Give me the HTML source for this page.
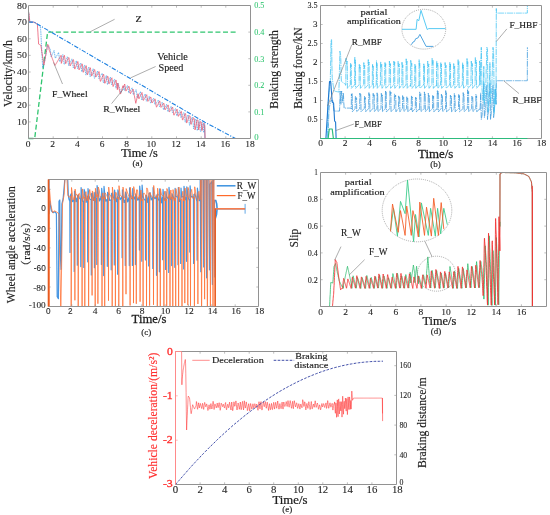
<!DOCTYPE html>
<html lang="en">
<head>
<meta charset="utf-8">
<title>ABS braking simulation curves</title>
<style>
html,body{margin:0;padding:0;background:#fff;}
body{width:550px;height:515px;overflow:hidden;font-family:"Liberation Serif",serif;}
svg{display:block;}
</style>
</head>
<body>
<svg width="550" height="515" viewBox="0 0 550 515" font-family='"Liberation Serif", serif'>
<rect x="0" y="0" width="550" height="515" fill="#ffffff"/>
<g id="pa">
<path d="M28.5 138.5 L34.7 138.5 L47.6 32.1 L235.7 32.1" fill="none" stroke="#2fc56f" stroke-width="1.3" stroke-dasharray="5 2.6" />
<path d="M28.5 11.3 L28.7 12.6 L29.0 13.8 L29.2 16.3 L29.5 18.8 L29.7 21.3 L30.0 22.1 L30.2 22.1 L30.5 22.1 L30.7 22.1 L31.0 22.1 L31.2 22.1 L31.5 22.1 L31.7 22.1 L32.0 22.1 L32.2 22.1 L32.4 22.1 L32.7 22.1 L32.9 22.1 L33.2 22.1 L33.4 22.1 L33.7 22.1 L33.9 22.1 L34.2 22.2 L34.4 22.3 L34.7 22.5 L34.9 22.6 L35.2 22.8 L35.4 22.9 L35.7 23.1 L35.9 23.2 L36.1 23.4 L36.4 23.5 L36.6 23.6 L36.9 23.8 L37.1 23.9 L37.4 24.1 L37.6 24.2 L37.9 24.4 L38.1 24.5 L38.4 24.7 L38.6 24.8 L38.9 24.9 L39.1 25.1 L39.4 25.2 L39.6 25.4 L39.8 25.5 L40.1 25.7 L40.3 26.9 L40.6 29.3 L40.8 31.7 L41.1 36.6 L41.3 41.6 L41.6 46.5 L41.8 51.4 L42.1 56.2 L42.3 61.1 L42.6 66.0 L42.8 67.9 L43.1 67.0 L43.3 66.0 L43.5 65.1 L43.8 64.1 L44.0 63.2 L44.3 62.3 L44.5 61.3 L44.8 60.0 L45.0 58.7 L45.3 57.4 L45.5 56.1 L45.8 54.8 L46.0 53.5 L46.3 52.3 L46.5 51.0 L46.8 49.7 L47.0 48.4 L47.2 47.2 L47.5 45.9 L47.7 45.4 L48.0 45.8 L48.2 46.1 L48.5 46.4 L48.7 46.8 L49.0 47.2 L49.2 47.8 L49.5 48.3 L49.7 48.9 L50.0 49.4 L50.2 49.3 L50.5 51.2 L50.7 53.1 L50.9 55.0 L51.2 56.9 L51.4 56.4 L51.7 55.8 L51.9 55.3 L52.2 54.7 L52.4 54.1 L52.7 53.5 L52.9 53.0 L53.2 52.4 L53.4 51.8 L53.7 51.3 L53.9 50.7 L54.2 50.7 L54.4 52.3 L54.6 53.9 L54.9 55.4 L55.1 57.0 L55.4 58.3 L55.6 57.9 L55.9 57.4 L56.1 57.0 L56.4 56.5 L56.6 56.1 L56.9 55.6 L57.1 55.1 L57.4 54.7 L57.6 54.2 L57.9 53.8 L58.1 53.3 L58.3 52.9 L58.6 52.4 L58.8 54.2 L59.1 56.1 L59.3 58.1 L59.6 60.1 L59.8 61.8 L60.1 61.2 L60.3 60.6 L60.6 60.0 L60.8 59.4 L61.1 58.8 L61.3 58.2 L61.6 57.6 L61.8 57.0 L62.0 56.4 L62.3 55.8 L62.5 55.2 L62.8 54.6 L63.0 55.6 L63.3 57.6 L63.5 59.7 L63.8 61.7 L64.0 63.7 L64.3 64.3 L64.5 63.7 L64.8 63.1 L65.0 62.5 L65.3 61.8 L65.5 61.2 L65.7 60.6 L66.0 60.0 L66.2 59.3 L66.5 58.7 L66.7 58.1 L67.0 57.4 L67.2 56.8 L67.5 57.3 L67.7 59.0 L68.0 60.8 L68.2 62.6 L68.5 64.3 L68.7 65.8 L69.0 65.3 L69.2 64.7 L69.4 64.2 L69.7 63.7 L69.9 63.1 L70.2 62.6 L70.4 62.1 L70.7 61.6 L70.9 61.0 L71.2 60.5 L71.4 60.0 L71.7 59.5 L71.9 58.9 L72.2 59.7 L72.4 61.6 L72.7 63.5 L72.9 65.4 L73.1 67.4 L73.4 67.8 L73.6 67.3 L73.9 66.7 L74.1 66.1 L74.4 65.5 L74.6 64.9 L74.9 64.3 L75.1 63.7 L75.4 63.1 L75.6 62.5 L75.9 62.0 L76.1 61.4 L76.4 60.8 L76.6 62.2 L76.8 63.8 L77.1 65.5 L77.3 67.1 L77.6 68.7 L77.8 68.3 L78.1 67.8 L78.3 67.3 L78.6 66.9 L78.8 66.4 L79.1 65.9 L79.3 65.4 L79.6 64.9 L79.8 64.5 L80.1 64.0 L80.3 63.5 L80.5 63.0 L80.8 63.6 L81.0 65.6 L81.3 67.7 L81.5 69.8 L81.8 71.9 L82.0 71.6 L82.3 71.0 L82.5 70.3 L82.8 69.7 L83.0 69.0 L83.3 68.4 L83.5 67.7 L83.8 67.1 L84.0 66.5 L84.2 65.8 L84.5 65.2 L84.7 65.1 L85.0 67.3 L85.2 69.6 L85.5 71.9 L85.7 74.2 L86.0 75.1 L86.2 74.3 L86.5 73.6 L86.7 72.9 L87.0 72.1 L87.2 71.4 L87.5 70.7 L87.7 70.0 L87.9 69.2 L88.2 68.5 L88.4 67.8 L88.7 67.1 L88.9 67.4 L89.2 69.5 L89.4 71.7 L89.7 73.8 L89.9 75.9 L90.2 76.7 L90.4 76.1 L90.7 75.4 L90.9 74.7 L91.2 74.1 L91.4 73.4 L91.6 72.7 L91.9 72.1 L92.1 71.4 L92.4 70.8 L92.6 70.1 L92.9 69.4 L93.1 68.8 L93.4 70.4 L93.6 72.4 L93.9 74.4 L94.1 76.3 L94.4 78.3 L94.6 78.2 L94.9 77.6 L95.1 77.0 L95.3 76.3 L95.6 75.7 L95.8 75.1 L96.1 74.5 L96.3 73.9 L96.6 73.3 L96.8 72.7 L97.1 72.1 L97.3 71.5 L97.6 70.9 L97.8 72.1 L98.1 73.7 L98.3 75.3 L98.6 76.8 L98.8 78.4 L99.0 78.6 L99.3 78.1 L99.5 77.7 L99.8 77.2 L100.0 76.8 L100.3 76.4 L100.5 75.9 L100.8 75.5 L101.0 75.0 L101.3 74.6 L101.5 74.1 L101.8 73.7 L102.0 73.3 L102.3 73.9 L102.5 76.0 L102.7 78.2 L103.0 80.3 L103.2 82.4 L103.5 82.8 L103.7 82.1 L104.0 81.5 L104.2 80.8 L104.5 80.1 L104.7 79.5 L105.0 78.8 L105.2 78.1 L105.5 77.5 L105.7 76.8 L106.0 76.2 L106.2 75.5 L106.4 75.6 L106.7 77.8 L106.9 80.0 L107.2 82.2 L107.4 84.4 L107.7 84.5 L107.9 83.8 L108.2 83.1 L108.4 82.4 L108.7 81.7 L108.9 81.0 L109.2 80.3 L109.4 79.6 L109.7 79.0 L109.9 78.3 L110.1 77.6 L110.4 77.1 L110.6 78.8 L110.9 80.5 L111.1 82.1 L111.4 83.8 L111.6 84.7 L111.9 84.2 L112.1 83.7 L112.4 83.2 L112.6 82.7 L112.9 82.2 L113.1 81.8 L113.4 81.3 L113.6 80.8 L113.8 80.3 L114.1 79.8 L114.3 79.3 L114.6 79.4 L114.8 81.1 L115.1 82.9 L115.3 84.6 L115.6 86.3 L115.8 88.1 L116.1 87.6 L116.3 87.1 L116.6 86.6 L116.8 86.1 L117.1 85.5 L117.3 85.0 L117.5 84.5 L117.8 84.0 L118.0 83.1 L118.3 84.0 L118.5 84.8 L118.8 85.6 L119.0 86.4 L119.3 87.2 L119.5 88.0 L119.8 88.8 L120.0 89.6 L120.3 90.4 L120.5 91.2 L120.8 91.9 L121.0 92.7 L121.2 92.2 L121.5 91.6 L121.7 91.0 L122.0 90.4 L122.2 89.9 L122.5 89.3 L122.7 88.8 L123.0 88.2 L123.2 87.6 L123.5 87.1 L123.7 86.5 L124.0 86.0 L124.2 89.1 L124.5 90.6 L124.7 90.2 L124.9 89.8 L125.2 89.3 L125.4 88.9 L125.7 88.5 L125.9 88.0 L126.2 87.6 L126.4 87.2 L126.7 86.8 L126.9 86.4 L127.2 85.9 L127.4 85.5 L127.7 86.0 L127.9 87.5 L128.2 89.0 L128.4 90.5 L128.6 92.0 L128.9 93.1 L129.1 92.6 L129.4 92.2 L129.6 91.8 L129.9 91.4 L130.1 91.0 L130.4 90.6 L130.6 90.2 L130.9 89.7 L131.1 89.3 L131.4 88.9 L131.6 88.5 L131.9 88.1 L132.1 87.7 L132.3 88.7 L132.6 90.3 L132.8 91.9 L133.1 93.5 L133.3 94.7 L133.6 94.3 L133.8 93.8 L134.1 93.4 L134.3 92.9 L134.6 92.4 L134.8 92.0 L135.1 91.5 L135.3 91.0 L135.6 90.6 L135.8 90.1 L136.0 89.7 L136.3 90.6 L136.5 92.4 L136.8 94.1 L137.0 95.9 L137.3 97.7 L137.5 98.0 L137.8 97.4 L138.0 96.9 L138.3 96.4 L138.5 95.9 L138.8 95.3 L139.0 94.8 L139.3 94.3 L139.5 93.8 L139.7 93.3 L140.0 92.8 L140.2 92.2 L140.5 91.7 L140.7 93.0 L141.0 94.7 L141.2 96.4 L141.5 98.1 L141.7 99.7 L142.0 100.2 L142.2 99.7 L142.5 99.2 L142.7 98.8 L143.0 98.3 L143.2 97.8 L143.4 97.3 L143.7 96.8 L143.9 96.3 L144.2 95.9 L144.4 95.4 L144.7 94.9 L144.9 94.4 L145.2 93.9 L145.4 95.5 L145.7 97.1 L145.9 98.7 L146.2 100.3 L146.4 101.2 L146.7 100.8 L146.9 100.3 L147.1 99.9 L147.4 99.4 L147.6 99.0 L147.9 98.5 L148.1 98.1 L148.4 97.6 L148.6 97.2 L148.9 96.7 L149.1 96.3 L149.4 96.4 L149.6 97.9 L149.9 99.3 L150.1 100.8 L150.4 102.3 L150.6 103.1 L150.8 102.7 L151.1 102.3 L151.3 101.9 L151.6 101.5 L151.8 101.1 L152.1 100.6 L152.3 100.2 L152.6 99.8 L152.8 99.4 L153.1 99.0 L153.3 98.6 L153.6 98.2 L153.8 98.9 L154.1 100.1 L154.3 101.4 L154.5 102.7 L154.8 104.0 L155.0 104.6 L155.3 104.3 L155.5 103.9 L155.8 103.6 L156.0 103.3 L156.3 102.9 L156.5 102.6 L156.8 102.3 L157.0 101.9 L157.3 101.6 L157.5 101.2 L157.8 100.9 L158.0 100.6 L158.2 100.2 L158.5 101.5 L158.7 102.9 L159.0 104.3 L159.2 105.8 L159.5 106.6 L159.7 106.2 L160.0 105.8 L160.2 105.4 L160.5 105.0 L160.7 104.6 L161.0 104.2 L161.2 103.9 L161.5 103.5 L161.7 103.1 L161.9 102.7 L162.2 102.3 L162.4 102.9 L162.7 104.6 L162.9 106.2 L163.2 107.8 L163.4 109.4 L163.7 109.8 L163.9 109.3 L164.2 108.8 L164.4 108.4 L164.7 107.9 L164.9 107.5 L165.2 107.0 L165.4 106.5 L165.6 106.1 L165.9 105.6 L166.1 105.1 L166.4 104.7 L166.6 104.2 L166.9 105.6 L167.1 107.1 L167.4 108.6 L167.6 110.2 L167.9 111.7 L168.1 111.6 L168.4 111.2 L168.6 110.8 L168.9 110.3 L169.1 109.9 L169.3 109.5 L169.6 109.0 L169.8 108.6 L170.1 108.2 L170.3 107.7 L170.6 107.3 L170.8 106.9 L171.1 106.4 L171.3 107.2 L171.6 108.5 L171.8 109.8 L172.1 111.1 L172.3 112.4 L172.6 112.6 L172.8 112.3 L173.0 112.0 L173.3 111.6 L173.5 111.3 L173.8 110.9 L174.0 110.6 L174.3 110.2 L174.5 109.9 L174.8 109.6 L175.0 109.2 L175.3 108.9 L175.5 108.5 L175.8 109.5 L176.0 111.0 L176.3 112.6 L176.5 114.1 L176.7 115.7 L177.0 115.6 L177.2 115.2 L177.5 114.7 L177.7 114.3 L178.0 113.8 L178.2 113.4 L178.5 112.9 L178.7 112.4 L179.0 112.0 L179.2 111.5 L179.5 111.0 L179.7 110.6 L180.0 110.8 L180.2 112.3 L180.4 113.9 L180.7 115.7 L180.9 117.4 L181.2 117.8 L181.4 117.4 L181.7 116.9 L181.9 116.4 L182.2 115.9 L182.4 115.4 L182.7 114.8 L182.9 114.3 L183.2 113.7 L183.4 113.1 L183.7 112.7 L183.9 112.8 L184.1 113.1 L184.4 115.3 L184.6 117.5 L184.9 119.8 L185.1 122.1 L185.4 122.1 L185.6 121.5 L185.9 120.8 L186.1 120.1 L186.4 119.4 L186.6 118.7 L186.9 117.9 L187.1 117.2 L187.4 116.4 L187.6 115.6 L187.8 114.9 L188.1 115.1 L188.3 115.2 L188.6 116.3 L188.8 118.7 L189.1 121.3 L189.3 123.9 L189.6 125.3 L189.8 124.5 L190.1 123.8 L190.3 123.0 L190.6 122.2 L190.8 121.3 L191.1 120.4 L191.3 119.5 L191.5 118.5 L191.8 117.5 L192.0 117.1 L192.3 117.3 L192.5 117.4 L192.8 118.1 L193.0 121.5 L193.3 125.1 L193.5 128.7 L193.8 128.1 L194.0 127.0 L194.3 125.8 L194.5 124.6 L194.8 123.4 L195.0 122.1 L195.2 120.8 L195.5 119.5 L195.7 119.1 L196.0 119.2 L196.2 119.4 L196.5 120.1 L196.7 124.3 L197.0 128.6 L197.2 130.6 L197.5 129.7 L197.7 128.2 L198.0 126.8 L198.2 125.3 L198.5 123.8 L198.7 122.3 L198.9 120.8 L199.2 120.9 L199.4 121.0 L199.7 121.2 L199.9 124.8 L200.2 129.7 L200.4 131.4 L200.7 131.4 L200.9 131.5 L201.2 130.8 L201.4 129.0 L201.7 127.2 L201.9 125.5 L202.2 123.8 L202.4 122.6 L202.6 122.7 L202.9 122.9 L203.1 123.9 L203.4 128.3 L203.6 132.1 L203.9 132.1 L204.1 132.2 L204.4 131.8 L204.6 130.2" fill="none" stroke="#4aa3ea" stroke-width="0.8" stroke-dasharray="1.6 0.7" />
<path d="M204.6 123.5 L204.9 138.5" fill="none" stroke="#4aa3ea" stroke-width="0.8" />
<path d="M28.5 11.3 L28.7 12.6 L29.0 13.8 L29.2 16.3 L29.5 18.8 L29.7 21.3 L30.0 22.1 L30.2 22.1 L30.5 22.1 L30.7 22.1 L31.0 22.1 L31.2 22.1 L31.5 22.1 L31.7 22.1 L32.0 22.1 L32.2 22.1 L32.4 22.1 L32.7 22.1 L32.9 22.1 L33.2 22.1 L33.4 22.1 L33.7 22.1 L33.9 22.1 L34.2 22.2 L34.4 22.3 L34.7 22.5 L34.9 22.6 L35.2 22.8 L35.4 22.9 L35.7 23.1 L35.9 23.2 L36.1 23.4 L36.4 23.5 L36.6 23.6 L36.9 23.8 L37.1 23.9 L37.4 24.1 L37.6 28.1 L37.9 32.1 L38.1 36.1 L38.4 40.1 L38.6 44.1 L38.9 44.2 L39.1 44.4 L39.4 44.5 L39.6 44.6 L39.8 44.7 L40.1 44.9 L40.3 45.0 L40.6 45.1 L40.8 45.2 L41.1 46.9 L41.3 48.5 L41.6 50.1 L41.8 51.8 L42.1 53.4 L42.3 55.0 L42.6 56.7 L42.8 58.3 L43.1 59.9 L43.3 61.5 L43.5 63.1 L43.8 64.7 L44.0 64.8 L44.3 63.4 L44.5 62.1 L44.8 60.7 L45.0 59.3 L45.3 58.0 L45.5 56.6 L45.8 55.3 L46.0 53.8 L46.3 52.3 L46.5 50.8 L46.8 49.3 L47.0 47.8 L47.2 46.4 L47.5 44.9 L47.7 44.3 L48.0 44.7 L48.2 45.0 L48.5 45.4 L48.7 45.7 L49.0 49.5 L49.2 50.1 L49.5 50.8 L49.7 51.5 L50.0 52.2 L50.2 52.8 L50.5 53.5 L50.7 54.2 L50.9 54.8 L51.2 55.5 L51.4 56.2 L51.7 56.8 L51.9 57.5 L52.2 58.2 L52.4 58.8 L52.7 59.5 L52.9 60.1 L53.2 60.8 L53.4 61.4 L53.7 62.1 L53.9 62.7 L54.2 63.4 L54.4 64.0 L54.6 64.7 L54.9 65.3 L55.1 65.4 L55.4 65.0 L55.6 64.5 L55.9 64.1 L56.1 63.7 L56.4 63.2 L56.6 62.8 L56.9 62.4 L57.1 62.0 L57.4 61.5 L57.6 61.1 L57.9 60.7 L58.1 60.3 L58.3 59.8 L58.6 59.4 L58.8 59.0 L59.1 58.6 L59.3 58.2 L59.6 57.8 L59.8 57.4 L60.1 56.9 L60.3 56.5 L60.6 56.1 L60.8 55.7 L61.1 55.3 L61.3 63.4 L61.6 62.7 L61.8 62.1 L62.0 61.4 L62.3 60.7 L62.5 60.0 L62.8 59.4 L63.0 58.7 L63.3 58.0 L63.5 57.3 L63.8 56.7 L64.0 56.0 L64.3 55.3 L64.5 56.1 L64.8 57.9 L65.0 59.7 L65.3 61.4 L65.5 63.2 L65.7 63.7 L66.0 63.2 L66.2 62.7 L66.5 62.2 L66.7 61.6 L67.0 61.1 L67.2 60.6 L67.5 60.1 L67.7 59.5 L68.0 59.0 L68.2 58.5 L68.5 58.0 L68.7 57.5 L69.0 57.9 L69.2 59.6 L69.4 61.2 L69.7 62.9 L69.9 64.5 L70.2 65.9 L70.4 65.4 L70.7 64.9 L70.9 64.4 L71.2 63.9 L71.4 63.5 L71.7 63.0 L71.9 62.5 L72.2 62.0 L72.4 61.5 L72.7 61.0 L72.9 60.6 L73.1 60.1 L73.4 59.6 L73.6 60.4 L73.9 62.5 L74.1 64.5 L74.4 66.6 L74.6 68.6 L74.9 69.1 L75.1 68.5 L75.4 67.8 L75.6 67.2 L75.9 66.6 L76.1 65.9 L76.4 65.3 L76.6 64.7 L76.8 64.0 L77.1 63.4 L77.3 62.8 L77.6 62.1 L77.8 61.5 L78.1 63.0 L78.3 64.7 L78.6 66.4 L78.8 68.2 L79.1 69.9 L79.3 69.4 L79.6 68.9 L79.8 68.4 L80.1 67.9 L80.3 67.3 L80.5 66.8 L80.8 66.3 L81.0 65.8 L81.3 65.3 L81.5 64.8 L81.8 64.3 L82.0 63.8 L82.3 64.2 L82.5 66.3 L82.8 68.3 L83.0 70.3 L83.3 72.3 L83.5 72.0 L83.8 71.4 L84.0 70.8 L84.2 70.2 L84.5 69.6 L84.7 68.9 L85.0 68.3 L85.2 67.7 L85.5 67.1 L85.7 66.5 L86.0 65.9 L86.2 65.7 L86.5 67.8 L86.7 69.9 L87.0 71.9 L87.2 74.0 L87.5 74.8 L87.7 74.2 L87.9 73.5 L88.2 72.9 L88.4 72.2 L88.7 71.6 L88.9 70.9 L89.2 70.3 L89.4 69.7 L89.7 69.0 L89.9 68.4 L90.2 67.7 L90.4 68.0 L90.7 69.9 L90.9 71.7 L91.2 73.6 L91.4 75.4 L91.6 76.1 L91.9 75.6 L92.1 75.0 L92.4 74.5 L92.6 73.9 L92.9 73.4 L93.1 72.8 L93.4 72.2 L93.6 71.7 L93.9 71.1 L94.1 70.6 L94.4 70.0 L94.6 69.5 L94.9 70.7 L95.1 72.3 L95.3 73.8 L95.6 75.4 L95.8 76.9 L96.1 76.8 L96.3 76.4 L96.6 76.0 L96.8 75.5 L97.1 75.1 L97.3 74.6 L97.6 74.2 L97.8 73.8 L98.1 73.3 L98.3 72.9 L98.6 72.5 L98.8 72.0 L99.0 71.6 L99.3 73.2 L99.5 75.2 L99.8 77.2 L100.0 79.2 L100.3 81.2 L100.5 81.4 L100.8 80.8 L101.0 80.2 L101.3 79.6 L101.5 78.9 L101.8 78.3 L102.0 77.7 L102.3 77.1 L102.5 76.5 L102.7 75.9 L103.0 75.3 L103.2 74.7 L103.5 74.1 L103.7 74.6 L104.0 76.7 L104.2 78.8 L104.5 81.0 L104.7 83.1 L105.0 83.4 L105.2 82.8 L105.5 82.1 L105.7 81.5 L106.0 80.8 L106.2 80.1 L106.4 79.5 L106.7 78.8 L106.9 78.2 L107.2 77.5 L107.4 76.9 L107.7 76.2 L107.9 76.3 L108.2 78.1 L108.4 79.9 L108.7 81.8 L108.9 83.6 L109.2 83.7 L109.4 83.1 L109.7 82.6 L109.9 82.0 L110.1 81.5 L110.4 80.9 L110.6 80.4 L110.9 79.8 L111.1 79.3 L111.4 78.7 L111.6 78.2 L111.9 77.8 L112.1 79.8 L112.4 81.7 L112.6 83.6 L112.9 85.5 L113.1 86.5 L113.4 85.9 L113.6 85.3 L113.8 84.8 L114.1 84.2 L114.3 83.6 L114.6 83.0 L114.8 82.4 L115.1 81.9 L115.3 81.3 L115.6 80.7 L115.8 80.1 L116.1 80.1 L116.3 82.0 L116.6 84.0 L116.8 85.9 L117.1 87.8 L117.3 89.7 L117.5 89.2 L117.8 83.2 L118.0 84.3 L118.3 85.3 L118.5 86.4 L118.8 87.5 L119.0 88.6 L119.3 89.7 L119.5 90.7 L119.8 91.8 L120.0 92.9 L120.3 93.9 L120.5 94.0 L120.8 93.2 L121.0 92.3 L121.2 91.5 L121.5 90.6 L121.7 89.8 L122.0 89.0 L122.2 88.1 L122.5 87.3 L122.7 86.5 L123.0 85.7 L123.2 87.7 L123.5 87.1 L123.7 86.5 L124.0 85.9 L124.2 85.3 L124.5 84.6 L124.7 84.0 L124.9 85.2 L125.2 86.7 L125.4 88.2 L125.7 89.7 L125.9 91.1 L126.2 90.7 L126.4 90.3 L126.7 89.9 L126.9 89.5 L127.2 89.1 L127.4 88.7 L127.7 88.3 L127.9 87.9 L128.2 87.5 L128.4 87.0 L128.6 86.6 L128.9 86.2 L129.1 86.8 L129.4 88.2 L129.6 89.7 L129.9 91.2 L130.1 92.7 L130.4 93.7 L130.6 93.3 L130.9 92.9 L131.1 92.5 L131.4 92.1 L131.6 91.7 L131.9 91.2 L132.1 90.8 L132.3 90.4 L132.6 90.0 L132.8 89.6 L133.1 89.2 L133.3 90.2 L133.6 91.6 L133.8 92.9 L134.1 94.2 L134.3 95.5 L134.6 96.9 L134.8 98.2 L135.1 99.5 L135.3 100.8 L135.6 102.1 L135.8 103.3 L136.0 102.2 L136.3 101.1 L136.5 100.1 L136.8 99.0 L137.0 97.9 L137.3 96.8 L137.5 95.8 L137.8 94.7 L138.0 93.7 L138.3 94.9 L138.5 96.7 L138.8 98.5 L139.0 98.8 L139.3 98.3 L139.5 97.7 L139.7 97.2 L140.0 96.7 L140.2 96.1 L140.5 95.6 L140.7 95.1 L141.0 94.6 L141.2 94.0 L141.5 93.5 L141.7 93.0 L142.0 92.5 L142.2 93.7 L142.5 95.3 L142.7 96.8 L143.0 98.4 L143.2 100.0 L143.4 100.4 L143.7 100.0 L143.9 99.5 L144.2 99.1 L144.4 98.6 L144.7 98.2 L144.9 97.8 L145.2 97.3 L145.4 96.9 L145.7 96.4 L145.9 96.0 L146.2 95.5 L146.4 95.1 L146.7 94.7 L146.9 96.1 L147.1 97.5 L147.4 99.0 L147.6 100.5 L147.9 101.4 L148.1 101.0 L148.4 100.6 L148.6 100.2 L148.9 99.7 L149.1 99.3 L149.4 98.9 L149.6 98.6 L149.9 98.2 L150.1 97.8 L150.4 97.4 L150.6 97.0 L150.8 97.1 L151.1 98.4 L151.3 99.7 L151.6 101.0 L151.8 102.3 L152.1 103.0 L152.3 102.7 L152.6 102.3 L152.8 102.0 L153.1 101.6 L153.3 101.3 L153.6 100.9 L153.8 100.6 L154.1 100.2 L154.3 99.9 L154.5 99.6 L154.8 99.2 L155.0 98.9 L155.3 99.8 L155.5 101.5 L155.8 103.1 L156.0 104.8 L156.3 106.4 L156.5 107.2 L156.8 106.7 L157.0 106.3 L157.3 105.8 L157.5 105.3 L157.8 104.8 L158.0 104.3 L158.2 103.8 L158.5 103.3 L158.7 102.9 L159.0 102.4 L159.2 101.9 L159.5 101.4 L159.7 100.9 L160.0 102.2 L160.2 103.7 L160.5 105.1 L160.7 106.5 L161.0 107.4 L161.2 107.0 L161.5 106.6 L161.7 106.2 L161.9 105.8 L162.2 105.4 L162.4 105.0 L162.7 104.6 L162.9 104.2 L163.2 103.8 L163.4 103.4 L163.7 103.0 L163.9 103.6 L164.2 105.0 L164.4 106.5 L164.7 108.0 L164.9 109.5 L165.2 109.9 L165.4 109.4 L165.6 109.0 L165.9 108.6 L166.1 108.2 L166.4 107.8 L166.6 107.4 L166.9 107.0 L167.1 106.6 L167.4 106.1 L167.6 105.7 L167.9 105.3 L168.1 104.9 L168.4 106.2 L168.6 107.6 L168.9 109.0 L169.1 110.4 L169.3 111.8 L169.6 111.8 L169.8 111.4 L170.1 111.0 L170.3 110.6 L170.6 110.2 L170.8 109.8 L171.1 109.5 L171.3 109.1 L171.6 108.7 L171.8 108.3 L172.1 107.9 L172.3 107.5 L172.6 107.1 L172.8 108.2 L173.0 109.8 L173.3 111.5 L173.5 113.2 L173.8 114.9 L174.0 115.2 L174.3 114.7 L174.5 114.2 L174.8 113.7 L175.0 113.2 L175.3 112.7 L175.5 112.2 L175.8 111.8 L176.0 111.3 L176.3 110.8 L176.5 110.3 L176.7 109.8 L177.0 109.2 L177.2 110.1 L177.5 111.6 L177.7 113.2 L178.0 114.7 L178.2 116.3 L178.5 116.2 L178.7 115.8 L179.0 115.3 L179.2 114.9 L179.5 114.4 L179.7 114.0 L180.0 113.5 L180.2 113.0 L180.4 112.6 L180.7 112.1 L180.9 111.6 L181.2 111.4 L181.4 111.5 L181.7 113.3 L181.9 115.4 L182.2 117.5 L182.4 119.6 L182.7 120.1 L182.9 119.5 L183.2 118.9 L183.4 118.2 L183.7 117.6 L183.9 116.9 L184.1 116.2 L184.4 115.5 L184.6 114.8 L184.9 114.0 L185.1 113.5 L185.4 113.6 L185.6 113.8 L185.9 115.9 L186.1 118.2 L186.4 120.4 L186.6 122.8 L186.9 122.8 L187.1 122.1 L187.4 121.4 L187.6 120.7 L187.8 120.0 L188.1 119.3 L188.3 118.5 L188.6 117.8 L188.8 117.0 L189.1 116.2 L189.3 115.7 L189.6 115.8 L189.8 116.0 L190.1 116.3 L190.3 118.6 L190.6 120.8 L190.8 123.2 L191.1 124.4 L191.3 123.7 L191.5 123.0 L191.8 122.3 L192.0 121.6 L192.3 120.8 L192.5 120.0 L192.8 119.2 L193.0 118.3 L193.3 117.8 L193.5 117.9 L193.8 118.1 L194.0 118.2 L194.3 118.7 L194.5 122.4 L194.8 126.1 L195.0 129.9 L195.2 129.3 L195.5 128.1 L195.7 126.8 L196.0 125.5 L196.2 124.2 L196.5 122.8 L196.7 121.5 L197.0 120.2 L197.2 119.9 L197.5 120.0 L197.7 120.1 L198.0 120.3 L198.2 123.9 L198.5 127.6 L198.7 129.9 L198.9 128.6 L199.2 127.4 L199.4 126.1 L199.7 124.8 L199.9 123.6 L200.2 122.3 L200.4 121.6 L200.7 121.7 L200.9 121.8 L201.2 122.0 L201.4 123.6 L201.7 127.2 L201.9 130.6 L202.2 130.3 L202.4 129.0 L202.6 127.8 L202.9 126.5 L203.1 125.4 L203.4 124.2 L203.6 123.3 L203.9 123.4 L204.1 123.5 L204.4 123.7 L204.6 124.3" fill="none" stroke="#e8506a" stroke-width="0.75" />
<path d="M204.7 125.2 L205.1 138.5" fill="none" stroke="#e8506a" stroke-width="0.8" />
<path d="M28.5 22.1 L34.0 22.1 L204.9 122.3 L235.5 138.5" fill="none" stroke="#1a7fe0" stroke-width="1.1" stroke-dasharray="4.5 1.5 1.2 1.5" />
<line x1="53.2" y1="138.5" x2="53.2" y2="136.3" stroke="#929292" stroke-width="0.6" />
<line x1="53.2" y1="5.5" x2="53.2" y2="7.7" stroke="#929292" stroke-width="0.6" />
<line x1="77.8" y1="138.5" x2="77.8" y2="136.3" stroke="#929292" stroke-width="0.6" />
<line x1="77.8" y1="5.5" x2="77.8" y2="7.7" stroke="#929292" stroke-width="0.6" />
<line x1="102.5" y1="138.5" x2="102.5" y2="136.3" stroke="#929292" stroke-width="0.6" />
<line x1="102.5" y1="5.5" x2="102.5" y2="7.7" stroke="#929292" stroke-width="0.6" />
<line x1="127.2" y1="138.5" x2="127.2" y2="136.3" stroke="#929292" stroke-width="0.6" />
<line x1="127.2" y1="5.5" x2="127.2" y2="7.7" stroke="#929292" stroke-width="0.6" />
<line x1="151.8" y1="138.5" x2="151.8" y2="136.3" stroke="#929292" stroke-width="0.6" />
<line x1="151.8" y1="5.5" x2="151.8" y2="7.7" stroke="#929292" stroke-width="0.6" />
<line x1="176.5" y1="138.5" x2="176.5" y2="136.3" stroke="#929292" stroke-width="0.6" />
<line x1="176.5" y1="5.5" x2="176.5" y2="7.7" stroke="#929292" stroke-width="0.6" />
<line x1="201.2" y1="138.5" x2="201.2" y2="136.3" stroke="#929292" stroke-width="0.6" />
<line x1="201.2" y1="5.5" x2="201.2" y2="7.7" stroke="#929292" stroke-width="0.6" />
<line x1="225.8" y1="138.5" x2="225.8" y2="136.3" stroke="#929292" stroke-width="0.6" />
<line x1="225.8" y1="5.5" x2="225.8" y2="7.7" stroke="#929292" stroke-width="0.6" />
<line x1="28.5" y1="121.9" x2="30.7" y2="121.9" stroke="#929292" stroke-width="0.6" />
<line x1="28.5" y1="105.2" x2="30.7" y2="105.2" stroke="#929292" stroke-width="0.6" />
<line x1="28.5" y1="88.6" x2="30.7" y2="88.6" stroke="#929292" stroke-width="0.6" />
<line x1="28.5" y1="72.0" x2="30.7" y2="72.0" stroke="#929292" stroke-width="0.6" />
<line x1="28.5" y1="55.4" x2="30.7" y2="55.4" stroke="#929292" stroke-width="0.6" />
<line x1="28.5" y1="38.8" x2="30.7" y2="38.8" stroke="#929292" stroke-width="0.6" />
<line x1="28.5" y1="22.1" x2="30.7" y2="22.1" stroke="#929292" stroke-width="0.6" />
<line x1="250.5" y1="111.9" x2="248.3" y2="111.9" stroke="#929292" stroke-width="0.6" />
<line x1="250.5" y1="85.3" x2="248.3" y2="85.3" stroke="#929292" stroke-width="0.6" />
<line x1="250.5" y1="58.7" x2="248.3" y2="58.7" stroke="#929292" stroke-width="0.6" />
<line x1="250.5" y1="32.1" x2="248.3" y2="32.1" stroke="#929292" stroke-width="0.6" />
<line x1="28.5" y1="5.5" x2="250.5" y2="5.5" stroke="#929292" stroke-width="1.0" />
<line x1="28.5" y1="138.5" x2="250.5" y2="138.5" stroke="#929292" stroke-width="1.0" />
<line x1="28.5" y1="5.5" x2="28.5" y2="138.5" stroke="#929292" stroke-width="1.0" />
<line x1="250.5" y1="5.5" x2="250.5" y2="138.5" stroke="#929292" stroke-width="1.0" />
<line x1="114.6" y1="19.3" x2="90.5" y2="31.6" stroke="#777" stroke-width="0.6" />
<line x1="155.6" y1="66.5" x2="130.5" y2="77.9" stroke="#777" stroke-width="0.6" />
<line x1="53.5" y1="62.4" x2="62.5" y2="84.0" stroke="#777" stroke-width="0.6" />
<line x1="124.0" y1="88.4" x2="111.6" y2="103.6" stroke="#777" stroke-width="0.6" />
<text font-size="8.8" fill="#262626" stroke="#262626" stroke-width="0.1" text-anchor="end" transform="translate(26.9 124.9) scale(1.114 1)">10</text>
<text font-size="8.8" fill="#262626" stroke="#262626" stroke-width="0.1" text-anchor="end" transform="translate(26.9 108.2) scale(1.114 1)">20</text>
<text font-size="8.8" fill="#262626" stroke="#262626" stroke-width="0.1" text-anchor="end" transform="translate(26.9 91.6) scale(1.114 1)">30</text>
<text font-size="8.8" fill="#262626" stroke="#262626" stroke-width="0.1" text-anchor="end" transform="translate(26.9 75.0) scale(1.114 1)">40</text>
<text font-size="8.8" fill="#262626" stroke="#262626" stroke-width="0.1" text-anchor="end" transform="translate(26.9 58.4) scale(1.114 1)">50</text>
<text font-size="8.8" fill="#262626" stroke="#262626" stroke-width="0.1" text-anchor="end" transform="translate(26.9 41.8) scale(1.114 1)">60</text>
<text font-size="8.8" fill="#262626" stroke="#262626" stroke-width="0.1" text-anchor="end" transform="translate(26.9 25.1) scale(1.114 1)">70</text>
<text font-size="8.8" fill="#262626" stroke="#262626" stroke-width="0.1" text-anchor="end" transform="translate(26.9 8.5) scale(1.114 1)">80</text>
<text font-size="8.8" fill="#262626" stroke="#262626" stroke-width="0.1" text-anchor="middle" transform="translate(28.0 146.8) scale(1.080 1)">0</text>
<text font-size="8.8" fill="#262626" stroke="#262626" stroke-width="0.1" text-anchor="middle" transform="translate(52.7 146.8) scale(1.080 1)">2</text>
<text font-size="8.8" fill="#262626" stroke="#262626" stroke-width="0.1" text-anchor="middle" transform="translate(77.3 146.8) scale(1.080 1)">4</text>
<text font-size="8.8" fill="#262626" stroke="#262626" stroke-width="0.1" text-anchor="middle" transform="translate(102.0 146.8) scale(1.080 1)">6</text>
<text font-size="8.8" fill="#262626" stroke="#262626" stroke-width="0.1" text-anchor="middle" transform="translate(126.7 146.8) scale(1.080 1)">8</text>
<text font-size="8.8" fill="#262626" stroke="#262626" stroke-width="0.1" text-anchor="middle" transform="translate(151.3 146.8) scale(1.080 1)">10</text>
<text font-size="8.8" fill="#262626" stroke="#262626" stroke-width="0.1" text-anchor="middle" transform="translate(176.0 146.8) scale(1.080 1)">12</text>
<text font-size="8.8" fill="#262626" stroke="#262626" stroke-width="0.1" text-anchor="middle" transform="translate(200.7 146.8) scale(1.080 1)">14</text>
<text font-size="8.8" fill="#262626" stroke="#262626" stroke-width="0.1" text-anchor="middle" transform="translate(225.3 146.8) scale(1.080 1)">16</text>
<text font-size="8.8" fill="#262626" stroke="#262626" stroke-width="0.1" text-anchor="middle" transform="translate(250.0 146.8) scale(1.080 1)">18</text>
<text font-size="8.5" fill="#2fc56f" stroke="#2fc56f" stroke-width="0.05" transform="translate(254.2 140.2) scale(1.035 1)">0</text>
<text font-size="8.5" fill="#2fc56f" stroke="#2fc56f" stroke-width="0.05" transform="translate(254.2 114.8) scale(0.960 1)">0.1</text>
<text font-size="8.5" fill="#2fc56f" stroke="#2fc56f" stroke-width="0.05" transform="translate(254.2 88.2) scale(0.960 1)">0.2</text>
<text font-size="8.5" fill="#2fc56f" stroke="#2fc56f" stroke-width="0.05" transform="translate(254.2 61.6) scale(0.960 1)">0.3</text>
<text font-size="8.5" fill="#2fc56f" stroke="#2fc56f" stroke-width="0.05" transform="translate(254.2 35.0) scale(0.960 1)">0.4</text>
<text font-size="8.5" fill="#2fc56f" stroke="#2fc56f" stroke-width="0.05" transform="translate(254.2 8.4) scale(0.960 1)">0.5</text>
<text font-size="12.3" fill="#1c1c1c" stroke="#1c1c1c" stroke-width="0.15" transform="translate(12.0 107.0) rotate(-90) scale(0.961 1)">Velocity/km/h</text>
<text font-size="12.3" fill="#1c1c1c" stroke="#1c1c1c" stroke-width="0.15" transform="translate(278.2 108.7) rotate(-90) scale(0.955 1)">Braking strength</text>
<text font-size="12" fill="#1c1c1c" stroke="#1c1c1c" stroke-width="0.25" transform="translate(121.2 157.1) scale(1.019 1)">Time /s</text>
<text font-size="9" fill="#1c1c1c" stroke="#1c1c1c" stroke-width="0.15" text-anchor="middle" transform="translate(137.5 165.5)">(a)</text>
<text font-size="9" fill="#1c1c1c" stroke="#1c1c1c" stroke-width="0.15" transform="translate(135.6 21.8) scale(1.146 1)">Z</text>
<text font-size="9.5" fill="#1c1c1c" stroke="#1c1c1c" stroke-width="0.15" transform="translate(157.2 60.4) scale(1.078 1)">Vehicle</text>
<text font-size="9.5" fill="#1c1c1c" stroke="#1c1c1c" stroke-width="0.15" transform="translate(158.5 70.9) scale(1.073 1)">Speed</text>
<text font-size="9" fill="#1c1c1c" stroke="#1c1c1c" stroke-width="0.15" transform="translate(52.0 97.1) scale(1.079 1)">F_Wheel</text>
<text font-size="9" fill="#1c1c1c" stroke="#1c1c1c" stroke-width="0.15" transform="translate(103.3 112.4) scale(1.092 1)">R_Wheel</text>
</g>
<g id="pb">
<path d="M320.5 138.5 L320.6 138.5 L320.7 138.5 L320.9 138.5 L321.0 138.5 L321.1 138.5 L321.2 138.5 L321.4 138.5 L321.5 138.5 L321.6 138.5 L321.7 138.5 L321.9 138.5 L322.0 138.5 L322.1 138.5 L322.2 138.5 L322.3 138.5 L322.5 138.5 L322.6 138.5 L322.7 138.5 L322.8 138.5 L323.0 138.5 L323.1 138.5 L323.2 138.5 L323.3 138.5 L323.4 138.5 L323.6 138.5 L323.7 138.5 L323.8 138.5 L323.9 138.5 L324.1 138.5 L324.2 138.5 L324.3 138.5 L324.4 138.5 L324.6 138.5 L324.7 138.5 L324.8 138.5 L324.9 138.5 L325.0 138.5 L325.2 138.5 L325.3 138.5 L325.4 138.5 L325.5 138.5 L325.7 138.5 L325.8 138.5 L325.9 138.5 L326.0 138.5 L326.1 138.5 L326.3 138.5 L326.4 138.5 L326.5 138.5 L326.6 138.5 L326.8 138.5 L326.9 138.5 L327.0 138.5 L327.1 138.5 L327.3 138.5 L327.4 138.5 L327.5 138.5 L327.6 138.5 L327.7 138.5 L327.9 138.5 L328.0 135.5 L328.1 132.4 L328.2 129.4 L328.4 126.3 L328.5 123.3 L328.6 120.3 L328.7 117.2 L328.8 114.2 L329.0 111.1 L329.1 108.1 L329.2 107.6 L329.3 107.1 L329.5 106.6 L329.6 106.1 L329.7 105.6 L329.8 105.1 L330.0 104.6 L330.1 104.0 L330.2 103.5 L330.3 103.0 L330.4 102.5 L330.6 102.0 L330.7 101.5 L330.8 101.0 L330.9 100.5 L331.1 100.5 L331.2 100.5 L331.3 100.5 L331.4 100.5 L331.6 100.5 L331.7 100.5 L331.8 100.5 L331.9 100.5 L332.0 100.5 L332.2 100.5 L332.3 100.5 L332.4 100.5 L332.5 100.5 L332.7 100.5 L332.8 100.5 L332.9 101.6 L333.0 102.6 L333.1 103.7 L333.3 104.8 L333.4 105.8 L333.5 106.9 L333.6 107.9 L333.8 109.0 L333.9 110.1 L334.0 111.1 L334.1 111.1 L334.3 111.1 L334.4 111.1 L334.5 111.1 L334.6 111.1 L334.7 111.1 L334.9 111.1 L335.0 111.1 L335.1 111.1 L335.2 111.1 L335.4 111.1 L335.5 111.1 L335.6 111.1 L335.7 111.1 L335.8 111.1 L336.0 111.1 L336.1 111.1 L336.2 111.1 L336.3 111.1 L336.5 111.1 L336.6 111.1 L336.7 111.1 L336.8 111.1 L337.0 111.1 L337.1 111.1 L337.2 111.1 L337.3 111.1 L337.4 111.1 L337.6 111.1 L337.7 111.1 L337.8 111.1 L337.9 111.1 L338.1 111.1 L338.2 111.1 L338.3 111.1 L338.4 111.1 L338.5 111.1 L338.7 111.1 L338.8 111.1 L338.9 111.1 L339.0 111.1 L339.2 111.1 L339.3 111.1 L339.4 111.1 L339.5 111.1 L339.7 107.1 L339.8 103.1 L339.9 99.1 L340.0 95.0 L340.1 91.0 L340.3 93.2 L340.4 95.4 L340.5 97.7 L340.6 99.9 L340.8 102.1 L340.9 104.3 L341.0 102.1 L341.1 99.9 L341.2 97.7 L341.4 95.4 L341.5 93.2 L341.6 91.0 L341.7 92.4 L341.9 93.8 L342.0 95.3 L342.1 96.7 L342.2 98.1 L342.4 99.6 L342.5 101.0 L342.6 102.4 L342.7 100.8 L342.8 99.2 L343.0 97.7 L343.1 96.1 L343.2 94.5 L343.3 92.9 L343.5 95.4 L343.6 98.0 L343.7 100.5 L343.8 103.0 L344.0 105.6 L344.1 108.1 L344.2 108.1 L344.3 108.1 L344.4 108.1 L344.6 108.1 L344.7 108.1 L344.8 108.1 L344.9 108.1 L345.1 108.1 L345.2 108.1 L345.3 108.1 L345.4 108.1 L345.5 108.1 L345.7 108.1 L345.8 108.1 L345.9 108.1 L346.0 108.1 L346.2 108.1 L346.3 108.1 L346.4 108.1 L346.5 108.1 L346.7 108.1 L346.8 108.1 L346.9 108.1 L347.0 108.1 L347.1 108.1 L347.3 108.1 L347.4 108.1 L347.5 108.1 L347.6 108.1 L347.8 108.1 L347.9 108.1 L348.0 108.1 L348.1 108.1 L348.2 108.1 L348.4 108.1 L348.5 108.1 L348.6 108.1 L348.7 108.1 L348.9 108.1 L349.0 108.1 L349.1 108.1 L349.2 108.1 L349.4 108.1 L349.5 108.1 L349.6 108.1 L349.7 108.1 L349.8 108.1 L350.0 108.1 L350.1 108.1 L350.2 108.1 L350.3 108.1 L350.5 108.1 L350.6 108.1 L350.7 108.1 L350.8 108.1 L350.9 108.1 L351.1 108.1 L351.2 108.1 L351.3 108.9 L351.4 93.9 L351.6 94.9 L351.7 95.8 L351.8 95.2 L351.9 94.6 L352.1 94.0 L352.2 93.4 L352.3 98.3 L352.4 111.9 L352.5 111.7 L352.7 111.6 L352.8 111.4 L352.9 111.3 L353.0 111.1 L353.2 111.0 L353.3 110.8 L353.4 110.7 L353.5 110.5 L353.6 110.4 L353.8 110.2 L353.9 110.1 L354.0 109.9 L354.1 109.8 L354.3 109.6 L354.4 109.5 L354.5 109.3 L354.6 109.2 L354.8 109.0 L354.9 108.9 L355.0 108.7 L355.1 108.6 L355.2 105.6 L355.4 96.1 L355.5 96.8 L355.6 97.5 L355.7 98.2 L355.9 98.9 L356.0 99.4 L356.1 99.0 L356.2 98.5 L356.4 98.1 L356.5 97.7 L356.6 98.6 L356.7 111.9 L356.8 111.7 L357.0 111.6 L357.1 111.5 L357.2 111.3 L357.3 111.2 L357.5 111.0 L357.6 110.9 L357.7 110.8 L357.8 110.6 L357.9 110.5 L358.1 110.3 L358.2 110.2 L358.3 110.0 L358.4 109.9 L358.6 109.8 L358.7 109.6 L358.8 109.5 L358.9 109.3 L359.1 109.2 L359.2 109.0 L359.3 108.9 L359.4 108.8 L359.5 108.6 L359.7 108.5 L359.8 93.9 L359.9 93.0 L360.0 94.1 L360.2 95.1 L360.3 96.2 L360.4 96.1 L360.5 95.5 L360.6 94.9 L360.8 94.2 L360.9 101.2 L361.0 111.8 L361.1 111.7 L361.3 111.6 L361.4 111.5 L361.5 111.3 L361.6 111.2 L361.8 111.1 L361.9 111.0 L362.0 110.8 L362.1 110.7 L362.2 110.6 L362.4 110.5 L362.5 110.3 L362.6 110.2 L362.7 110.1 L362.9 110.0 L363.0 109.8 L363.1 109.7 L363.2 109.6 L363.3 109.5 L363.5 109.3 L363.6 109.2 L363.7 109.1 L363.8 109.0 L364.0 108.8 L364.1 108.7 L364.2 108.6 L364.3 108.2 L364.5 96.0 L364.6 97.0 L364.7 98.0 L364.8 98.9 L364.9 99.3 L365.1 98.7 L365.2 98.1 L365.3 97.5 L365.4 109.0 L365.6 111.8 L365.7 111.7 L365.8 111.5 L365.9 111.4 L366.1 111.3 L366.2 111.1 L366.3 111.0 L366.4 110.9 L366.5 110.7 L366.7 110.6 L366.8 110.5 L366.9 110.3 L367.0 110.2 L367.2 110.1 L367.3 109.9 L367.4 109.8 L367.5 109.7 L367.6 109.6 L367.8 109.4 L367.9 109.3 L368.0 109.2 L368.1 109.0 L368.3 108.9 L368.4 108.8 L368.5 108.6 L368.6 108.5 L368.8 95.2 L368.9 92.6 L369.0 93.8 L369.1 95.0 L369.2 96.2 L369.4 95.6 L369.5 94.9 L369.6 94.2 L369.7 95.0 L369.9 111.9 L370.0 111.8 L370.1 111.6 L370.2 111.5 L370.3 111.3 L370.5 111.2 L370.6 111.1 L370.7 110.9 L370.8 110.8 L371.0 110.7 L371.1 110.5 L371.2 110.4 L371.3 110.3 L371.5 110.1 L371.6 110.0 L371.7 109.9 L371.8 109.7 L371.9 109.6 L372.1 109.4 L372.2 109.3 L372.3 109.2 L372.4 109.0 L372.6 108.9 L372.7 108.8 L372.8 108.6 L372.9 108.5 L373.0 95.9 L373.2 93.3 L373.3 94.2 L373.4 95.2 L373.5 96.2 L373.7 96.7 L373.8 96.1 L373.9 95.6 L374.0 95.0 L374.2 94.4 L374.3 107.8 L374.4 111.8 L374.5 111.6 L374.6 111.5 L374.8 111.3 L374.9 111.1 L375.0 111.0 L375.1 110.8 L375.3 110.7 L375.4 110.5 L375.5 110.3 L375.6 110.2 L375.8 110.0 L375.9 109.9 L376.0 109.7 L376.1 109.5 L376.2 109.4 L376.4 109.2 L376.5 109.0 L376.6 108.9 L376.7 108.7 L376.9 108.6 L377.0 102.7 L377.1 92.8 L377.2 94.3 L377.3 95.9 L377.5 96.2 L377.6 95.3 L377.7 94.4 L377.8 104.8 L378.0 111.8 L378.1 111.7 L378.2 111.6 L378.3 111.4 L378.5 111.3 L378.6 111.2 L378.7 111.0 L378.8 110.9 L378.9 110.8 L379.1 110.6 L379.2 110.5 L379.3 110.4 L379.4 110.2 L379.6 110.1 L379.7 110.0 L379.8 109.8 L379.9 109.7 L380.0 109.6 L380.2 109.4 L380.3 109.3 L380.4 109.2 L380.5 109.0 L380.7 108.9 L380.8 108.8 L380.9 108.6 L381.0 108.5 L381.2 96.6 L381.3 93.1 L381.4 94.1 L381.5 95.0 L381.6 96.0 L381.8 96.8 L381.9 96.2 L382.0 95.6 L382.1 95.1 L382.3 94.5 L382.4 101.5 L382.5 111.8 L382.6 111.7 L382.7 111.6 L382.9 111.4 L383.0 111.3 L383.1 111.1 L383.2 111.0 L383.4 110.8 L383.5 110.7 L383.6 110.5 L383.7 110.4 L383.9 110.2 L384.0 110.1 L384.1 110.0 L384.2 109.8 L384.3 109.7 L384.5 109.5 L384.6 109.4 L384.7 109.2 L384.8 109.1 L385.0 108.9 L385.1 108.8 L385.2 108.6 L385.3 108.5 L385.4 94.6 L385.6 91.0 L385.7 92.7 L385.8 94.4 L385.9 94.1 L386.1 93.0 L386.2 92.0 L386.3 107.5 L386.4 111.8 L386.6 111.7 L386.7 111.6 L386.8 111.4 L386.9 111.3 L387.0 111.2 L387.2 111.1 L387.3 111.0 L387.4 110.8 L387.5 110.7 L387.7 110.6 L387.8 110.5 L387.9 110.3 L388.0 110.2 L388.2 110.1 L388.3 110.0 L388.4 109.9 L388.5 109.7 L388.6 109.6 L388.8 109.5 L388.9 109.4 L389.0 109.2 L389.1 109.1 L389.3 109.0 L389.4 108.9 L389.5 108.8 L389.6 108.6 L389.7 108.5 L389.9 96.0 L390.0 90.7 L390.1 92.0 L390.2 93.3 L390.4 94.6 L390.5 94.3 L390.6 93.5 L390.7 92.7 L390.9 92.0 L391.0 109.2 L391.1 111.8 L391.2 111.7 L391.3 111.5 L391.5 111.4 L391.6 111.3 L391.7 111.2 L391.8 111.0 L392.0 110.9 L392.1 110.8 L392.2 110.6 L392.3 110.5 L392.4 110.4 L392.6 110.3 L392.7 110.1 L392.8 110.0 L392.9 109.9 L393.1 109.8 L393.2 109.6 L393.3 109.5 L393.4 109.4 L393.6 109.2 L393.7 109.1 L393.8 109.0 L393.9 108.9 L394.0 108.7 L394.2 108.6 L394.3 108.5 L394.4 95.6 L394.5 93.9 L394.7 94.7 L394.8 95.5 L394.9 96.3 L395.0 97.1 L395.1 97.2 L395.3 96.7 L395.4 96.2 L395.5 95.7 L395.6 95.2 L395.8 100.9 L395.9 111.8 L396.0 111.7 L396.1 111.5 L396.3 111.4 L396.4 111.2 L396.5 111.1 L396.6 110.9 L396.7 110.7 L396.9 110.6 L397.0 110.4 L397.1 110.3 L397.2 110.1 L397.4 110.0 L397.5 109.8 L397.6 109.6 L397.7 109.5 L397.9 109.3 L398.0 109.2 L398.1 109.0 L398.2 108.8 L398.3 108.7 L398.5 108.5 L398.6 101.2 L398.7 95.9 L398.8 96.7 L399.0 97.5 L399.1 98.3 L399.2 99.1 L399.3 98.6 L399.4 98.1 L399.6 97.6 L399.7 97.2 L399.8 104.6 L399.9 111.8 L400.1 111.7 L400.2 111.5 L400.3 111.3 L400.4 111.2 L400.6 111.0 L400.7 110.9 L400.8 110.7 L400.9 110.5 L401.0 110.4 L401.2 110.2 L401.3 110.0 L401.4 109.9 L401.5 109.7 L401.7 109.6 L401.8 109.4 L401.9 109.2 L402.0 109.1 L402.1 108.9 L402.3 108.8 L402.4 108.6 L402.5 106.3 L402.6 95.6 L402.8 96.4 L402.9 97.1 L403.0 97.9 L403.1 98.6 L403.3 98.9 L403.4 98.5 L403.5 98.0 L403.6 97.6 L403.7 97.1 L403.9 106.1 L404.0 111.8 L404.1 111.7 L404.2 111.5 L404.4 111.3 L404.5 111.2 L404.6 111.0 L404.7 110.9 L404.8 110.7 L405.0 110.6 L405.1 110.4 L405.2 110.3 L405.3 110.1 L405.5 109.9 L405.6 109.8 L405.7 109.6 L405.8 109.5 L406.0 109.3 L406.1 109.2 L406.2 109.0 L406.3 108.9 L406.4 108.7 L406.6 108.6 L406.7 103.2 L406.8 96.8 L406.9 97.6 L407.1 98.5 L407.2 99.3 L407.3 99.7 L407.4 99.2 L407.5 98.7 L407.7 98.2 L407.8 101.5 L407.9 111.9 L408.0 111.7 L408.2 111.6 L408.3 111.5 L408.4 111.4 L408.5 111.2 L408.7 111.1 L408.8 111.0 L408.9 110.9 L409.0 110.7 L409.1 110.6 L409.3 110.5 L409.4 110.4 L409.5 110.2 L409.6 110.1 L409.8 110.0 L409.9 109.9 L410.0 109.7 L410.1 109.6 L410.3 109.5 L410.4 109.4 L410.5 109.2 L410.6 109.1 L410.7 109.0 L410.9 108.8 L411.0 108.7 L411.1 108.6 L411.2 110.0 L411.4 95.7 L411.5 96.4 L411.6 97.5 L411.7 98.5 L411.8 98.8 L412.0 98.2 L412.1 97.6 L412.2 96.9 L412.3 110.9 L412.5 111.8 L412.6 111.6 L412.7 111.5 L412.8 111.3 L413.0 111.2 L413.1 111.1 L413.2 110.9 L413.3 110.8 L413.4 110.6 L413.6 110.5 L413.7 110.4 L413.8 110.2 L413.9 110.1 L414.1 109.9 L414.2 109.8 L414.3 109.6 L414.4 109.5 L414.5 109.4 L414.7 109.2 L414.8 109.1 L414.9 108.9 L415.0 108.8 L415.2 108.7 L415.3 108.5 L415.4 100.0 L415.5 97.1 L415.7 98.1 L415.8 99.1 L415.9 99.6 L416.0 98.9 L416.1 98.3 L416.3 97.8 L416.4 111.9 L416.5 111.8 L416.6 111.6 L416.8 111.5 L416.9 111.4 L417.0 111.2 L417.1 111.1 L417.2 111.0 L417.4 110.8 L417.5 110.7 L417.6 110.6 L417.7 110.4 L417.9 110.3 L418.0 110.2 L418.1 110.1 L418.2 109.9 L418.4 109.8 L418.5 109.7 L418.6 109.5 L418.7 109.4 L418.8 109.3 L419.0 109.1 L419.1 109.0 L419.2 108.9 L419.3 108.7 L419.5 108.6 L419.6 110.0 L419.7 91.8 L419.8 92.5 L419.9 93.5 L420.1 94.5 L420.2 95.5 L420.3 96.0 L420.4 95.4 L420.6 94.8 L420.7 94.3 L420.8 93.7 L420.9 104.0 L421.1 111.8 L421.2 111.7 L421.3 111.6 L421.4 111.4 L421.5 111.3 L421.7 111.2 L421.8 111.0 L421.9 110.9 L422.0 110.8 L422.2 110.6 L422.3 110.5 L422.4 110.4 L422.5 110.3 L422.7 110.1 L422.8 110.0 L422.9 109.9 L423.0 109.7 L423.1 109.6 L423.3 109.5 L423.4 109.3 L423.5 109.2 L423.6 109.1 L423.8 108.9 L423.9 108.8 L424.0 108.7 L424.1 108.5 L424.2 101.7 L424.4 91.9 L424.5 93.2 L424.6 94.5 L424.7 95.8 L424.9 95.4 L425.0 94.6 L425.1 93.9 L425.2 98.0 L425.4 111.9 L425.5 111.7 L425.6 111.6 L425.7 111.4 L425.8 111.3 L426.0 111.1 L426.1 111.0 L426.2 110.8 L426.3 110.7 L426.5 110.5 L426.6 110.4 L426.7 110.2 L426.8 110.1 L426.9 109.9 L427.1 109.8 L427.2 109.6 L427.3 109.5 L427.4 109.3 L427.6 109.2 L427.7 109.0 L427.8 108.9 L427.9 108.7 L428.1 108.6 L428.2 104.6 L428.3 93.2 L428.4 94.3 L428.5 95.3 L428.7 96.4 L428.8 97.1 L428.9 96.5 L429.0 95.8 L429.2 95.2 L429.3 96.9 L429.4 111.9 L429.5 111.7 L429.6 111.6 L429.8 111.5 L429.9 111.3 L430.0 111.2 L430.1 111.1 L430.3 110.9 L430.4 110.8 L430.5 110.7 L430.6 110.5 L430.8 110.4 L430.9 110.3 L431.0 110.1 L431.1 110.0 L431.2 109.9 L431.4 109.7 L431.5 109.6 L431.6 109.5 L431.7 109.3 L431.9 109.2 L432.0 109.1 L432.1 108.9 L432.2 108.8 L432.4 108.6 L432.5 108.5 L432.6 99.4 L432.7 95.1 L432.8 96.1 L433.0 97.1 L433.1 98.1 L433.2 97.9 L433.3 97.3 L433.5 96.7 L433.6 96.1 L433.7 109.2 L433.8 111.8 L433.9 111.7 L434.1 111.6 L434.2 111.4 L434.3 111.3 L434.4 111.2 L434.6 111.1 L434.7 110.9 L434.8 110.8 L434.9 110.7 L435.1 110.6 L435.2 110.4 L435.3 110.3 L435.4 110.2 L435.5 110.1 L435.7 110.0 L435.8 109.8 L435.9 109.7 L436.0 109.6 L436.2 109.5 L436.3 109.3 L436.4 109.2 L436.5 109.1 L436.6 109.0 L436.8 108.8 L436.9 108.7 L437.0 108.6 L437.1 110.0 L437.3 90.3 L437.4 90.4 L437.5 91.7 L437.6 93.0 L437.8 94.3 L437.9 93.7 L438.0 92.9 L438.1 92.1 L438.2 91.3 L438.4 110.6 L438.5 111.8 L438.6 111.6 L438.7 111.5 L438.9 111.3 L439.0 111.2 L439.1 111.0 L439.2 110.9 L439.3 110.7 L439.5 110.6 L439.6 110.4 L439.7 110.3 L439.8 110.1 L440.0 110.0 L440.1 109.9 L440.2 109.7 L440.3 109.6 L440.5 109.4 L440.6 109.3 L440.7 109.1 L440.8 109.0 L440.9 108.8 L441.1 108.7 L441.2 108.5 L441.3 100.2 L441.4 94.2 L441.6 95.1 L441.7 96.0 L441.8 96.9 L441.9 97.7 L442.1 97.2 L442.2 96.7 L442.3 96.2 L442.4 95.6 L442.5 102.3 L442.7 111.8 L442.8 111.7 L442.9 111.6 L443.0 111.4 L443.2 111.3 L443.3 111.1 L443.4 111.0 L443.5 110.8 L443.6 110.7 L443.8 110.6 L443.9 110.4 L444.0 110.3 L444.1 110.1 L444.3 110.0 L444.4 109.8 L444.5 109.7 L444.6 109.6 L444.8 109.4 L444.9 109.3 L445.0 109.1 L445.1 109.0 L445.2 108.9 L445.4 108.7 L445.5 108.6 L445.6 103.5 L445.7 90.6 L445.9 92.4 L446.0 94.1 L446.1 94.6 L446.2 93.6 L446.3 92.5 L446.5 104.8 L446.6 111.8 L446.7 111.7 L446.8 111.6 L447.0 111.5 L447.1 111.4 L447.2 111.3 L447.3 111.1 L447.5 111.0 L447.6 110.9 L447.7 110.8 L447.8 110.7 L447.9 110.6 L448.1 110.4 L448.2 110.3 L448.3 110.2 L448.4 110.1 L448.6 110.0 L448.7 109.9 L448.8 109.8 L448.9 109.6 L449.0 109.5 L449.2 109.4 L449.3 109.3 L449.4 109.2 L449.5 109.1 L449.7 108.9 L449.8 108.8 L449.9 108.7 L450.0 108.6 L450.2 108.5 L450.3 97.1 L450.4 95.2 L450.5 96.0 L450.6 96.8 L450.8 97.6 L450.9 98.3 L451.0 97.8 L451.1 97.3 L451.3 96.8 L451.4 96.4 L451.5 101.9 L451.6 111.8 L451.7 111.7 L451.9 111.5 L452.0 111.4 L452.1 111.2 L452.2 111.0 L452.4 110.9 L452.5 110.7 L452.6 110.6 L452.7 110.4 L452.9 110.2 L453.0 110.1 L453.1 109.9 L453.2 109.7 L453.3 109.6 L453.5 109.4 L453.6 109.3 L453.7 109.1 L453.8 108.9 L454.0 108.8 L454.1 108.6 L454.2 108.2 L454.3 93.3 L454.5 94.8 L454.6 96.3 L454.7 97.2 L454.8 96.3 L454.9 95.4 L455.1 103.1 L455.2 111.8 L455.3 111.7 L455.4 111.6 L455.6 111.5 L455.7 111.3 L455.8 111.2 L455.9 111.1 L456.0 111.0 L456.2 110.8 L456.3 110.7 L456.4 110.6 L456.5 110.5 L456.7 110.3 L456.8 110.2 L456.9 110.1 L457.0 110.0 L457.2 109.9 L457.3 109.7 L457.4 109.6 L457.5 109.5 L457.6 109.4 L457.8 109.2 L457.9 109.1 L458.0 109.0 L458.1 108.9 L458.3 108.7 L458.4 108.6 L458.5 108.5 L458.6 95.4 L458.7 94.5 L458.9 95.7 L459.0 96.8 L459.1 97.4 L459.2 96.7 L459.4 96.0 L459.5 95.4 L459.6 107.3 L459.7 111.8 L459.9 111.7 L460.0 111.6 L460.1 111.4 L460.2 111.3 L460.3 111.2 L460.5 111.1 L460.6 110.9 L460.7 110.8 L460.8 110.7 L461.0 110.6 L461.1 110.4 L461.2 110.3 L461.3 110.2 L461.4 110.1 L461.6 109.9 L461.7 109.8 L461.8 109.7 L461.9 109.5 L462.1 109.4 L462.2 109.3 L462.3 109.2 L462.4 109.0 L462.6 108.9 L462.7 108.8 L462.8 108.7 L462.9 108.5 L463.0 102.3 L463.2 92.6 L463.3 93.8 L463.4 95.1 L463.5 96.3 L463.7 96.0 L463.8 95.2 L463.9 94.5 L464.0 98.4 L464.2 111.9 L464.3 111.7 L464.4 111.6 L464.5 111.5 L464.6 111.4 L464.8 111.2 L464.9 111.1 L465.0 111.0 L465.1 110.8 L465.3 110.7 L465.4 110.6 L465.5 110.5 L465.6 110.3 L465.7 110.2 L465.9 110.1 L466.0 110.0 L466.1 109.8 L466.2 109.7 L466.4 109.6 L466.5 109.4 L466.6 109.3 L466.7 109.2 L466.9 109.1 L467.0 108.9 L467.1 108.8 L467.2 108.7 L467.3 108.5 L467.5 101.5 L467.6 89.7 L467.7 90.9 L467.8 92.1 L468.0 93.4 L468.1 94.3 L468.2 93.6 L468.3 92.9 L468.4 92.1 L468.6 91.4 L468.7 110.2 L468.8 111.8 L468.9 111.6 L469.1 111.5 L469.2 111.3 L469.3 111.2 L469.4 111.1 L469.6 110.9 L469.7 110.8 L469.8 110.6 L469.9 110.5 L470.0 110.4 L470.2 110.2 L470.3 110.1 L470.4 109.9 L470.5 109.8 L470.7 109.7 L470.8 109.5 L470.9 109.4 L471.0 109.2 L471.1 109.1 L471.3 109.0 L471.4 108.8 L471.5 108.7 L471.6 108.5 L471.8 101.4 L471.9 96.2 L472.0 97.1 L472.1 98.0 L472.3 98.8 L472.4 99.0 L472.5 98.5 L472.6 98.0 L472.7 97.4 L472.9 103.8 L473.0 111.8 L473.1 111.7 L473.2 111.5 L473.4 111.4 L473.5 111.2 L473.6 111.1 L473.7 110.9 L473.8 110.8 L474.0 110.6 L474.1 110.5 L474.2 110.3 L474.3 110.2 L474.5 110.1 L474.6 109.9 L474.7 109.8 L474.8 109.6 L475.0 109.5 L475.1 109.3 L475.2 109.2 L475.3 109.0 L475.4 108.9 L475.6 108.7 L475.7 108.6 L475.8 103.8 L475.9 94.4 L476.1 95.9 L476.2 97.3 L476.3 97.5 L476.4 96.7 L476.6 95.8 L476.7 107.8 L476.8 111.8 L476.9 111.7 L477.0 111.6 L477.2 111.4 L477.3 111.3 L477.4 111.2 L477.5 111.1 L477.7 110.9 L477.8 110.8 L477.9 110.7 L478.0 110.6 L478.1 110.4 L478.3 110.3 L478.4 110.2 L478.5 110.1 L478.6 109.9 L478.8 109.8 L478.9 109.7 L479.0 109.5 L479.1 109.4 L479.3 109.3 L479.4 109.2 L479.5 109.0 L479.6 108.9 L479.7 108.8 L479.9 108.7 L480.0 108.5 L480.1 110.0 L480.2 106.6 L480.4 103.2 L480.5 99.7 L480.6 96.3 L480.7 92.9 L480.8 98.2 L481.0 103.5 L481.1 108.9 L481.2 114.2 L481.3 119.5 L481.5 118.7 L481.6 118.0 L481.7 117.2 L481.8 116.5 L482.0 115.7 L482.1 114.9 L482.2 114.2 L482.3 113.4 L482.4 112.7 L482.6 111.9 L482.7 109.0 L482.8 106.2 L482.9 103.3 L483.1 100.5 L483.2 97.7 L483.3 94.8 L483.4 92.0 L483.5 89.1 L483.7 86.2 L483.8 83.4 L483.9 90.2 L484.0 97.1 L484.2 103.9 L484.3 110.8 L484.4 117.6 L484.5 116.7 L484.7 115.7 L484.8 114.7 L484.9 113.8 L485.0 112.8 L485.1 111.9 L485.3 110.9 L485.4 110.0 L485.5 109.0 L485.6 108.1 L485.8 105.8 L485.9 103.5 L486.0 101.3 L486.1 99.0 L486.2 96.7 L486.4 94.4 L486.5 92.1 L486.6 89.9 L486.7 87.6 L486.9 85.3 L487.0 92.1 L487.1 99.0 L487.2 105.8 L487.4 112.7 L487.5 119.5 L487.6 118.6 L487.7 117.6 L487.8 116.6 L488.0 115.7 L488.1 114.7 L488.2 113.8 L488.3 112.8 L488.5 111.9 L488.6 110.9 L488.7 110.0 L488.8 107.3 L489.0 104.7 L489.1 102.0 L489.2 99.4 L489.3 96.7 L489.4 94.0 L489.6 91.4 L489.7 88.7 L489.8 86.1 L489.9 83.4 L490.1 90.6 L490.2 97.8 L490.3 105.1 L490.4 112.3 L490.5 119.5 L490.7 118.4 L490.8 117.2 L490.9 116.1 L491.0 114.9 L491.2 113.8 L491.3 112.7 L491.4 111.5 L491.5 110.4 L491.7 109.2 L491.8 108.1 L491.9 105.8 L492.0 103.5 L492.1 101.3 L492.3 99.0 L492.4 96.7 L492.5 94.4 L492.6 92.1 L492.8 89.9 L492.9 87.6 L493.0 85.3 L493.1 91.8 L493.2 98.2 L493.4 104.7 L493.5 111.1 L493.6 117.6 L493.7 116.3 L493.9 114.9 L494.0 113.6 L494.1 112.3 L494.2 110.9 L494.4 109.6 L494.5 108.3 L494.6 107.0 L494.7 105.6 L494.8 104.3 L495.0 101.3 L495.1 98.2 L495.2 95.2 L495.3 92.1 L495.5 89.1 L495.6 92.1 L495.7 95.2 L495.8 98.2 L495.9 101.3 L496.1 104.3 L496.2 92.5 L496.3 80.7 L496.4 80.7 L496.6 80.7 L496.7 80.7 L496.8 80.7 L496.9 80.7 L497.1 80.7 L497.2 80.7 L497.3 80.7 L497.4 80.7 L497.5 80.7 L497.7 80.7 L497.8 80.7 L497.9 80.7 L498.0 80.7 L498.2 80.7 L498.3 80.7 L498.4 80.7 L498.5 80.7 L498.7 80.7 L498.8 80.7 L498.9 80.7 L499.0 80.7 L499.1 80.7 L499.3 80.7 L499.4 80.7 L499.5 80.7 L499.6 80.7 L499.8 80.7 L499.9 80.7 L500.0 80.7 L500.1 80.7 L500.2 80.7 L500.4 80.7 L500.5 80.7 L500.6 80.7 L500.7 80.7 L500.9 80.7 L501.0 80.7 L501.1 80.7 L501.2 80.7 L501.4 80.7 L501.5 80.7 L501.6 80.7 L501.7 80.7 L501.8 80.7 L502.0 80.7 L502.1 80.7 L502.2 80.7 L502.3 80.7 L502.5 80.7 L502.6 80.7 L502.7 80.7 L502.8 80.7 L502.9 80.7 L503.1 80.7 L503.2 80.7 L503.3 80.7 L503.4 80.7 L503.6 80.7 L503.7 80.7 L503.8 80.7 L503.9 80.7 L504.1 80.7 L504.2 80.7 L504.3 80.7 L504.4 80.7 L504.5 80.7 L504.7 80.7 L504.8 80.7 L504.9 80.7 L505.0 80.7 L505.2 80.7 L505.3 80.7 L505.4 80.7 L505.5 80.7 L505.6 80.7 L505.8 80.7 L505.9 80.7 L506.0 80.7 L506.1 80.7 L506.3 80.7 L506.4 80.7 L506.5 80.7 L506.6 80.7 L506.8 80.7 L506.9 80.7 L507.0 80.7 L507.1 80.7 L507.2 80.7 L507.4 80.7 L507.5 80.7 L507.6 80.7 L507.7 80.7 L507.9 80.7 L508.0 80.7 L508.1 80.7 L508.2 80.7 L508.4 80.7 L508.5 80.7 L508.6 80.7 L508.7 80.7 L508.8 80.7 L509.0 80.7 L509.1 80.7 L509.2 80.7 L509.3 80.7 L509.5 80.7 L509.6 80.7 L509.7 80.7 L509.8 80.7 L509.9 80.7 L510.1 80.7 L510.2 80.7 L510.3 80.7 L510.4 80.7 L510.6 80.7 L510.7 80.7 L510.8 80.7 L510.9 80.7 L511.1 80.7 L511.2 80.7 L511.3 80.7 L511.4 80.7 L511.5 80.7 L511.7 80.7 L511.8 80.7 L511.9 80.7 L512.0 80.7 L512.2 80.7 L512.3 80.7 L512.4 80.7 L512.5 80.7 L512.6 80.7 L512.8 80.7 L512.9 80.7 L513.0 80.7 L513.1 80.7 L513.3 80.7 L513.4 80.7 L513.5 80.7 L513.6 80.7 L513.8 80.7 L513.9 80.7 L514.0 80.7 L514.1 80.7 L514.2 80.7 L514.4 80.7 L514.5 80.7 L514.6 80.7 L514.7 80.7 L514.9 80.7 L515.0 80.7 L515.1 80.7 L515.2 80.7 L515.3 80.7 L515.5 80.7 L515.6 80.7 L515.7 80.7 L515.8 80.7 L516.0 80.7 L516.1 80.7 L516.2 80.7 L516.3 80.7 L516.5 80.7 L516.6 80.7 L516.7 80.7 L516.8 80.7 L516.9 80.7 L517.1 80.7 L517.2 80.7 L517.3 80.7 L517.4 80.7 L517.6 80.7 L517.7 80.7 L517.8 80.7 L517.9 80.7 L518.0 80.7 L518.2 80.7 L518.3 80.7 L518.4 80.7 L518.5 80.7 L518.7 80.7 L518.8 80.7 L518.9 80.7 L519.0 80.7 L519.2 80.7 L519.3 80.7 L519.4 80.7 L519.5 80.7 L519.6 80.7 L519.8 80.7 L519.9 80.7 L520.0 80.7 L520.1 80.7 L520.3 80.7 L520.4 80.7 L520.5 80.7 L520.6 80.7 L520.8 80.7 L520.9 80.7 L521.0 80.7 L521.1 80.7 L521.2 80.7 L521.4 80.7 L521.5 80.7 L521.6 80.7 L521.7 80.7 L521.9 80.7 L522.0 80.7 L522.1 80.7 L522.2 80.7 L522.3 80.7 L522.5 80.7 L522.6 80.7 L522.7 80.7 L522.8 80.7 L523.0 80.7 L523.1 80.7 L523.2 80.7 L523.3 80.7 L523.5 80.7 L523.6 80.7 L523.7 80.7 L523.8 80.7 L523.9 80.7 L524.1 80.7 L524.2 80.7 L524.3 80.7 L524.4 80.7 L524.6 80.7 L524.7 80.7 L524.8 80.7 L524.9 80.7 L525.0 80.7 L525.2 80.7 L525.3 80.7 L525.4 80.7 L525.5 80.7 L525.7 80.7 L525.8 80.7 L525.9 80.7 L526.0 80.7 L526.2 80.7 L526.3 80.7 L526.4 80.7 L526.5 80.7 L526.6 80.7 L526.8 80.7 L526.9 80.7 L527.0 80.7 L527.1 80.7 L527.3 80.7 L527.4 47.3" fill="none" stroke="#3d9bdc" stroke-width="0.8" stroke-dasharray="6 0.8 1.2 0.8" />
<path d="M320.5 138.5 L320.6 138.5 L320.7 138.5 L320.9 138.5 L321.0 138.5 L321.1 138.5 L321.2 138.5 L321.4 138.5 L321.5 138.5 L321.6 138.5 L321.7 138.5 L321.9 138.5 L322.0 138.5 L322.1 138.5 L322.2 138.5 L322.3 138.5 L322.5 138.5 L322.6 138.5 L322.7 138.5 L322.8 138.5 L323.0 138.5 L323.1 138.5 L323.2 138.5 L323.3 138.5 L323.4 138.5 L323.6 138.5 L323.7 138.5 L323.8 138.5 L323.9 138.5 L324.1 138.5 L324.2 138.5 L324.3 138.5 L324.4 138.5 L324.6 138.5 L324.7 138.5 L324.8 138.5 L324.9 138.5 L325.0 138.5 L325.2 138.5 L325.3 138.5 L325.4 138.5 L325.5 138.5 L325.7 138.5 L325.8 138.5 L325.9 138.5 L326.0 138.5 L326.1 138.5 L326.3 138.5 L326.4 138.5 L326.5 138.5 L326.6 138.5 L326.8 138.5 L326.9 138.5 L327.0 138.5 L327.1 138.5 L327.3 138.5 L327.4 133.6 L327.5 128.7 L327.6 123.8 L327.7 119.0 L327.9 114.1 L328.0 109.2 L328.1 104.3 L328.2 103.0 L328.4 101.8 L328.5 100.5 L328.6 99.2 L328.7 98.0 L328.8 96.7 L329.0 95.4 L329.1 94.2 L329.2 92.9 L329.3 91.6 L329.5 90.4 L329.6 89.1 L329.7 87.8 L329.8 86.6 L330.0 85.3 L330.1 84.0 L330.2 82.8 L330.3 81.5 L330.4 74.5 L330.6 67.6 L330.7 60.6 L330.8 53.6 L330.9 46.7 L331.1 39.7 L331.2 39.7 L331.3 39.7 L331.4 39.7 L331.6 39.7 L331.7 47.3 L331.8 54.9 L331.9 62.5 L332.0 70.1 L332.2 77.7 L332.3 78.6 L332.4 79.5 L332.5 80.4 L332.7 81.2 L332.8 82.1 L332.9 83.0 L333.0 83.9 L333.1 84.8 L333.3 85.7 L333.4 86.6 L333.5 87.5 L333.6 88.3 L333.8 89.2 L333.9 90.1 L334.0 91.0 L334.1 91.0 L334.3 91.1 L334.4 91.1 L334.5 91.1 L334.6 91.1 L334.7 91.2 L334.9 91.2 L335.0 91.2 L335.1 91.3 L335.2 91.3 L335.4 91.3 L335.5 91.3 L335.6 91.4 L335.7 91.4 L335.8 91.4 L336.0 91.5 L336.1 91.5 L336.2 91.5 L336.3 91.5 L336.5 91.6 L336.6 91.6 L336.7 91.6 L336.8 91.7 L337.0 91.7 L337.1 91.7 L337.2 91.7 L337.3 91.8 L337.4 91.8 L337.6 91.8 L337.7 91.9 L337.8 91.9 L337.9 91.9 L338.1 91.9 L338.2 92.0 L338.3 92.0 L338.4 92.0 L338.5 92.1 L338.7 92.1 L338.8 92.1 L338.9 92.1 L339.0 87.0 L339.2 81.9 L339.3 76.8 L339.4 71.6 L339.5 66.5 L339.7 61.4 L339.8 56.2 L339.9 51.1 L340.0 51.7 L340.1 52.4 L340.3 53.0 L340.4 53.6 L340.5 54.3 L340.6 54.9 L340.8 59.3 L340.9 63.8 L341.0 68.2 L341.1 72.6 L341.2 77.1 L341.4 81.5 L341.5 81.6 L341.6 81.7 L341.7 81.7 L341.9 81.8 L342.0 81.9 L342.1 82.0 L342.2 82.0 L342.4 82.1 L342.5 82.2 L342.6 82.3 L342.7 82.3 L342.8 82.4 L343.0 82.5 L343.1 82.6 L343.2 82.6 L343.3 82.7 L343.5 82.8 L343.6 82.9 L343.7 82.9 L343.8 83.0 L344.0 83.1 L344.1 83.2 L344.2 83.3 L344.3 83.5 L344.4 83.6 L344.6 83.7 L344.7 83.8 L344.8 83.9 L344.9 84.0 L345.1 84.1 L345.2 84.2 L345.3 84.3 L345.4 84.4 L345.5 85.3 L345.7 85.2 L345.8 85.0 L345.9 70.0 L346.0 58.2 L346.2 59.6 L346.3 60.9 L346.4 62.3 L346.5 63.7 L346.7 64.4 L346.8 63.6 L346.9 62.7 L347.0 61.9 L347.1 61.1 L347.3 63.3 L347.4 88.3 L347.5 88.2 L347.6 88.0 L347.8 87.9 L347.9 87.8 L348.0 87.6 L348.1 87.5 L348.2 87.3 L348.4 87.2 L348.5 87.0 L348.6 86.9 L348.7 86.8 L348.9 86.6 L349.0 86.5 L349.1 86.3 L349.2 86.2 L349.4 86.1 L349.5 85.9 L349.6 85.8 L349.7 85.6 L349.8 85.5 L350.0 85.4 L350.1 85.2 L350.2 85.1 L350.3 84.9 L350.5 64.9 L350.6 63.4 L350.7 65.4 L350.8 67.4 L350.9 66.9 L351.1 65.7 L351.2 64.5 L351.3 80.6 L351.4 88.3 L351.6 88.1 L351.7 88.0 L351.8 87.9 L351.9 87.7 L352.1 87.6 L352.2 87.5 L352.3 87.3 L352.4 87.2 L352.5 87.1 L352.7 87.0 L352.8 86.8 L352.9 86.7 L353.0 86.6 L353.2 86.4 L353.3 86.3 L353.4 86.2 L353.5 86.0 L353.6 85.9 L353.8 85.8 L353.9 85.7 L354.0 85.5 L354.1 85.4 L354.3 85.3 L354.4 85.1 L354.5 85.0 L354.6 78.3 L354.8 57.0 L354.9 59.5 L355.0 62.1 L355.1 63.4 L355.2 61.9 L355.4 60.3 L355.5 70.6 L355.6 88.3 L355.7 88.2 L355.9 88.1 L356.0 87.9 L356.1 87.8 L356.2 87.7 L356.4 87.6 L356.5 87.5 L356.6 87.3 L356.7 87.2 L356.8 87.1 L357.0 87.0 L357.1 86.8 L357.2 86.7 L357.3 86.6 L357.5 86.5 L357.6 86.4 L357.7 86.2 L357.8 86.1 L357.9 86.0 L358.1 85.9 L358.2 85.8 L358.3 85.6 L358.4 85.5 L358.6 85.4 L358.7 85.3 L358.8 85.2 L358.9 85.0 L359.1 84.9 L359.2 65.1 L359.3 64.0 L359.4 65.4 L359.5 66.9 L359.7 68.3 L359.8 67.9 L359.9 67.1 L360.0 66.2 L360.2 65.3 L360.3 80.7 L360.4 88.3 L360.5 88.1 L360.6 88.0 L360.8 87.9 L360.9 87.8 L361.0 87.6 L361.1 87.5 L361.3 87.4 L361.4 87.3 L361.5 87.1 L361.6 87.0 L361.8 86.9 L361.9 86.8 L362.0 86.6 L362.1 86.5 L362.2 86.4 L362.4 86.3 L362.5 86.1 L362.6 86.0 L362.7 85.9 L362.9 85.8 L363.0 85.6 L363.1 85.5 L363.2 85.4 L363.3 85.3 L363.5 85.2 L363.6 85.0 L363.7 84.4 L363.8 62.6 L364.0 64.2 L364.1 65.8 L364.2 67.4 L364.3 68.2 L364.5 67.3 L364.6 66.3 L364.7 65.3 L364.8 79.3 L364.9 88.3 L365.1 88.1 L365.2 88.0 L365.3 87.9 L365.4 87.7 L365.6 87.6 L365.7 87.5 L365.8 87.3 L365.9 87.2 L366.1 87.1 L366.2 86.9 L366.3 86.8 L366.4 86.7 L366.5 86.5 L366.7 86.4 L366.8 86.3 L366.9 86.1 L367.0 86.0 L367.2 85.9 L367.3 85.7 L367.4 85.6 L367.5 85.5 L367.6 85.3 L367.8 85.2 L367.9 85.1 L368.0 84.9 L368.1 63.7 L368.3 59.6 L368.4 61.5 L368.5 63.3 L368.6 65.2 L368.8 64.2 L368.9 63.1 L369.0 62.0 L369.1 65.0 L369.2 88.3 L369.4 88.2 L369.5 88.0 L369.6 87.9 L369.7 87.8 L369.9 87.6 L370.0 87.5 L370.1 87.4 L370.2 87.2 L370.3 87.1 L370.5 87.0 L370.6 86.8 L370.7 86.7 L370.8 86.6 L371.0 86.4 L371.1 86.3 L371.2 86.2 L371.3 86.0 L371.5 85.9 L371.6 85.7 L371.7 85.6 L371.8 85.5 L371.9 85.3 L372.1 85.2 L372.2 85.1 L372.3 84.9 L372.4 67.6 L372.6 64.4 L372.7 66.2 L372.8 68.0 L372.9 68.2 L373.0 67.1 L373.2 66.0 L373.3 72.5 L373.4 88.3 L373.5 88.2 L373.7 88.0 L373.8 87.9 L373.9 87.7 L374.0 87.6 L374.2 87.4 L374.3 87.3 L374.4 87.1 L374.5 87.0 L374.6 86.9 L374.8 86.7 L374.9 86.6 L375.0 86.4 L375.1 86.3 L375.3 86.1 L375.4 86.0 L375.5 85.9 L375.6 85.7 L375.8 85.6 L375.9 85.4 L376.0 85.3 L376.1 85.1 L376.2 85.0 L376.4 76.1 L376.5 60.7 L376.6 63.0 L376.7 65.2 L376.9 65.9 L377.0 64.5 L377.1 63.2 L377.2 76.5 L377.3 88.3 L377.5 88.1 L377.6 88.0 L377.7 87.9 L377.8 87.7 L378.0 87.6 L378.1 87.5 L378.2 87.3 L378.3 87.2 L378.5 87.1 L378.6 86.9 L378.7 86.8 L378.8 86.7 L378.9 86.5 L379.1 86.4 L379.2 86.3 L379.3 86.1 L379.4 86.0 L379.6 85.9 L379.7 85.7 L379.8 85.6 L379.9 85.5 L380.0 85.3 L380.2 85.2 L380.3 85.1 L380.4 84.9 L380.5 67.2 L380.7 61.9 L380.8 63.2 L380.9 64.4 L381.0 65.7 L381.2 66.9 L381.3 66.9 L381.4 66.1 L381.5 65.4 L381.6 64.6 L381.8 63.9 L381.9 76.6 L382.0 88.3 L382.1 88.1 L382.3 88.0 L382.4 87.8 L382.5 87.7 L382.6 87.5 L382.7 87.4 L382.9 87.2 L383.0 87.1 L383.1 86.9 L383.2 86.8 L383.4 86.6 L383.5 86.5 L383.6 86.3 L383.7 86.1 L383.9 86.0 L384.0 85.8 L384.1 85.7 L384.2 85.5 L384.3 85.4 L384.5 85.2 L384.6 85.1 L384.7 84.9 L384.8 67.2 L385.0 62.5 L385.1 64.3 L385.2 66.2 L385.3 67.1 L385.4 66.0 L385.6 64.9 L385.7 63.7 L385.8 86.0 L385.9 88.2 L386.1 88.1 L386.2 88.0 L386.3 87.8 L386.4 87.7 L386.6 87.6 L386.7 87.5 L386.8 87.3 L386.9 87.2 L387.0 87.1 L387.2 87.0 L387.3 86.8 L387.4 86.7 L387.5 86.6 L387.7 86.5 L387.8 86.3 L387.9 86.2 L388.0 86.1 L388.2 86.0 L388.3 85.8 L388.4 85.7 L388.5 85.6 L388.6 85.5 L388.8 85.3 L388.9 85.2 L389.0 85.1 L389.1 84.9 L389.3 68.4 L389.4 61.1 L389.5 62.4 L389.6 63.8 L389.7 65.2 L389.9 66.5 L390.0 66.0 L390.1 65.2 L390.2 64.4 L390.4 63.6 L390.5 63.8 L390.6 88.3 L390.7 88.2 L390.9 88.1 L391.0 87.9 L391.1 87.8 L391.2 87.7 L391.3 87.5 L391.5 87.4 L391.6 87.2 L391.7 87.1 L391.8 87.0 L392.0 86.8 L392.1 86.7 L392.2 86.6 L392.3 86.4 L392.4 86.3 L392.6 86.2 L392.7 86.0 L392.8 85.9 L392.9 85.7 L393.1 85.6 L393.2 85.5 L393.3 85.3 L393.4 85.2 L393.6 85.1 L393.7 84.9 L393.8 63.3 L393.9 61.1 L394.0 63.1 L394.2 65.0 L394.3 65.7 L394.4 64.5 L394.5 63.3 L394.7 62.1 L394.8 88.3 L394.9 88.2 L395.0 88.1 L395.1 87.9 L395.3 87.8 L395.4 87.7 L395.5 87.5 L395.6 87.4 L395.8 87.3 L395.9 87.1 L396.0 87.0 L396.1 86.9 L396.3 86.7 L396.4 86.6 L396.5 86.5 L396.6 86.3 L396.7 86.2 L396.9 86.0 L397.0 85.9 L397.1 85.8 L397.2 85.6 L397.4 85.5 L397.5 85.4 L397.6 85.2 L397.7 85.1 L397.9 85.0 L398.0 71.3 L398.1 61.4 L398.2 62.6 L398.3 63.9 L398.5 65.1 L398.6 66.3 L398.7 66.8 L398.8 66.1 L399.0 65.3 L399.1 64.6 L399.2 63.9 L399.3 68.0 L399.4 88.3 L399.6 88.1 L399.7 88.0 L399.8 87.8 L399.9 87.6 L400.1 87.4 L400.2 87.3 L400.3 87.1 L400.4 86.9 L400.6 86.8 L400.7 86.6 L400.8 86.4 L400.9 86.2 L401.0 86.1 L401.2 85.9 L401.3 85.7 L401.4 85.6 L401.5 85.4 L401.7 85.2 L401.8 85.0 L401.9 81.1 L402.0 62.2 L402.1 64.0 L402.3 65.8 L402.4 67.7 L402.5 67.1 L402.6 66.0 L402.8 64.9 L402.9 75.2 L403.0 88.3 L403.1 88.1 L403.3 88.0 L403.4 87.9 L403.5 87.7 L403.6 87.6 L403.7 87.5 L403.9 87.3 L404.0 87.2 L404.1 87.0 L404.2 86.9 L404.4 86.8 L404.5 86.6 L404.6 86.5 L404.7 86.4 L404.8 86.2 L405.0 86.1 L405.1 85.9 L405.2 85.8 L405.3 85.7 L405.5 85.5 L405.6 85.4 L405.7 85.3 L405.8 85.1 L406.0 85.0 L406.1 73.2 L406.2 58.8 L406.3 60.8 L406.4 62.7 L406.6 64.6 L406.7 64.3 L406.8 63.1 L406.9 62.0 L407.1 61.3 L407.2 88.3 L407.3 88.2 L407.4 88.1 L407.5 88.0 L407.7 87.8 L407.8 87.7 L407.9 87.6 L408.0 87.5 L408.2 87.4 L408.3 87.2 L408.4 87.1 L408.5 87.0 L408.7 86.9 L408.8 86.7 L408.9 86.6 L409.0 86.5 L409.1 86.4 L409.3 86.3 L409.4 86.1 L409.5 86.0 L409.6 85.9 L409.8 85.8 L409.9 85.6 L410.0 85.5 L410.1 85.4 L410.3 85.3 L410.4 85.2 L410.5 85.0 L410.6 86.4 L410.7 60.3 L410.9 61.2 L411.0 62.7 L411.1 64.2 L411.2 65.7 L411.4 65.9 L411.5 65.0 L411.6 64.1 L411.7 63.2 L411.8 65.1 L412.0 88.3 L412.1 88.2 L412.2 88.0 L412.3 87.9 L412.5 87.7 L412.6 87.6 L412.7 87.4 L412.8 87.3 L413.0 87.1 L413.1 86.9 L413.2 86.8 L413.3 86.6 L413.4 86.5 L413.6 86.3 L413.7 86.2 L413.8 86.0 L413.9 85.9 L414.1 85.7 L414.2 85.6 L414.3 85.4 L414.4 85.3 L414.5 85.1 L414.7 85.0 L414.8 69.4 L414.9 63.9 L415.0 65.6 L415.2 67.4 L415.3 68.2 L415.4 67.1 L415.5 66.0 L415.7 65.6 L415.8 88.3 L415.9 88.2 L416.0 88.1 L416.1 87.9 L416.3 87.8 L416.4 87.7 L416.5 87.5 L416.6 87.4 L416.8 87.3 L416.9 87.1 L417.0 87.0 L417.1 86.9 L417.2 86.8 L417.4 86.6 L417.5 86.5 L417.6 86.4 L417.7 86.2 L417.9 86.1 L418.0 86.0 L418.1 85.8 L418.2 85.7 L418.4 85.6 L418.5 85.4 L418.6 85.3 L418.7 85.2 L418.8 85.0 L419.0 86.4 L419.1 59.7 L419.2 61.6 L419.3 63.9 L419.5 66.0 L419.6 64.6 L419.7 63.2 L419.8 65.7 L419.9 88.3 L420.1 88.2 L420.2 88.1 L420.3 88.0 L420.4 87.9 L420.6 87.7 L420.7 87.6 L420.8 87.5 L420.9 87.4 L421.1 87.3 L421.2 87.2 L421.3 87.1 L421.4 86.9 L421.5 86.8 L421.7 86.7 L421.8 86.6 L421.9 86.5 L422.0 86.4 L422.2 86.2 L422.3 86.1 L422.4 86.0 L422.5 85.9 L422.7 85.8 L422.8 85.7 L422.9 85.6 L423.0 85.4 L423.1 85.3 L423.3 85.2 L423.4 85.1 L423.5 85.0 L423.6 76.0 L423.8 63.4 L423.9 65.4 L424.0 67.4 L424.1 68.0 L424.2 66.8 L424.4 65.6 L424.5 76.1 L424.6 88.3 L424.7 88.1 L424.9 88.0 L425.0 87.8 L425.1 87.7 L425.2 87.6 L425.4 87.4 L425.5 87.3 L425.6 87.1 L425.7 87.0 L425.8 86.9 L426.0 86.7 L426.1 86.6 L426.2 86.4 L426.3 86.3 L426.5 86.1 L426.6 86.0 L426.7 85.9 L426.8 85.7 L426.9 85.6 L427.1 85.4 L427.2 85.3 L427.3 85.2 L427.4 85.0 L427.6 78.9 L427.7 61.1 L427.8 62.4 L427.9 63.7 L428.1 64.9 L428.2 66.2 L428.3 67.0 L428.4 66.3 L428.5 65.5 L428.7 64.8 L428.8 64.0 L428.9 68.2 L429.0 88.3 L429.2 88.2 L429.3 88.0 L429.4 87.9 L429.5 87.7 L429.6 87.6 L429.8 87.4 L429.9 87.3 L430.0 87.1 L430.1 87.0 L430.3 86.9 L430.4 86.7 L430.5 86.6 L430.6 86.4 L430.8 86.3 L430.9 86.1 L431.0 86.0 L431.1 85.8 L431.2 85.7 L431.4 85.5 L431.5 85.4 L431.6 85.2 L431.7 85.1 L431.9 85.0 L432.0 66.9 L432.1 58.0 L432.2 59.6 L432.4 61.2 L432.5 62.7 L432.6 64.3 L432.7 63.3 L432.8 62.4 L433.0 61.4 L433.1 60.5 L433.2 71.1 L433.3 88.3 L433.5 88.2 L433.6 88.0 L433.7 87.9 L433.8 87.8 L433.9 87.6 L434.1 87.5 L434.2 87.4 L434.3 87.3 L434.4 87.1 L434.6 87.0 L434.7 86.9 L434.8 86.7 L434.9 86.6 L435.1 86.5 L435.2 86.3 L435.3 86.2 L435.4 86.1 L435.5 86.0 L435.7 85.8 L435.8 85.7 L435.9 85.6 L436.0 85.4 L436.2 85.3 L436.3 85.2 L436.4 85.0 L436.5 86.4 L436.6 61.1 L436.8 61.0 L436.9 62.3 L437.0 63.7 L437.1 65.1 L437.3 66.4 L437.4 65.5 L437.5 64.7 L437.6 63.9 L437.8 63.1 L437.9 65.2 L438.0 88.3 L438.1 88.2 L438.2 88.0 L438.4 87.8 L438.5 87.7 L438.6 87.5 L438.7 87.4 L438.9 87.2 L439.0 87.0 L439.1 86.9 L439.2 86.7 L439.3 86.6 L439.5 86.4 L439.6 86.2 L439.7 86.1 L439.8 85.9 L440.0 85.8 L440.1 85.6 L440.2 85.5 L440.3 85.3 L440.5 85.1 L440.6 85.0 L440.7 71.5 L440.8 62.3 L440.9 64.5 L441.1 66.6 L441.2 66.7 L441.3 65.4 L441.4 64.1 L441.6 79.8 L441.7 88.3 L441.8 88.1 L441.9 88.0 L442.1 87.9 L442.2 87.8 L442.3 87.6 L442.4 87.5 L442.5 87.4 L442.7 87.3 L442.8 87.1 L442.9 87.0 L443.0 86.9 L443.2 86.8 L443.3 86.6 L443.4 86.5 L443.5 86.4 L443.6 86.3 L443.8 86.1 L443.9 86.0 L444.0 85.9 L444.1 85.8 L444.3 85.6 L444.4 85.5 L444.5 85.4 L444.6 85.2 L444.8 85.1 L444.9 85.0 L445.0 78.7 L445.1 62.5 L445.2 64.1 L445.4 65.6 L445.5 67.1 L445.6 67.9 L445.7 67.0 L445.9 66.1 L446.0 65.2 L446.1 71.6 L446.2 88.3 L446.3 88.2 L446.5 88.1 L446.6 87.9 L446.7 87.8 L446.8 87.7 L447.0 87.6 L447.1 87.4 L447.2 87.3 L447.3 87.2 L447.5 87.1 L447.6 86.9 L447.7 86.8 L447.8 86.7 L447.9 86.6 L448.1 86.4 L448.2 86.3 L448.3 86.2 L448.4 86.1 L448.6 85.9 L448.7 85.8 L448.8 85.7 L448.9 85.6 L449.0 85.4 L449.2 85.3 L449.3 85.2 L449.4 85.1 L449.5 84.9 L449.7 65.3 L449.8 62.4 L449.9 64.3 L450.0 66.1 L450.2 67.0 L450.3 65.9 L450.4 64.8 L450.5 63.7 L450.6 83.6 L450.8 88.2 L450.9 88.1 L451.0 87.9 L451.1 87.8 L451.3 87.6 L451.4 87.5 L451.5 87.4 L451.6 87.2 L451.7 87.1 L451.9 86.9 L452.0 86.8 L452.1 86.6 L452.2 86.5 L452.4 86.3 L452.5 86.2 L452.6 86.1 L452.7 85.9 L452.9 85.8 L453.0 85.6 L453.1 85.5 L453.2 85.3 L453.3 85.2 L453.5 85.0 L453.6 84.5 L453.7 63.2 L453.8 64.6 L454.0 66.0 L454.1 67.4 L454.2 68.8 L454.3 68.3 L454.5 67.5 L454.6 66.7 L454.7 65.8 L454.8 79.7 L454.9 88.3 L455.1 88.1 L455.2 88.0 L455.3 87.8 L455.4 87.7 L455.6 87.6 L455.7 87.4 L455.8 87.3 L455.9 87.1 L456.0 87.0 L456.2 86.9 L456.3 86.7 L456.4 86.6 L456.5 86.4 L456.7 86.3 L456.8 86.2 L456.9 86.0 L457.0 85.9 L457.2 85.8 L457.3 85.6 L457.4 85.5 L457.5 85.3 L457.6 85.2 L457.8 85.1 L457.9 84.9 L458.0 61.1 L458.1 59.5 L458.3 61.4 L458.4 63.3 L458.5 64.8 L458.6 63.7 L458.7 62.6 L458.9 61.4 L459.0 70.1 L459.1 88.3 L459.2 88.2 L459.4 88.0 L459.5 87.9 L459.6 87.8 L459.7 87.7 L459.9 87.5 L460.0 87.4 L460.1 87.3 L460.2 87.2 L460.3 87.0 L460.5 86.9 L460.6 86.8 L460.7 86.6 L460.8 86.5 L461.0 86.4 L461.1 86.3 L461.2 86.1 L461.3 86.0 L461.4 85.9 L461.6 85.8 L461.7 85.6 L461.8 85.5 L461.9 85.4 L462.1 85.2 L462.2 85.1 L462.3 85.0 L462.4 76.3 L462.6 62.7 L462.7 64.6 L462.8 66.4 L462.9 68.0 L463.0 66.9 L463.2 65.8 L463.3 64.7 L463.4 84.1 L463.5 88.2 L463.7 88.1 L463.8 88.0 L463.9 87.9 L464.0 87.7 L464.2 87.6 L464.3 87.5 L464.4 87.4 L464.5 87.2 L464.6 87.1 L464.8 87.0 L464.9 86.9 L465.0 86.7 L465.1 86.6 L465.3 86.5 L465.4 86.4 L465.5 86.2 L465.6 86.1 L465.7 86.0 L465.9 85.9 L466.0 85.7 L466.1 85.6 L466.2 85.5 L466.4 85.4 L466.5 85.2 L466.6 85.1 L466.7 85.0 L466.9 75.0 L467.0 58.2 L467.1 60.2 L467.2 62.2 L467.3 64.2 L467.5 63.9 L467.6 62.7 L467.7 61.5 L467.8 62.4 L468.0 88.3 L468.1 88.2 L468.2 88.1 L468.3 87.9 L468.4 87.8 L468.6 87.7 L468.7 87.5 L468.8 87.4 L468.9 87.3 L469.1 87.1 L469.2 87.0 L469.3 86.9 L469.4 86.7 L469.6 86.6 L469.7 86.4 L469.8 86.3 L469.9 86.2 L470.0 86.0 L470.2 85.9 L470.3 85.8 L470.4 85.6 L470.5 85.5 L470.7 85.4 L470.8 85.2 L470.9 85.1 L471.0 85.0 L471.1 71.3 L471.3 61.1 L471.4 62.5 L471.5 63.9 L471.6 65.3 L471.8 66.7 L471.9 66.1 L472.0 65.2 L472.1 64.4 L472.3 63.5 L472.4 70.2 L472.5 88.3 L472.6 88.1 L472.7 88.0 L472.9 87.8 L473.0 87.7 L473.1 87.5 L473.2 87.4 L473.4 87.2 L473.5 87.0 L473.6 86.9 L473.7 86.7 L473.8 86.6 L474.0 86.4 L474.1 86.3 L474.2 86.1 L474.3 85.9 L474.5 85.8 L474.6 85.6 L474.7 85.5 L474.8 85.3 L475.0 85.2 L475.1 85.0 L475.2 75.7 L475.3 57.2 L475.4 58.8 L475.6 60.4 L475.7 62.0 L475.8 63.6 L475.9 63.4 L476.1 62.5 L476.2 61.5 L476.3 60.5 L476.4 61.9 L476.6 88.3 L476.7 88.2 L476.8 88.0 L476.9 87.9 L477.0 87.7 L477.2 87.6 L477.3 87.5 L477.4 87.3 L477.5 87.2 L477.7 87.0 L477.8 86.9 L477.9 86.7 L478.0 86.6 L478.1 86.4 L478.3 86.3 L478.4 86.2 L478.5 86.0 L478.6 85.9 L478.8 85.7 L478.9 85.6 L479.0 85.4 L479.1 85.3 L479.3 85.1 L479.4 85.0 L479.5 75.5 L479.6 60.9 L479.7 62.6 L479.9 64.3 L480.0 66.1 L480.1 85.3 L480.2 80.7 L480.4 76.2 L480.5 71.6 L480.6 67.1 L480.7 62.5 L480.8 59.5 L481.0 56.4 L481.1 53.4 L481.2 50.3 L481.3 47.3 L481.5 55.7 L481.6 64.0 L481.7 72.4 L481.8 80.7 L482.0 89.1 L482.1 90.2 L482.2 91.4 L482.3 92.5 L482.4 93.7 L482.6 94.8 L482.7 95.9 L482.8 97.1 L482.9 98.2 L483.1 99.4 L483.2 100.5 L483.3 93.7 L483.4 86.8 L483.5 80.0 L483.7 73.1 L483.8 66.3 L483.9 73.9 L484.0 81.5 L484.2 89.1 L484.3 96.7 L484.4 104.3 L484.5 103.2 L484.7 102.0 L484.8 100.9 L484.9 99.7 L485.0 98.6 L485.1 97.5 L485.3 96.3 L485.4 95.2 L485.5 94.0 L485.6 92.9 L485.8 88.3 L485.9 83.8 L486.0 79.2 L486.1 74.7 L486.2 70.1 L486.4 65.5 L486.5 61.0 L486.6 56.4 L486.7 51.9 L486.9 47.3 L487.0 47.7 L487.1 48.1 L487.2 48.4 L487.4 48.8 L487.5 49.2 L487.6 61.7 L487.7 74.3 L487.8 86.8 L488.0 99.4 L488.1 111.9 L488.2 109.2 L488.3 106.6 L488.5 103.9 L488.6 101.3 L488.7 98.6 L488.8 95.9 L489.0 93.3 L489.1 90.6 L489.2 88.0 L489.3 85.3 L489.4 80.7 L489.6 76.2 L489.7 71.6 L489.8 67.1 L489.9 62.5 L490.1 70.9 L490.2 79.2 L490.3 87.6 L490.4 95.9 L490.5 104.3 L490.7 102.8 L490.8 101.3 L490.9 99.7 L491.0 98.2 L491.2 96.7 L491.3 95.2 L491.4 93.7 L491.5 92.1 L491.7 90.6 L491.8 89.1 L491.9 84.9 L492.0 80.7 L492.1 76.6 L492.3 72.4 L492.4 68.2 L492.5 64.0 L492.6 59.8 L492.8 55.7 L492.9 51.5 L493.0 47.3 L493.1 48.1 L493.2 48.8 L493.4 49.6 L493.5 50.3 L493.6 51.1 L493.7 63.6 L493.9 76.2 L494.0 88.7 L494.1 101.3 L494.2 113.8 L494.4 110.3 L494.5 106.7 L494.6 103.2 L494.7 99.7 L494.8 96.2 L495.0 92.6 L495.1 89.1 L495.2 91.6 L495.3 94.2 L495.5 96.7 L495.6 99.2 L495.7 101.8 L495.8 104.3 L495.9 92.9 L496.1 81.5 L496.2 45.0 L496.3 8.5 L496.4 10.8 L496.6 13.1 L496.7 13.1 L496.8 13.1 L496.9 13.1 L497.1 13.1 L497.2 13.1 L497.3 13.1 L497.4 13.1 L497.5 13.1 L497.7 13.1 L497.8 13.1 L497.9 13.1 L498.0 13.1 L498.2 13.1 L498.3 13.1 L498.4 13.1 L498.5 13.1 L498.7 13.1 L498.8 13.1 L498.9 13.1 L499.0 13.1 L499.1 13.1 L499.3 13.1 L499.4 13.1 L499.5 13.1 L499.6 13.1 L499.8 13.1 L499.9 13.1 L500.0 13.1 L500.1 13.1 L500.2 13.1 L500.4 13.1 L500.5 13.1 L500.6 13.1 L500.7 13.1 L500.9 13.1 L501.0 13.1 L501.1 13.1 L501.2 13.1 L501.4 13.1 L501.5 13.1 L501.6 13.1 L501.7 13.1 L501.8 13.1 L502.0 13.1 L502.1 13.1 L502.2 13.1 L502.3 13.1 L502.5 13.1 L502.6 13.1 L502.7 13.1 L502.8 13.1 L502.9 13.1 L503.1 13.1 L503.2 13.1 L503.3 13.1 L503.4 13.1 L503.6 13.1 L503.7 13.1 L503.8 13.1 L503.9 13.1 L504.1 13.1 L504.2 13.1 L504.3 13.1 L504.4 13.1 L504.5 13.1 L504.7 13.1 L504.8 13.1 L504.9 13.1 L505.0 13.1 L505.2 13.1 L505.3 13.1 L505.4 13.1 L505.5 13.1 L505.6 13.1 L505.8 13.1 L505.9 13.1 L506.0 13.1 L506.1 13.1 L506.3 13.1 L506.4 13.1 L506.5 13.1 L506.6 13.1 L506.8 13.1 L506.9 13.1 L507.0 13.1 L507.1 13.1 L507.2 13.1 L507.4 13.1 L507.5 13.1 L507.6 13.1 L507.7 13.1 L507.9 13.1 L508.0 13.1 L508.1 13.1 L508.2 13.1 L508.4 13.1 L508.5 13.1 L508.6 13.1 L508.7 13.1 L508.8 13.1 L509.0 13.1 L509.1 13.1 L509.2 13.1 L509.3 13.1 L509.5 13.1 L509.6 13.1 L509.7 13.1 L509.8 13.1 L509.9 13.1 L510.1 13.1 L510.2 13.1 L510.3 13.1 L510.4 13.1 L510.6 13.1 L510.7 13.1 L510.8 13.1 L510.9 13.1 L511.1 13.1 L511.2 13.1 L511.3 13.1 L511.4 13.1 L511.5 13.1 L511.7 13.1 L511.8 13.1 L511.9 13.1 L512.0 13.1 L512.2 13.1 L512.3 13.1 L512.4 13.1 L512.5 13.1 L512.6 13.1 L512.8 13.1 L512.9 13.1 L513.0 13.1 L513.1 13.1 L513.3 13.1 L513.4 13.1 L513.5 13.1 L513.6 13.1 L513.8 13.1 L513.9 13.1 L514.0 13.1 L514.1 13.1 L514.2 13.1 L514.4 13.1 L514.5 13.1 L514.6 13.1 L514.7 13.1 L514.9 13.1 L515.0 13.1 L515.1 13.1 L515.2 13.1 L515.3 13.1 L515.5 13.1 L515.6 13.1 L515.7 13.1 L515.8 13.1 L516.0 13.1 L516.1 13.1 L516.2 13.1 L516.3 13.1 L516.5 13.1 L516.6 13.1 L516.7 13.1 L516.8 13.1 L516.9 13.1 L517.1 13.1 L517.2 13.1 L517.3 13.1 L517.4 13.1 L517.6 13.1 L517.7 13.1 L517.8 13.1 L517.9 13.1 L518.0 13.1 L518.2 13.1 L518.3 13.1 L518.4 13.1 L518.5 13.1 L518.7 13.1 L518.8 13.1 L518.9 13.1 L519.0 13.1 L519.2 13.1 L519.3 13.1 L519.4 13.1 L519.5 13.1 L519.6 13.1 L519.8 13.1 L519.9 13.1 L520.0 13.1 L520.1 13.1 L520.3 13.1 L520.4 13.1 L520.5 13.1 L520.6 13.1 L520.8 13.1 L520.9 13.1 L521.0 13.1 L521.1 13.1 L521.2 13.1 L521.4 13.1 L521.5 13.1 L521.6 13.1 L521.7 13.1 L521.9 13.1 L522.0 13.1 L522.1 13.1 L522.2 13.1 L522.3 13.1 L522.5 13.1 L522.6 13.1 L522.7 13.1 L522.8 13.1 L523.0 13.1 L523.1 13.1 L523.2 13.1 L523.3 13.1 L523.5 13.1 L523.6 13.1 L523.7 13.1 L523.8 13.1 L523.9 13.1 L524.1 13.1 L524.2 13.1 L524.3 13.1 L524.4 13.1 L524.6 13.1 L524.7 13.1 L524.8 13.1 L524.9 13.1 L525.0 13.1 L525.2 13.1 L525.3 13.1 L525.4 13.1 L525.5 13.1 L525.7 13.1 L525.8 13.1 L525.9 13.1 L526.0 13.1 L526.2 13.1 L526.3 13.1 L526.4 13.1 L526.5 13.1 L526.6 13.1 L526.8 13.1 L526.9 13.1 L527.0 13.1 L527.1 13.1 L527.3 13.1 L527.4 5.5" fill="none" stroke="#45c4f2" stroke-width="0.8" stroke-dasharray="6 0.8 1.2 0.8" />
<path d="M325.9 138.5 L327.9 106.2 L329.5 81.5 L330.7 81.5 L332.2 102.0 L333.6 103.2 L334.6 121.0 L335.6 122.2 L336.1 138.5" fill="none" stroke="#1f78d0" stroke-width="1.1" stroke-linejoin="round"/>
<path d="M320.5 138.5 L328.1 138.5 L329.3 129.0 L332.2 129.0 L333.4 138.5 L527.4 138.5" fill="none" stroke="#2dbb7d" stroke-width="1.2" stroke-linejoin="round"/>
<line x1="345.1" y1="138.5" x2="345.1" y2="136.3" stroke="#929292" stroke-width="0.6" />
<line x1="345.1" y1="5.5" x2="345.1" y2="7.7" stroke="#929292" stroke-width="0.6" />
<line x1="369.6" y1="138.5" x2="369.6" y2="136.3" stroke="#929292" stroke-width="0.6" />
<line x1="369.6" y1="5.5" x2="369.6" y2="7.7" stroke="#929292" stroke-width="0.6" />
<line x1="394.2" y1="138.5" x2="394.2" y2="136.3" stroke="#929292" stroke-width="0.6" />
<line x1="394.2" y1="5.5" x2="394.2" y2="7.7" stroke="#929292" stroke-width="0.6" />
<line x1="418.7" y1="138.5" x2="418.7" y2="136.3" stroke="#929292" stroke-width="0.6" />
<line x1="418.7" y1="5.5" x2="418.7" y2="7.7" stroke="#929292" stroke-width="0.6" />
<line x1="443.3" y1="138.5" x2="443.3" y2="136.3" stroke="#929292" stroke-width="0.6" />
<line x1="443.3" y1="5.5" x2="443.3" y2="7.7" stroke="#929292" stroke-width="0.6" />
<line x1="467.8" y1="138.5" x2="467.8" y2="136.3" stroke="#929292" stroke-width="0.6" />
<line x1="467.8" y1="5.5" x2="467.8" y2="7.7" stroke="#929292" stroke-width="0.6" />
<line x1="492.4" y1="138.5" x2="492.4" y2="136.3" stroke="#929292" stroke-width="0.6" />
<line x1="492.4" y1="5.5" x2="492.4" y2="7.7" stroke="#929292" stroke-width="0.6" />
<line x1="516.9" y1="138.5" x2="516.9" y2="136.3" stroke="#929292" stroke-width="0.6" />
<line x1="516.9" y1="5.5" x2="516.9" y2="7.7" stroke="#929292" stroke-width="0.6" />
<line x1="320.5" y1="119.5" x2="322.7" y2="119.5" stroke="#929292" stroke-width="0.6" />
<line x1="320.5" y1="100.5" x2="322.7" y2="100.5" stroke="#929292" stroke-width="0.6" />
<line x1="320.5" y1="81.5" x2="322.7" y2="81.5" stroke="#929292" stroke-width="0.6" />
<line x1="320.5" y1="62.5" x2="322.7" y2="62.5" stroke="#929292" stroke-width="0.6" />
<line x1="320.5" y1="43.5" x2="322.7" y2="43.5" stroke="#929292" stroke-width="0.6" />
<line x1="320.5" y1="24.5" x2="322.7" y2="24.5" stroke="#929292" stroke-width="0.6" />
<line x1="541.5" y1="119.5" x2="539.3" y2="119.5" stroke="#929292" stroke-width="0.6" />
<line x1="541.5" y1="100.5" x2="539.3" y2="100.5" stroke="#929292" stroke-width="0.6" />
<line x1="541.5" y1="81.5" x2="539.3" y2="81.5" stroke="#929292" stroke-width="0.6" />
<line x1="541.5" y1="62.5" x2="539.3" y2="62.5" stroke="#929292" stroke-width="0.6" />
<line x1="541.5" y1="43.5" x2="539.3" y2="43.5" stroke="#929292" stroke-width="0.6" />
<line x1="541.5" y1="24.5" x2="539.3" y2="24.5" stroke="#929292" stroke-width="0.6" />
<line x1="320.5" y1="5.5" x2="541.5" y2="5.5" stroke="#929292" stroke-width="1.0" />
<line x1="320.5" y1="138.5" x2="541.5" y2="138.5" stroke="#929292" stroke-width="1.0" />
<line x1="320.5" y1="5.5" x2="320.5" y2="138.5" stroke="#929292" stroke-width="1.0" />
<line x1="541.5" y1="5.5" x2="541.5" y2="138.5" stroke="#929292" stroke-width="1.0" />
<path d="M320.5 138.5 L527.4 138.5" fill="none" stroke="#2dbb7d" stroke-width="1.2" />
<ellipse cx="423.8" cy="29.2" rx="21.9" ry="19.9" fill="#fff" stroke="#777" stroke-width="0.6" stroke-dasharray="1 1"/>
<path d="M402.0 29.3 L416.1 29.3 L417.1 19.4 L418.8 20.7 L421.0 10.4 L427.2 29.5 L428.8 28.6 L445.5 28.6" fill="none" stroke="#45c4f2" stroke-width="0.9" />
<path d="M411.4 44.7 L413.0 42.0 L414.4 41.5 L415.7 38.7 L417.9 38.0 L419.9 34.4 L426.1 46.4 L433.2 46.4" fill="none" stroke="#3d9bdc" stroke-width="0.9" />
<line x1="351.8" y1="44.7" x2="327.6" y2="106.0" stroke="#777" stroke-width="0.6" />
<line x1="353.9" y1="124.0" x2="335.7" y2="130.6" stroke="#777" stroke-width="0.6" />
<line x1="506.9" y1="28.9" x2="496.3" y2="41.5" stroke="#777" stroke-width="0.6" />
<line x1="503.6" y1="80.7" x2="519.0" y2="93.6" stroke="#777" stroke-width="0.6" />
<text font-size="8.5" fill="#262626" stroke="#262626" stroke-width="0.1" text-anchor="end" transform="translate(317.6 122.4) scale(0.960 1)">0.5</text>
<text font-size="8.5" fill="#262626" stroke="#262626" stroke-width="0.1" text-anchor="end" transform="translate(317.6 103.4) scale(1.059 1)">1</text>
<text font-size="8.5" fill="#262626" stroke="#262626" stroke-width="0.1" text-anchor="end" transform="translate(317.6 84.4) scale(0.960 1)">1.5</text>
<text font-size="8.5" fill="#262626" stroke="#262626" stroke-width="0.1" text-anchor="end" transform="translate(317.6 65.4) scale(1.059 1)">2</text>
<text font-size="8.5" fill="#262626" stroke="#262626" stroke-width="0.1" text-anchor="end" transform="translate(317.6 46.4) scale(0.960 1)">2.5</text>
<text font-size="8.5" fill="#262626" stroke="#262626" stroke-width="0.1" text-anchor="end" transform="translate(317.6 27.4) scale(1.059 1)">3</text>
<text font-size="8.5" fill="#262626" stroke="#262626" stroke-width="0.1" text-anchor="end" transform="translate(317.6 8.4) scale(0.960 1)">3.5</text>
<text font-size="8.8" fill="#262626" stroke="#262626" stroke-width="0.1" text-anchor="middle" transform="translate(320.5 146.4) scale(1.080 1)">0</text>
<text font-size="8.8" fill="#262626" stroke="#262626" stroke-width="0.1" text-anchor="middle" transform="translate(345.1 146.4) scale(1.080 1)">2</text>
<text font-size="8.8" fill="#262626" stroke="#262626" stroke-width="0.1" text-anchor="middle" transform="translate(369.6 146.4) scale(1.080 1)">4</text>
<text font-size="8.8" fill="#262626" stroke="#262626" stroke-width="0.1" text-anchor="middle" transform="translate(394.2 146.4) scale(1.080 1)">6</text>
<text font-size="8.8" fill="#262626" stroke="#262626" stroke-width="0.1" text-anchor="middle" transform="translate(418.7 146.4) scale(1.080 1)">8</text>
<text font-size="8.8" fill="#262626" stroke="#262626" stroke-width="0.1" text-anchor="middle" transform="translate(443.3 146.4) scale(1.080 1)">10</text>
<text font-size="8.8" fill="#262626" stroke="#262626" stroke-width="0.1" text-anchor="middle" transform="translate(467.8 146.4) scale(1.080 1)">12</text>
<text font-size="8.8" fill="#262626" stroke="#262626" stroke-width="0.1" text-anchor="middle" transform="translate(492.4 146.4) scale(1.080 1)">14</text>
<text font-size="8.8" fill="#262626" stroke="#262626" stroke-width="0.1" text-anchor="middle" transform="translate(516.9 146.4) scale(1.080 1)">16</text>
<text font-size="8.8" fill="#262626" stroke="#262626" stroke-width="0.1" text-anchor="middle" transform="translate(541.5 146.4) scale(1.080 1)">18</text>
<text font-size="12.3" fill="#1c1c1c" stroke="#1c1c1c" stroke-width="0.15" transform="translate(301.5 108.7) rotate(-90) scale(0.942 1)">Braking force/kN</text>
<text font-size="12" fill="#1c1c1c" stroke="#1c1c1c" stroke-width="0.25" transform="translate(418.0 157.5) scale(1.076 1)">Time/s</text>
<text font-size="9" fill="#1c1c1c" stroke="#1c1c1c" stroke-width="0.15" text-anchor="middle" transform="translate(435.5 166.6)">(b)</text>
<text font-size="9" fill="#1c1c1c" stroke="#1c1c1c" stroke-width="0.15" transform="translate(360.5 14.8) scale(1.170 1)">partial</text>
<text font-size="9" fill="#1c1c1c" stroke="#1c1c1c" stroke-width="0.15" transform="translate(347.0 24.4) scale(1.123 1)">amplification</text>
<text font-size="9" fill="#1c1c1c" stroke="#1c1c1c" stroke-width="0.15" transform="translate(351.8 45.4) scale(1.020 1)">R_MBF</text>
<text font-size="9" fill="#1c1c1c" stroke="#1c1c1c" stroke-width="0.15" transform="translate(354.6 127.0) scale(0.954 1)">F_MBF</text>
<text font-size="9" fill="#1c1c1c" stroke="#1c1c1c" stroke-width="0.15" transform="translate(509.4 27.8) scale(1.040 1)">F_HBF</text>
<text font-size="9" fill="#1c1c1c" stroke="#1c1c1c" stroke-width="0.15" transform="translate(512.6 103.2) scale(1.035 1)">R_HBF</text>
</g>
<g id="pc">
<clipPath id="clipc"><rect x="47.7" y="179.5" width="210.8" height="127.0"/></clipPath>
<filter id="blc" x="-5%" y="-5%" width="110%" height="110%"><feGaussianBlur stdDeviation="0.45"/></filter>
<g clip-path="url(#clipc)"><g filter="url(#blc)">
<path d="M48.5 179.5 L48.9 169.7 L49.2 213.7 L49.9 201.0 L51.4 210.8 L53.2 212.7 L54.9 211.7 L56.4 213.7 L57.2 296.7 L58.4 298.7 L59.0 201.0 L59.8 200.0 L60.2 252.8 L61.1 269.4 L61.9 203.9 L63.1 199.0 L64.8 179.5 L66.0 164.8 L67.4 169.7 L68.3 195.1 L68.9 199.0 L69.8 201.3 L70.0 252.5 L70.2 221.9 L70.3 195.6 L71.4 193.5 L72.4 201.6 L74.0 200.0 L74.2 271.4 L74.4 227.6 L74.5 191.2 L75.3 195.4 L76.0 201.7 L77.1 197.8 L77.3 265.2 L77.4 225.7 L77.6 195.3 L78.4 195.2 L79.3 197.8 L80.6 199.5 L80.8 266.6 L80.9 226.1 L81.1 187.6 L81.8 194.8 L82.6 201.4 L83.6 201.4 L83.8 267.4 L84.0 226.4 L84.1 189.3 L85.1 192.7 L86.1 202.4 L87.5 196.1 L87.7 261.8 L87.9 224.7 L88.0 188.6 L88.9 195.4 L89.8 199.0 L91.1 199.9 L91.3 275.0 L91.5 228.7 L91.6 193.6 L92.4 192.9 L93.2 200.5 L94.3 197.1 L94.4 267.7 L94.6 226.5 L94.7 192.8 L95.3 192.0 L95.9 202.0 L96.6 198.4 L96.8 264.5 L96.9 225.5 L97.1 185.5 L98.2 193.0 L99.4 201.0 L101.2 196.4 L101.4 264.5 L101.5 225.5 L101.7 188.3 L102.2 193.1 L102.8 197.0 L103.5 201.8 L103.7 275.6 L103.9 228.9 L104.0 186.4 L104.9 195.7 L105.8 201.1 L107.1 199.4 L107.3 266.3 L107.5 226.1 L107.6 192.3 L108.6 193.8 L109.6 200.3 L111.1 199.8 L111.2 269.8 L111.4 227.1 L111.5 193.7 L112.3 193.0 L113.1 197.9 L114.1 197.0 L114.3 264.9 L114.5 225.6 L114.6 190.1 L115.4 196.9 L116.3 201.6 L117.4 196.6 L117.6 274.2 L117.8 228.4 L117.9 189.9 L119.0 194.5 L120.1 199.6 L121.9 196.8 L122.1 257.7 L122.2 223.5 L122.4 189.9 L123.2 196.4 L124.0 202.5 L125.1 199.8 L125.3 265.5 L125.5 225.8 L125.6 192.0 L126.6 195.2 L127.6 201.8 L129.1 197.2 L129.3 265.6 L129.5 225.8 L129.6 187.9 L130.4 195.1 L131.2 197.7 L132.2 199.6 L132.4 265.4 L132.6 225.8 L132.7 188.5 L133.5 196.6 L134.2 198.9 L135.3 196.2 L135.4 264.6 L135.6 225.5 L135.7 193.9 L136.7 196.5 L137.7 200.1 L139.2 197.4 L139.4 250.1 L139.5 221.2 L139.7 186.1 L140.3 192.6 L140.9 198.4 L141.6 201.3 L141.8 261.2 L142.0 224.5 L142.1 185.0 L143.0 196.2 L143.9 198.8 L145.3 200.5 L145.5 259.9 L145.7 224.1 L145.8 195.7 L146.6 195.4 L147.4 202.5 L148.6 196.3 L148.7 266.0 L148.9 226.0 L149.0 193.4 L150.1 192.7 L151.1 199.9 L152.6 197.0 L152.8 268.4 L153.0 226.7 L153.1 187.6 L154.0 196.9 L154.9 198.7 L156.3 196.7 L156.5 275.3 L156.6 228.7 L156.8 195.3 L157.5 194.0 L158.2 198.8 L159.2 201.3 L159.4 271.8 L159.6 227.7 L159.7 188.8 L160.5 192.8 L161.3 202.8 L162.5 197.2 L162.7 259.7 L162.9 224.1 L163.0 189.4 L163.7 196.6 L164.4 200.2 L165.4 198.4 L165.6 269.5 L165.7 227.0 L165.9 191.6 L166.7 196.5 L167.4 198.2 L168.5 197.9 L168.7 272.4 L168.9 227.9 L169.0 187.4 L169.8 196.2 L170.5 199.6 L171.5 197.4 L171.7 265.6 L171.8 225.9 L172.0 193.7 L172.7 195.6 L173.5 197.2 L174.6 201.8 L174.8 267.3 L175.0 226.4 L175.1 188.4 L175.9 196.3 L176.7 196.8 L177.8 196.8 L178.0 264.7 L178.1 225.6 L178.3 187.5 L178.9 196.5 L179.6 201.3 L180.5 200.2 L180.7 263.5 L180.8 225.2 L181.0 188.0 L181.7 196.9 L182.5 196.7 L183.5 196.3 L183.7 269.0 L183.8 226.9 L184.0 186.4 L184.7 192.1 L185.4 199.7 L186.3 197.5 L186.5 261.3 L186.7 224.6 L186.8 186.9 L187.6 192.1 L188.4 198.5 L189.6 200.7 L189.8 252.1 L189.9 221.8 L190.1 185.9 L191.0 196.9 L192.0 196.7 L193.4 197.0 L193.6 263.5 L193.7 225.2 L193.9 194.5 L194.8 193.9 L195.7 196.5 L196.9 201.3 L197.1 260.2 L197.3 224.2 L197.4 188.2 L198.3 195.2 L199.2 200.7 L200.2 199.0 L200.2 179.9 L200.8 271.7 L201.3 176.9 L203.1 176.4 L203.7 267.0 L204.2 173.0 L206.0 171.2 L206.6 277.8 L207.2 175.5 L208.9 180.6 L209.5 269.8 L210.1 184.1 L211.8 181.7 L212.4 284.5 L213.0 174.5 L214.2 183.6 L214.8 277.0 L215.3 208.8 L245.1 208.8" fill="none" stroke="#4696e2" stroke-width="1.2" stroke-linejoin="round"/>
<path d="M215.3 199.0 L216.7 203.9 L217.1 208.8 L216.5 214.7 L215.3 218.6" fill="none" stroke="#3b92e0" stroke-width="1.6" />
<path d="M48.5 179.5 L48.7 150.2 L49.1 306.5 L49.5 189.3 L50.8 204.9 L52.6 212.7 L54.3 210.8 L56.1 211.7 L59.0 213.7 L59.9 267.4 L60.8 311.4 L61.6 267.4 L62.5 203.9 L64.2 194.2 L65.4 169.7 L66.6 171.7 L67.8 195.1 L68.9 197.1 L71.1 196.5 L71.2 308.9 L71.4 238.8 L71.5 187.5 L72.4 194.2 L73.3 199.9 L74.7 195.9 L74.9 300.3 L75.0 236.2 L75.1 189.1 L76.0 195.0 L76.8 194.4 L78.1 198.9 L78.2 321.5 L78.4 242.6 L78.5 194.0 L79.4 193.3 L80.4 197.4 L81.9 199.2 L82.1 310.5 L82.2 239.3 L82.3 188.9 L83.0 193.4 L83.7 198.5 L84.7 197.0 L84.8 311.2 L84.9 239.5 L85.1 193.8 L86.0 191.7 L87.0 200.7 L88.5 194.5 L88.6 315.3 L88.8 240.8 L88.9 195.3 L89.7 189.5 L90.6 195.5 L91.9 199.3 L92.1 295.4 L92.2 234.8 L92.3 190.9 L93.1 192.2 L93.9 200.8 L95.0 198.2 L95.2 323.6 L95.3 243.2 L95.4 188.3 L96.1 192.1 L96.8 197.3 L97.8 194.5 L97.9 303.7 L98.1 237.3 L98.2 187.0 L99.2 189.9 L100.2 196.9 L101.9 198.1 L102.0 317.1 L102.2 241.3 L102.3 195.6 L102.9 192.9 L103.6 199.1 L104.6 196.8 L104.7 321.4 L104.8 242.6 L105.0 192.8 L105.9 194.3 L106.8 195.5 L108.3 198.9 L108.5 300.7 L108.6 236.4 L108.7 187.1 L109.6 195.1 L110.6 195.4 L112.0 199.6 L112.2 318.0 L112.3 241.6 L112.4 187.1 L113.2 193.0 L114.0 200.2 L115.3 199.6 L115.4 322.3 L115.5 242.9 L115.7 192.2 L116.5 193.3 L117.3 198.8 L118.6 197.2 L118.8 318.6 L118.9 241.8 L119.0 185.7 L120.0 194.4 L121.0 196.1 L122.6 197.1 L122.8 319.5 L122.9 242.0 L123.0 187.1 L123.8 192.1 L124.6 198.1 L125.9 198.2 L126.0 294.2 L126.1 234.4 L126.2 188.6 L127.3 192.1 L128.3 194.8 L129.9 198.7 L130.1 305.5 L130.2 237.8 L130.3 187.3 L131.2 194.7 L132.0 199.0 L133.3 196.3 L133.5 303.1 L133.6 237.1 L133.7 186.6 L134.4 190.0 L135.1 195.5 L136.1 195.3 L136.3 303.8 L136.4 237.3 L136.5 189.8 L137.5 189.9 L138.4 198.8 L140.0 195.2 L140.1 301.7 L140.2 236.7 L140.4 191.1 L141.1 190.1 L141.8 200.9 L142.9 199.3 L143.1 312.7 L143.2 240.0 L143.3 193.5 L144.2 193.2 L145.1 194.5 L146.4 197.9 L146.5 307.5 L146.7 238.4 L146.8 187.9 L147.6 189.4 L148.3 194.4 L149.5 198.3 L149.6 305.6 L149.8 237.8 L149.9 192.6 L150.8 194.9 L151.8 196.8 L153.3 198.6 L153.5 304.8 L153.6 237.6 L153.7 185.5 L154.7 194.3 L155.6 197.6 L157.2 195.6 L157.3 325.6 L157.4 243.9 L157.6 188.2 L158.3 193.7 L159.0 196.0 L160.1 196.9 L160.3 308.7 L160.4 238.8 L160.5 188.7 L161.4 194.6 L162.3 195.3 L163.7 196.6 L163.9 307.5 L164.0 238.4 L164.1 195.6 L164.8 191.2 L165.5 200.9 L166.6 199.0 L166.7 312.7 L166.8 240.0 L166.9 188.5 L167.8 191.1 L168.6 198.3 L169.8 194.6 L170.0 316.1 L170.1 241.0 L170.2 194.8 L170.9 190.0 L171.6 199.2 L172.6 196.9 L172.8 316.7 L172.9 241.2 L173.0 189.6 L173.7 193.7 L174.5 200.4 L175.5 198.0 L175.7 323.2 L175.8 243.1 L175.9 188.7 L176.7 193.1 L177.4 196.0 L178.5 196.3 L178.6 323.2 L178.8 243.1 L178.9 187.0 L179.7 194.6 L180.6 199.9 L181.8 199.4 L182.0 323.3 L182.1 243.1 L182.2 196.0 L182.9 191.2 L183.6 201.0 L184.6 196.2 L184.8 303.1 L184.9 237.1 L185.0 188.0 L185.8 193.8 L186.5 196.1 L187.7 196.2 L187.8 305.2 L187.9 237.7 L188.0 187.4 L188.7 190.2 L189.4 196.5 L190.3 198.6 L190.5 305.8 L190.6 237.9 L190.7 193.0 L191.7 189.4 L192.7 198.3 L194.3 197.1 L194.4 323.1 L194.6 243.1 L194.7 186.8 L195.5 191.7 L196.4 197.6 L197.7 199.9 L197.9 304.0 L198.0 237.4 L198.1 192.8 L199.0 191.3 L199.9 199.8 L200.2 197.1 L201.0 170.6 L201.6 332.2 L202.1 171.0 L204.0 179.0 L204.6 299.2 L205.2 170.8 L206.8 178.1 L207.4 332.7 L208.0 170.3 L209.8 171.9 L210.4 309.0 L211.0 178.7 L212.4 171.9 L213.0 309.8 L213.6 181.9 L214.5 176.2 L215.1 331.6 L215.3 208.8 L245.1 208.8" fill="none" stroke="#ff7438" stroke-width="0.8" stroke-linejoin="round"/>
</g></g>
<line x1="245.1" y1="203.9" x2="245.1" y2="213.7" stroke="#3b92e0" stroke-width="0.8" />
<line x1="215.3" y1="208.8" x2="245.1" y2="208.8" stroke="#ff7a45" stroke-width="1.3" />
<line x1="71.8" y1="306.5" x2="71.8" y2="304.3" stroke="#929292" stroke-width="0.6" />
<line x1="71.8" y1="179.5" x2="71.8" y2="181.7" stroke="#929292" stroke-width="0.6" />
<line x1="95.2" y1="306.5" x2="95.2" y2="304.3" stroke="#929292" stroke-width="0.6" />
<line x1="95.2" y1="179.5" x2="95.2" y2="181.7" stroke="#929292" stroke-width="0.6" />
<line x1="118.5" y1="306.5" x2="118.5" y2="304.3" stroke="#929292" stroke-width="0.6" />
<line x1="118.5" y1="179.5" x2="118.5" y2="181.7" stroke="#929292" stroke-width="0.6" />
<line x1="141.8" y1="306.5" x2="141.8" y2="304.3" stroke="#929292" stroke-width="0.6" />
<line x1="141.8" y1="179.5" x2="141.8" y2="181.7" stroke="#929292" stroke-width="0.6" />
<line x1="165.2" y1="306.5" x2="165.2" y2="304.3" stroke="#929292" stroke-width="0.6" />
<line x1="165.2" y1="179.5" x2="165.2" y2="181.7" stroke="#929292" stroke-width="0.6" />
<line x1="188.5" y1="306.5" x2="188.5" y2="304.3" stroke="#929292" stroke-width="0.6" />
<line x1="188.5" y1="179.5" x2="188.5" y2="181.7" stroke="#929292" stroke-width="0.6" />
<line x1="211.8" y1="306.5" x2="211.8" y2="304.3" stroke="#929292" stroke-width="0.6" />
<line x1="211.8" y1="179.5" x2="211.8" y2="181.7" stroke="#929292" stroke-width="0.6" />
<line x1="235.2" y1="306.5" x2="235.2" y2="304.3" stroke="#929292" stroke-width="0.6" />
<line x1="235.2" y1="179.5" x2="235.2" y2="181.7" stroke="#929292" stroke-width="0.6" />
<line x1="48.5" y1="287.0" x2="50.7" y2="287.0" stroke="#929292" stroke-width="0.6" />
<line x1="48.5" y1="267.4" x2="50.7" y2="267.4" stroke="#929292" stroke-width="0.6" />
<line x1="48.5" y1="247.9" x2="50.7" y2="247.9" stroke="#929292" stroke-width="0.6" />
<line x1="48.5" y1="228.3" x2="50.7" y2="228.3" stroke="#929292" stroke-width="0.6" />
<line x1="48.5" y1="208.8" x2="50.7" y2="208.8" stroke="#929292" stroke-width="0.6" />
<line x1="48.5" y1="189.3" x2="50.7" y2="189.3" stroke="#929292" stroke-width="0.6" />
<line x1="258.5" y1="287.0" x2="256.3" y2="287.0" stroke="#929292" stroke-width="0.6" />
<line x1="258.5" y1="267.4" x2="256.3" y2="267.4" stroke="#929292" stroke-width="0.6" />
<line x1="258.5" y1="247.9" x2="256.3" y2="247.9" stroke="#929292" stroke-width="0.6" />
<line x1="258.5" y1="228.3" x2="256.3" y2="228.3" stroke="#929292" stroke-width="0.6" />
<line x1="258.5" y1="208.8" x2="256.3" y2="208.8" stroke="#929292" stroke-width="0.6" />
<line x1="258.5" y1="189.3" x2="256.3" y2="189.3" stroke="#929292" stroke-width="0.6" />
<line x1="48.5" y1="179.5" x2="258.5" y2="179.5" stroke="#929292" stroke-width="1.0" />
<line x1="48.5" y1="306.5" x2="258.5" y2="306.5" stroke="#929292" stroke-width="1.0" />
<line x1="48.5" y1="179.5" x2="48.5" y2="306.5" stroke="#929292" stroke-width="1.0" />
<line x1="258.5" y1="179.5" x2="258.5" y2="306.5" stroke="#929292" stroke-width="1.0" />
<line x1="48.5" y1="179.5" x2="48.5" y2="306.5" stroke="#e65a1f" stroke-width="1.6" />
<line x1="215.3" y1="208.8" x2="215.3" y2="306.5" stroke="#e65a1f" stroke-width="1.2" />
<rect x="214.5" y="180.2" width="43.5" height="19.5" fill="#fff"/>
<line x1="216.8" y1="185.8" x2="235.5" y2="185.8" stroke="#3b92e0" stroke-width="1.5" />
<line x1="216.8" y1="195.6" x2="235.5" y2="195.6" stroke="#ff6a2a" stroke-width="1.2" />
<text font-size="9.5" fill="#1c1c1c" stroke="#1c1c1c" stroke-width="0.15" transform="translate(236.8 188.8) scale(0.972 1)">R_W</text>
<text font-size="9.5" fill="#1c1c1c" stroke="#1c1c1c" stroke-width="0.15" transform="translate(237.6 198.7) scale(0.947 1)">F_W</text>
<text font-size="8.5" fill="#262626" stroke="#262626" stroke-width="0.1" text-anchor="end" transform="translate(45.7 307.7) scale(1.091 1)">-100</text>
<text font-size="8.5" fill="#262626" stroke="#262626" stroke-width="0.1" text-anchor="end" transform="translate(45.7 290.9) scale(1.103 1)">-80</text>
<text font-size="8.2" fill="#262626" stroke="#262626" stroke-width="0.1" font-family='"Liberation Sans", sans-serif' text-anchor="end" transform="translate(45.7 270.9)">-60</text>
<text font-size="8.2" fill="#262626" stroke="#262626" stroke-width="0.1" font-family='"Liberation Sans", sans-serif' text-anchor="end" transform="translate(45.7 251.1)">-40</text>
<text font-size="8.2" fill="#262626" stroke="#262626" stroke-width="0.1" font-family='"Liberation Sans", sans-serif' text-anchor="end" transform="translate(45.7 232.4)">-20</text>
<text font-size="8.2" fill="#262626" stroke="#262626" stroke-width="0.1" font-family='"Liberation Sans", sans-serif' text-anchor="end" transform="translate(45.7 211.4)">0</text>
<text font-size="8.2" fill="#262626" stroke="#262626" stroke-width="0.1" font-family='"Liberation Sans", sans-serif' text-anchor="end" transform="translate(45.7 192.2)">20</text>
<text font-size="8.2" fill="#262626" stroke="#262626" stroke-width="0.1" font-family='"Liberation Sans", sans-serif' text-anchor="middle" transform="translate(48.2 313.6)">0</text>
<text font-size="8.2" fill="#262626" stroke="#262626" stroke-width="0.1" font-family='"Liberation Sans", sans-serif' text-anchor="middle" transform="translate(70.4 313.6)">2</text>
<text font-size="8.8" fill="#262626" stroke="#262626" stroke-width="0.1" text-anchor="middle" transform="translate(95.1 313.7) scale(1.080 1)">4</text>
<text font-size="8.8" fill="#262626" stroke="#262626" stroke-width="0.1" text-anchor="middle" transform="translate(118.6 313.7) scale(1.080 1)">6</text>
<text font-size="8.8" fill="#262626" stroke="#262626" stroke-width="0.1" text-anchor="middle" transform="translate(142.1 313.7) scale(1.080 1)">8</text>
<text font-size="8.8" fill="#262626" stroke="#262626" stroke-width="0.1" text-anchor="middle" transform="translate(165.5 313.7) scale(1.080 1)">10</text>
<text font-size="8.8" fill="#262626" stroke="#262626" stroke-width="0.1" text-anchor="middle" transform="translate(189.0 313.7) scale(1.080 1)">12</text>
<text font-size="8.8" fill="#262626" stroke="#262626" stroke-width="0.1" text-anchor="middle" transform="translate(212.5 313.7) scale(1.080 1)">14</text>
<text font-size="8.8" fill="#262626" stroke="#262626" stroke-width="0.1" text-anchor="middle" transform="translate(235.9 313.7) scale(1.080 1)">16</text>
<text font-size="8.8" fill="#262626" stroke="#262626" stroke-width="0.1" text-anchor="middle" transform="translate(259.4 313.7) scale(1.080 1)">18</text>
<text font-size="12.6" fill="#1c1c1c" stroke="#1c1c1c" stroke-width="0.15" transform="translate(14.7 303.2) rotate(-90) scale(0.919 1)">Wheel angle acceleration</text>
<text font-size="11" fill="#1c1c1c" stroke="#1c1c1c" stroke-width="0.15" font-family='"Liberation Serif", "Noto Serif CJK SC", "Noto Sans CJK SC", serif' transform="translate(29.9 272.2) rotate(-90) scale(1.116 1)">（rad/s/s）</text>
<text font-size="12" fill="#1c1c1c" stroke="#1c1c1c" stroke-width="0.25" transform="translate(131.6 323.4) scale(1.058 1)">Time/s</text>
<text font-size="9" fill="#1c1c1c" stroke="#1c1c1c" stroke-width="0.15" text-anchor="middle" transform="translate(146.3 335.0)">(c)</text>
</g>
<g id="pd">
<path d="M320.5 306.5 L320.6 306.5 L320.8 306.5 L320.9 306.5 L321.0 306.5 L321.1 306.5 L321.3 306.5 L321.4 306.5 L321.5 306.5 L321.6 306.5 L321.8 306.5 L321.9 306.5 L322.0 306.5 L322.1 306.5 L322.3 306.5 L322.4 306.5 L322.5 306.5 L322.6 306.5 L322.8 306.5 L322.9 306.5 L323.0 306.5 L323.1 306.5 L323.3 306.5 L323.4 306.5 L323.5 306.5 L323.6 306.5 L323.8 306.5 L323.9 306.5 L324.0 306.5 L324.1 306.5 L324.3 306.5 L324.4 306.5 L324.5 306.5 L324.6 306.5 L324.8 306.5 L324.9 306.5 L325.0 306.5 L325.1 306.5 L325.3 306.5 L325.4 306.5 L325.5 306.5 L325.6 306.5 L325.8 306.5 L325.9 306.5 L326.0 306.5 L326.1 306.5 L326.3 306.5 L326.4 306.5 L326.5 306.5 L326.7 306.5 L326.8 306.5 L326.9 306.5 L327.0 306.5 L327.2 306.5 L327.3 306.5 L327.4 306.5 L327.5 306.5 L327.7 306.5 L327.8 306.5 L327.9 306.5 L328.0 306.5 L328.2 306.5 L328.3 306.5 L328.4 306.5 L328.5 306.5 L328.7 306.5 L328.8 306.5 L328.9 306.5 L329.0 306.5 L329.2 306.5 L329.3 306.5 L329.4 306.5 L329.5 306.5 L329.7 304.1 L329.8 301.7 L329.9 299.3 L330.0 296.9 L330.2 294.4 L330.3 292.0 L330.4 289.6 L330.5 287.2 L330.7 284.8 L330.8 282.4 L330.9 282.4 L331.0 282.5 L331.2 282.5 L331.3 282.5 L331.4 282.6 L331.5 282.6 L331.7 282.7 L331.8 282.7 L331.9 282.8 L332.1 282.8 L332.2 282.8 L332.3 282.9 L332.4 282.9 L332.6 283.0 L332.7 283.0 L332.8 283.1 L332.9 281.4 L333.1 279.7 L333.2 278.0 L333.3 276.4 L333.4 274.7 L333.6 273.0 L333.7 271.3 L333.8 269.6 L333.9 268.0 L334.1 266.3 L334.2 266.1 L334.3 265.9 L334.4 265.6 L334.6 265.4 L334.7 265.2 L334.8 265.0 L334.9 264.7 L335.1 264.5 L335.2 264.3 L335.3 264.1 L335.4 263.8 L335.6 263.6 L335.7 264.2 L335.8 264.9 L335.9 265.5 L336.1 266.1 L336.2 266.7 L336.3 267.4 L336.4 268.0 L336.6 268.6 L336.7 269.2 L336.8 269.9 L336.9 270.5 L337.1 271.1 L337.2 271.7 L337.3 272.4 L337.4 273.0 L337.6 273.5 L337.7 274.1 L337.8 274.6 L338.0 275.1 L338.1 275.7 L338.2 276.2 L338.3 276.8 L338.5 277.3 L338.6 277.8 L338.7 278.4 L338.8 278.9 L339.0 279.4 L339.1 280.0 L339.2 280.5 L339.3 281.0 L339.5 281.3 L339.6 281.6 L339.7 281.8 L339.8 282.1 L340.0 282.4 L340.1 282.6 L340.2 282.9 L340.3 283.2 L340.5 283.5 L340.6 283.7 L340.7 284.0 L340.8 284.3 L341.0 284.5 L341.1 284.8 L341.2 285.1 L341.3 285.3 L341.5 285.6 L341.6 285.9 L341.7 286.1 L341.8 286.4 L342.0 286.4 L342.1 286.4 L342.2 286.4 L342.3 286.4 L342.5 286.4 L342.6 286.4 L342.7 286.4 L342.8 286.4 L343.0 286.4 L343.1 286.4 L343.2 288.4 L343.4 287.2 L343.5 285.9 L343.6 284.6 L343.7 283.7 L343.9 283.1 L344.0 282.6 L344.1 282.0 L344.2 281.4 L344.4 280.8 L344.5 280.2 L344.6 279.7 L344.7 279.1 L344.9 278.5 L345.0 277.9 L345.1 277.3 L345.2 276.8 L345.4 276.2 L345.5 275.6 L345.6 275.0 L345.7 274.4 L345.9 273.8 L346.0 273.3 L346.1 272.7 L346.2 272.1 L346.4 271.5 L346.5 270.9 L346.6 270.4 L346.7 269.8 L346.9 269.2 L347.0 268.6 L347.1 268.0 L347.2 267.5 L347.4 266.9 L347.5 266.3 L347.6 266.9 L347.7 267.5 L347.9 268.0 L348.0 268.6 L348.1 269.2 L348.2 269.8 L348.4 270.4 L348.5 270.9 L348.6 271.5 L348.8 272.1 L348.9 272.7 L349.0 273.3 L349.1 273.8 L349.3 274.4 L349.4 275.0 L349.5 275.6 L349.6 276.2 L349.8 276.8 L349.9 277.3 L350.0 277.9 L350.1 278.5 L350.3 279.1 L350.4 279.7 L350.5 280.2 L350.6 280.8 L350.8 281.4 L350.9 282.0 L351.0 282.6 L351.1 283.1 L351.3 285.8 L351.4 286.3 L351.5 286.8 L351.6 287.3 L351.8 287.8 L351.9 288.3 L352.0 287.3 L352.1 286.0 L352.3 284.7 L352.4 283.4 L352.5 282.1 L352.6 280.7 L352.8 279.4 L352.9 278.1 L353.0 276.8 L353.1 275.8 L353.3 276.3 L353.4 276.8 L353.5 277.3 L353.6 277.8 L353.8 278.3 L353.9 278.8 L354.0 279.3 L354.1 279.8 L354.3 280.3 L354.4 280.9 L354.5 281.4 L354.7 281.9 L354.8 282.4 L354.9 282.9 L355.0 283.4 L355.2 283.9 L355.3 284.4 L355.4 284.9 L355.5 285.4 L355.7 286.0 L355.8 286.5 L355.9 287.0 L356.0 287.5 L356.2 288.0 L356.3 288.2 L356.4 287.1 L356.5 286.0 L356.7 284.9 L356.8 283.9 L356.9 282.8 L357.0 281.7 L357.2 280.6 L357.3 279.6 L357.4 278.5 L357.5 277.5 L357.7 277.9 L357.8 278.3 L357.9 278.7 L358.0 279.1 L358.2 279.5 L358.3 280.0 L358.4 280.4 L358.5 280.8 L358.7 281.2 L358.8 281.6 L358.9 282.1 L359.0 282.5 L359.2 282.9 L359.3 283.3 L359.4 283.7 L359.5 284.1 L359.7 284.6 L359.8 285.0 L359.9 285.4 L360.1 285.8 L360.2 286.3 L360.3 286.7 L360.4 287.1 L360.6 287.5 L360.7 287.9 L360.8 288.4 L360.9 287.5 L361.1 286.5 L361.2 285.5 L361.3 284.4 L361.4 283.4 L361.6 282.4 L361.7 281.3 L361.8 280.3 L361.9 279.3 L362.1 278.3 L362.2 277.6 L362.3 278.0 L362.4 278.4 L362.6 278.8 L362.7 279.2 L362.8 279.6 L362.9 280.0 L363.1 280.4 L363.2 280.8 L363.3 281.2 L363.4 281.6 L363.6 282.0 L363.7 282.4 L363.8 282.8 L363.9 283.2 L364.1 283.6 L364.2 284.0 L364.3 284.4 L364.4 284.8 L364.6 285.2 L364.7 285.6 L364.8 286.0 L364.9 286.4 L365.1 286.8 L365.2 287.2 L365.3 287.6 L365.4 288.0 L365.6 288.4 L365.7 287.1 L365.8 285.8 L366.0 284.4 L366.1 283.1 L366.2 281.8 L366.3 280.5 L366.5 279.2 L366.6 277.8 L366.7 276.5 L366.8 275.5 L367.0 276.0 L367.1 276.5 L367.2 277.0 L367.3 277.5 L367.5 278.0 L367.6 278.5 L367.7 279.1 L367.8 279.6 L368.0 280.1 L368.1 280.6 L368.2 281.1 L368.3 281.6 L368.5 282.1 L368.6 282.6 L368.7 283.1 L368.8 283.7 L369.0 284.2 L369.1 284.7 L369.2 285.2 L369.3 285.7 L369.5 286.2 L369.6 286.8 L369.7 287.3 L369.8 287.8 L370.0 288.3 L370.1 287.5 L370.2 286.4 L370.3 285.3 L370.5 284.2 L370.6 283.0 L370.7 281.9 L370.8 280.8 L371.0 279.7 L371.1 278.5 L371.2 277.4 L371.4 277.8 L371.5 278.3 L371.6 278.7 L371.7 279.1 L371.9 279.6 L372.0 280.0 L372.1 280.4 L372.2 280.9 L372.4 281.3 L372.5 281.7 L372.6 282.2 L372.7 282.6 L372.9 283.0 L373.0 283.5 L373.1 283.9 L373.2 284.4 L373.4 284.8 L373.5 285.2 L373.6 285.7 L373.7 286.1 L373.9 286.6 L374.0 287.0 L374.1 287.4 L374.2 287.9 L374.4 288.3 L374.5 287.4 L374.6 286.0 L374.7 284.7 L374.9 283.4 L375.0 282.0 L375.1 280.7 L375.2 279.4 L375.4 278.0 L375.5 276.7 L375.6 276.6 L375.7 277.2 L375.9 277.7 L376.0 278.2 L376.1 278.7 L376.2 279.2 L376.4 279.7 L376.5 280.3 L376.6 280.8 L376.7 281.3 L376.9 281.8 L377.0 282.3 L377.1 282.9 L377.3 283.4 L377.4 283.9 L377.5 284.4 L377.6 284.9 L377.8 285.5 L377.9 286.0 L378.0 286.5 L378.1 287.0 L378.3 287.5 L378.4 288.1 L378.5 287.9 L378.6 286.5 L378.8 285.1 L378.9 283.7 L379.0 282.3 L379.1 280.9 L379.3 279.5 L379.4 278.0 L379.5 276.6 L379.6 275.2 L379.8 275.7 L379.9 276.2 L380.0 276.7 L380.1 277.3 L380.3 277.8 L380.4 278.4 L380.5 278.9 L380.6 279.5 L380.8 280.0 L380.9 280.6 L381.0 281.1 L381.1 281.7 L381.3 282.2 L381.4 282.8 L381.5 283.3 L381.6 283.9 L381.8 284.4 L381.9 285.0 L382.0 285.5 L382.1 286.1 L382.3 286.6 L382.4 287.2 L382.5 287.7 L382.6 288.3 L382.8 287.5 L382.9 286.2 L383.0 284.9 L383.2 283.6 L383.3 282.3 L383.4 281.1 L383.5 279.8 L383.7 278.5 L383.8 277.2 L383.9 275.9 L384.0 276.3 L384.2 276.8 L384.3 277.3 L384.4 277.8 L384.5 278.3 L384.7 278.8 L384.8 279.3 L384.9 279.8 L385.0 280.3 L385.2 280.8 L385.3 281.3 L385.4 281.8 L385.5 282.3 L385.7 282.8 L385.8 283.3 L385.9 283.8 L386.0 284.3 L386.2 284.8 L386.3 285.3 L386.4 285.8 L386.5 286.3 L386.7 286.8 L386.8 287.3 L386.9 287.8 L387.0 288.3 L387.2 287.6 L387.3 286.5 L387.4 285.5 L387.5 284.4 L387.7 283.3 L387.8 282.2 L387.9 281.1 L388.0 280.1 L388.2 279.0 L388.3 277.9 L388.4 277.8 L388.6 278.2 L388.7 278.6 L388.8 279.0 L388.9 279.4 L389.1 279.9 L389.2 280.3 L389.3 280.7 L389.4 281.1 L389.6 281.5 L389.7 281.9 L389.8 282.4 L389.9 282.8 L390.1 283.2 L390.2 283.6 L390.3 284.0 L390.4 284.5 L390.6 284.9 L390.7 285.3 L390.8 285.7 L390.9 286.2 L391.1 286.6 L391.2 287.0 L391.3 287.4 L391.4 287.8 L391.6 288.3 L391.7 287.4 L391.8 286.0 L391.9 284.5 L392.1 283.1 L392.2 281.6 L392.3 280.1 L392.4 278.7 L392.6 277.2 L392.7 275.8 L392.8 274.3 L392.9 273.6 L393.1 274.1 L393.2 274.7 L393.3 275.2 L393.4 275.8 L393.6 276.4 L393.7 276.9 L393.8 277.5 L393.9 278.1 L394.1 278.6 L394.2 279.2 L394.3 279.8 L394.5 280.3 L394.6 280.9 L394.7 281.5 L394.8 282.0 L395.0 282.6 L395.1 283.2 L395.2 283.7 L395.3 284.3 L395.5 284.9 L395.6 285.5 L395.7 286.0 L395.8 286.6 L396.0 287.2 L396.1 287.7 L396.2 288.3 L396.3 287.1 L396.5 285.5 L396.6 283.9 L396.7 282.3 L396.8 280.7 L397.0 279.1 L397.1 277.5 L397.2 275.9 L397.3 274.3 L397.5 273.3 L397.6 273.9 L397.7 274.5 L397.8 275.1 L398.0 275.7 L398.1 276.4 L398.2 277.0 L398.3 277.6 L398.5 278.2 L398.6 278.8 L398.7 279.4 L398.8 280.1 L399.0 280.7 L399.1 281.3 L399.2 281.9 L399.3 282.5 L399.5 283.2 L399.6 283.8 L399.7 284.4 L399.9 285.0 L400.0 285.6 L400.1 286.3 L400.2 286.9 L400.4 287.5 L400.5 288.1 L400.6 287.6 L400.7 286.2 L400.9 284.8 L401.0 283.4 L401.1 282.0 L401.2 280.6 L401.4 279.2 L401.5 277.8 L401.6 276.4 L401.7 275.9 L401.9 276.5 L402.0 277.0 L402.1 277.6 L402.2 278.1 L402.4 278.6 L402.5 279.2 L402.6 279.7 L402.7 280.3 L402.9 280.8 L403.0 281.4 L403.1 281.9 L403.2 282.5 L403.4 283.0 L403.5 283.6 L403.6 284.1 L403.7 284.6 L403.9 285.2 L404.0 285.7 L404.1 286.3 L404.2 286.8 L404.4 287.4 L404.5 287.9 L404.6 288.2 L404.7 286.7 L404.9 285.1 L405.0 283.6 L405.1 282.1 L405.2 280.6 L405.4 279.1 L405.5 277.6 L405.6 276.1 L405.8 274.6 L405.9 274.6 L406.0 275.1 L406.1 275.7 L406.3 276.3 L406.4 276.9 L406.5 277.5 L406.6 278.1 L406.8 278.6 L406.9 279.2 L407.0 279.8 L407.1 280.4 L407.3 281.0 L407.4 281.6 L407.5 282.2 L407.6 282.8 L407.8 283.3 L407.9 283.9 L408.0 284.5 L408.1 285.1 L408.3 285.7 L408.4 286.3 L408.5 286.9 L408.6 287.5 L408.8 288.1 L408.9 287.7 L409.0 286.2 L409.1 284.6 L409.3 283.1 L409.4 281.5 L409.5 280.0 L409.6 278.4 L409.8 276.9 L409.9 275.3 L410.0 273.7 L410.1 272.2 L410.3 272.7 L410.4 273.3 L410.5 273.9 L410.6 274.5 L410.8 282.9 L410.9 282.0 L411.0 281.2 L411.2 280.3 L411.3 279.5 L411.4 278.6 L411.5 277.8 L411.7 276.9 L411.8 276.0 L411.9 275.2 L412.0 274.3 L412.2 273.5 L412.3 272.6 L412.4 271.8 L412.5 270.9 L412.7 270.1 L412.8 269.2 L412.9 268.4 L413.0 267.5 L413.2 266.7 L413.3 265.8 L413.4 265.0 L413.5 265.8 L413.7 266.7 L413.8 267.5 L413.9 268.4 L414.0 269.2 L414.2 270.1 L414.3 270.9 L414.4 271.8 L414.5 272.6 L414.7 273.5 L414.8 282.6 L414.9 281.4 L415.0 280.2 L415.2 279.1 L415.3 277.9 L415.4 276.8 L415.5 275.6 L415.7 274.4 L415.8 273.3 L415.9 272.1 L416.0 270.9 L416.2 269.8 L416.3 268.6 L416.4 267.5 L416.6 266.3 L416.7 267.5 L416.8 268.6 L416.9 269.8 L417.1 270.9 L417.2 272.1 L417.3 273.3 L417.4 274.4 L417.6 275.6 L417.7 276.8 L417.8 277.9 L417.9 279.1 L418.1 280.2 L418.2 281.4 L418.3 282.6 L418.4 283.7 L418.6 280.0 L418.7 278.7 L418.8 277.4 L418.9 276.2 L419.1 276.6 L419.2 277.1 L419.3 277.6 L419.4 278.1 L419.6 278.6 L419.7 279.1 L419.8 279.5 L419.9 280.0 L420.1 280.5 L420.2 281.0 L420.3 281.5 L420.4 282.0 L420.6 282.5 L420.7 283.0 L420.8 283.5 L420.9 284.0 L421.1 284.4 L421.2 284.9 L421.3 285.4 L421.4 285.9 L421.6 286.4 L421.7 286.9 L421.8 287.4 L421.9 287.9 L422.1 288.4 L422.2 287.1 L422.3 285.8 L422.5 284.5 L422.6 283.2 L422.7 281.9 L422.8 280.6 L423.0 279.3 L423.1 277.9 L423.2 276.6 L423.3 275.3 L423.5 274.8 L423.6 275.3 L423.7 275.8 L423.8 276.2 L424.0 276.7 L424.1 277.2 L424.2 277.7 L424.3 278.3 L424.5 278.8 L424.6 279.3 L424.7 279.8 L424.8 280.3 L425.0 280.8 L425.1 281.3 L425.2 281.8 L425.3 282.3 L425.5 282.8 L425.6 283.4 L425.7 283.9 L425.8 284.4 L426.0 282.0 L426.1 280.4 L426.2 278.7 L426.3 277.0 L426.5 275.3 L426.6 273.7 L426.7 272.0 L426.8 270.3 L427.0 268.6 L427.1 267.0 L427.2 265.3 L427.3 263.6 L427.5 261.9 L427.6 260.3 L427.7 258.6 L427.9 256.9 L428.0 258.6 L428.1 260.3 L428.2 261.9 L428.4 263.6 L428.5 265.3 L428.6 267.0 L428.7 268.6 L428.9 270.3 L429.0 272.0 L429.1 273.7 L429.2 275.3 L429.4 277.0 L429.5 278.7 L429.6 280.4 L429.7 282.0 L429.9 283.4 L430.0 284.1 L430.1 284.7 L430.2 285.3 L430.4 286.0 L430.5 286.6 L430.6 287.3 L430.7 287.9 L430.9 288.0 L431.0 286.2 L431.1 284.3 L431.2 282.5 L431.4 280.7 L431.5 278.9 L431.6 277.0 L431.7 275.2 L431.9 273.3 L432.0 271.5 L432.1 270.4 L432.2 271.0 L432.4 271.7 L432.5 272.4 L432.6 273.1 L432.7 273.8 L432.9 274.5 L433.0 275.2 L433.1 275.9 L433.2 276.6 L433.4 277.3 L433.5 278.0 L433.6 278.7 L433.8 279.5 L433.9 280.2 L434.0 280.9 L434.1 281.6 L434.3 282.3 L434.4 283.0 L434.5 283.8 L434.6 284.5 L434.8 285.2 L434.9 286.0 L435.0 286.7 L435.1 287.4 L435.3 288.1 L435.4 287.3 L435.5 285.6 L435.6 284.0 L435.8 282.3 L435.9 280.6 L436.0 278.9 L436.1 277.1 L436.3 275.4 L436.4 273.7 L436.5 272.0 L436.6 270.5 L436.8 271.1 L436.9 271.8 L437.0 272.4 L437.1 273.1 L437.3 273.7 L437.4 274.4 L437.5 275.0 L437.6 275.7 L437.8 276.3 L437.9 277.0 L438.0 277.6 L438.1 278.3 L438.3 278.9 L438.4 279.6 L438.5 280.3 L438.6 280.9 L438.8 281.6 L438.9 282.3 L439.0 282.9 L439.1 283.6 L439.3 284.3 L439.4 285.0 L439.5 285.6 L439.7 286.3 L439.8 287.0 L439.9 287.7 L440.0 288.4 L440.2 286.8 L440.3 285.2 L440.4 283.5 L440.5 281.8 L440.7 280.2 L440.8 278.5 L440.9 276.8 L441.0 275.1 L441.2 273.4 L441.3 273.1 L441.4 273.8 L441.5 274.4 L441.7 275.0 L441.8 275.7 L441.9 276.3 L442.0 277.0 L442.2 277.6 L442.3 278.3 L442.4 278.9 L442.5 279.5 L442.7 280.2 L442.8 280.8 L442.9 281.5 L443.0 282.2 L443.2 282.8 L443.3 283.5 L443.4 284.1 L443.5 284.8 L443.7 285.5 L443.8 286.1 L443.9 286.8 L444.0 287.4 L444.2 288.1 L444.3 287.5 L444.4 286.0 L444.5 284.4 L444.7 282.8 L444.8 281.3 L444.9 279.7 L445.1 278.1 L445.2 276.5 L445.3 274.9 L445.4 273.3 L445.6 273.2 L445.7 273.8 L445.8 274.4 L445.9 275.0 L446.1 275.6 L446.2 276.2 L446.3 276.8 L446.4 277.4 L446.6 278.0 L446.7 278.7 L446.8 279.3 L446.9 279.9 L447.1 280.5 L447.2 281.1 L447.3 281.7 L447.4 282.3 L447.6 283.0 L447.7 283.6 L447.8 284.2 L447.9 284.8 L448.1 285.4 L448.2 286.1 L448.3 286.7 L448.4 287.3 L448.6 288.0 L448.7 287.8 L448.8 285.7 L448.9 283.6 L449.1 281.5 L449.2 279.3 L449.3 277.2 L449.4 275.1 L449.6 272.9 L449.7 270.8 L449.8 268.6 L449.9 266.5 L450.1 266.6 L450.2 267.4 L450.3 268.3 L450.4 269.1 L450.6 269.9 L450.7 270.7 L450.8 271.5 L451.0 272.3 L451.1 273.2 L451.2 274.0 L451.3 274.8 L451.5 275.6 L451.6 276.5 L451.7 277.3 L451.8 278.1 L452.0 279.0 L452.1 279.8 L452.2 280.6 L452.3 281.5 L452.5 282.3 L452.6 283.2 L452.7 284.0 L452.8 284.9 L453.0 285.7 L453.1 286.6 L453.2 287.4 L453.3 288.3 L453.5 286.8 L453.6 284.9 L453.7 283.0 L453.8 281.1 L454.0 279.2 L454.1 277.2 L454.2 275.3 L454.3 273.4 L454.5 271.4 L454.6 271.2 L454.7 271.9 L454.8 272.6 L455.0 273.4 L455.1 274.1 L455.2 274.9 L455.3 275.6 L455.5 276.3 L455.6 277.1 L455.7 277.8 L455.8 278.6 L456.0 279.3 L456.1 280.1 L456.2 280.8 L456.4 281.6 L456.5 282.3 L456.6 283.1 L456.7 283.9 L456.9 284.6 L457.0 285.4 L457.1 286.1 L457.2 286.9 L457.4 287.7 L457.5 288.4 L457.6 286.3 L457.7 284.3 L457.9 282.2 L458.0 280.2 L458.1 278.1 L458.2 276.1 L458.4 274.0 L458.5 271.9 L458.6 269.9 L458.7 268.3 L458.9 269.1 L459.0 269.9 L459.1 270.7 L459.2 271.4 L459.4 272.2 L459.5 273.0 L459.6 273.8 L459.7 274.6 L459.9 275.4 L460.0 276.2 L460.1 277.0 L460.2 277.8 L460.4 278.6 L460.5 279.4 L460.6 280.2 L460.7 281.0 L460.9 281.8 L461.0 282.6 L461.1 283.4 L461.2 284.2 L461.4 285.0 L461.5 285.9 L461.6 286.7 L461.8 287.5 L461.9 288.3 L462.0 286.7 L462.1 284.7 L462.3 282.7 L462.4 280.7 L462.5 278.7 L462.6 276.8 L462.8 274.8 L462.9 272.8 L463.0 270.8 L463.1 268.8 L463.3 268.6 L463.4 269.3 L463.5 270.1 L463.6 270.8 L463.8 271.6 L463.9 272.4 L464.0 273.1 L464.1 273.9 L464.3 274.7 L464.4 275.4 L464.5 276.2 L464.6 277.0 L464.8 277.7 L464.9 278.5 L465.0 279.3 L465.1 280.1 L465.3 280.8 L465.4 281.6 L465.5 282.4 L465.6 283.2 L465.8 284.0 L465.9 284.8 L466.0 285.5 L466.1 286.3 L466.3 287.1 L466.4 287.9 L466.5 287.5 L466.6 285.0 L466.8 282.6 L466.9 280.1 L467.0 277.6 L467.1 275.2 L467.3 272.7 L467.4 270.2 L467.5 267.7 L467.7 265.2 L467.8 263.7 L467.9 264.7 L468.0 265.6 L468.2 266.6 L468.3 267.5 L468.4 268.5 L468.5 269.4 L468.7 270.4 L468.8 271.3 L468.9 272.3 L469.0 273.2 L469.2 274.2 L469.3 275.2 L469.4 276.1 L469.5 277.1 L469.7 278.0 L469.8 279.0 L469.9 280.0 L470.0 280.9 L470.2 281.9 L470.3 282.9 L470.4 283.9 L470.5 284.8 L470.7 285.8 L470.8 286.8 L470.9 287.8 L471.0 287.6 L471.2 285.3 L471.3 283.0 L471.4 280.8 L471.5 278.5 L471.7 276.2 L471.8 273.8 L471.9 271.5 L472.0 269.2 L472.2 266.9 L472.3 266.5 L472.4 267.4 L472.5 268.2 L472.7 269.1 L472.8 270.0 L472.9 270.8 L473.1 271.7 L473.2 272.6 L473.3 273.5 L473.4 274.3 L473.6 275.2 L473.7 276.1 L473.8 277.0 L473.9 277.9 L474.1 278.8 L474.2 279.7 L474.3 280.6 L474.4 281.5 L474.6 282.5 L474.7 283.4 L474.8 284.3 L474.9 285.2 L475.1 286.1 L475.2 287.1 L475.3 288.0 L475.4 286.8 L475.6 283.9 L475.7 281.1 L475.8 278.2 L475.9 275.3 L476.1 272.3 L476.2 269.4 L476.3 266.5 L476.4 263.5 L476.6 261.6 L476.7 262.7 L476.8 263.8 L476.9 264.9 L477.1 266.0 L477.2 267.1 L477.3 268.2 L477.4 269.3 L477.6 270.4 L477.7 271.6 L477.8 272.7 L477.9 273.8 L478.1 274.9 L478.2 276.1 L478.3 277.2 L478.4 278.3 L478.6 279.5 L478.7 280.6 L478.8 281.8 L479.0 283.0 L479.1 284.1 L479.2 285.3 L479.3 286.4 L479.5 287.6 L479.6 287.5 L479.7 284.7 L479.8 281.9 L480.0 279.1 L480.1 276.3 L480.2 273.5 L480.3 270.7 L480.5 267.8 L480.6 265.0 L480.7 262.1 L480.8 261.4 L481.0 262.5 L481.1 263.5 L481.2 264.6 L481.3 265.1 L481.5 265.7 L481.6 266.4 L481.7 267.2 L481.8 268.1 L482.0 269.2 L482.1 270.4 L482.2 271.7 L482.3 273.1 L482.5 274.6 L482.6 276.2 L482.7 278.0 L482.8 279.8 L483.0 281.8 L483.1 283.9 L483.2 286.1 L483.3 288.5 L483.5 290.9 L483.6 293.5 L483.7 296.1 L483.8 299.0 L484.0 299.2 L484.1 294.5 L484.2 289.6 L484.4 284.3 L484.5 278.7 L484.6 272.8 L484.7 266.6 L484.9 260.1 L485.0 253.3 L485.1 246.0 L485.2 245.8 L485.4 247.5 L485.5 249.2 L485.6 251.1 L485.7 253.0 L485.9 255.0 L486.0 257.0 L486.1 259.2 L486.2 261.4 L486.4 264.4 L486.5 267.5 L486.6 270.5 L486.7 273.5 L486.9 276.4 L487.0 279.3 L487.1 282.2 L487.2 285.1 L487.4 287.9 L487.5 290.7 L487.6 293.5 L487.7 296.2 L487.9 298.9 L488.0 301.6 L488.1 304.3 L488.2 305.2 L488.4 296.1 L488.5 287.2 L488.6 278.4 L488.7 269.7 L488.9 261.1 L489.0 252.6 L489.1 244.2 L489.2 235.8 L489.4 236.6 L489.5 240.3 L489.6 244.0 L489.7 247.7 L489.9 251.3 L490.0 254.9 L490.1 258.3 L490.3 261.6 L490.4 264.9 L490.5 268.1 L490.6 271.4 L490.8 274.7 L490.9 278.0 L491.0 281.2 L491.1 284.5 L491.3 287.7 L491.4 290.9 L491.5 294.2 L491.6 297.4 L491.8 300.6 L491.9 303.8 L492.0 305.4 L492.1 297.7 L492.3 290.0 L492.4 282.3 L492.5 274.7 L492.6 267.1 L492.8 259.5 L492.9 251.9 L493.0 250.6 L493.1 253.6 L493.3 256.6 L493.4 259.6 L493.5 262.6 L493.6 265.7 L493.8 268.7 L493.9 271.1 L494.0 273.7 L494.1 276.3 L494.3 279.0 L494.4 281.8 L494.5 284.7 L494.6 287.6 L494.8 290.7 L494.9 293.8 L495.0 297.0 L495.1 300.2 L495.3 303.6 L495.4 305.2 L495.5 296.4 L495.6 287.4 L495.8 278.1 L495.9 268.7 L496.0 259.1 L496.2 249.2 L496.3 239.2 L496.4 237.6 L496.5 241.4 L496.7 245.2 L496.8 248.9 L496.9 252.7 L497.0 256.4 L497.2 260.1 L497.3 263.8 L497.4 267.5 L497.5 271.2 L497.7 274.8 L497.8 278.4 L497.9 282.1 L498.0 285.7 L498.2 289.3 L498.3 292.8 L498.4 296.4 L498.5 300.0 L498.7 303.5 L498.8 304.8 L498.9 293.1 L499.0 281.4 L499.2 269.8 L499.3 258.2 L499.4 246.7 L499.5 235.2 L499.7 223.8 L499.8 221.9 L499.9 226.5 L500.0 173.8 L500.2 173.8 L500.3 173.7 L500.4 173.6 L500.5 173.6 L500.7 173.5 L500.8 173.4 L500.9 173.4 L501.0 173.3 L501.2 173.2 L501.3 173.2 L501.4 173.1 L501.6 173.0 L501.7 173.0 L501.8 172.9 L501.9 172.8 L502.1 172.8 L502.2 172.7 L502.3 172.6 L502.4 172.6 L502.6 172.5 L502.7 172.5 L502.8 172.5 L502.9 172.5 L503.1 172.5 L503.2 172.5 L503.3 172.5 L503.4 172.5 L503.6 172.5 L503.7 172.5 L503.8 172.5 L503.9 172.5 L504.1 172.5 L504.2 172.5 L504.3 172.5 L504.4 172.5 L504.6 172.5 L504.7 172.5 L504.8 172.5 L504.9 172.6 L505.1 172.6 L505.2 172.6 L505.3 172.6 L505.4 172.6 L505.6 172.6 L505.7 172.6 L505.8 172.6 L505.9 172.6 L506.1 172.6 L506.2 172.6 L506.3 172.6 L506.4 172.6 L506.6 172.6 L506.7 172.6 L506.8 172.6 L506.9 172.6 L507.1 172.6 L507.2 172.6 L507.3 172.6 L507.5 172.6 L507.6 172.6 L507.7 172.6 L507.8 172.6 L508.0 172.6 L508.1 172.6 L508.2 172.6 L508.3 172.6 L508.5 172.6 L508.6 172.6 L508.7 172.6 L508.8 172.6 L509.0 172.6 L509.1 172.6 L509.2 172.6 L509.3 172.6 L509.5 172.6 L509.6 172.7 L509.7 172.7 L509.8 172.7 L510.0 172.7 L510.1 172.7 L510.2 172.7 L510.3 172.7 L510.5 172.7 L510.6 172.7 L510.7 172.7 L510.8 172.7 L511.0 172.7 L511.1 172.7 L511.2 172.7 L511.3 172.7 L511.5 172.7 L511.6 172.7 L511.7 172.7 L511.8 172.7 L512.0 172.7 L512.1 172.7 L512.2 172.7 L512.3 172.7 L512.5 172.7 L512.6 172.7 L512.7 172.7 L512.9 172.7 L513.0 172.7 L513.1 172.7 L513.2 172.7 L513.4 172.7 L513.5 172.7 L513.6 172.7 L513.7 172.7 L513.9 172.7 L514.0 172.7 L514.1 172.7 L514.2 172.7 L514.4 172.8 L514.5 172.8 L514.6 172.8 L514.7 172.8 L514.9 172.8 L515.0 172.8 L515.1 172.8 L515.2 172.8 L515.4 172.8 L515.5 172.8 L515.6 172.8 L515.7 172.8 L515.9 172.9 L516.0 172.9 L516.1 172.9 L516.2 172.9 L516.4 172.9 L516.5 172.9 L516.6 173.0 L516.7 173.0 L516.9 173.0 L517.0 173.0 L517.1 173.0 L517.2 173.0 L517.4 173.0 L517.5 173.1 L517.6 173.1 L517.7 173.1 L517.9 173.1 L518.0 173.1 L518.1 173.1 L518.2 173.2 L518.4 173.2 L518.5 173.2 L518.6 173.2 L518.8 173.2 L518.9 173.2 L519.0 173.2 L519.1 173.3 L519.3 173.3 L519.4 173.3 L519.5 173.3 L519.6 173.3 L519.8 173.3 L519.9 173.3 L520.0 173.4 L520.1 173.4 L520.3 173.4 L520.4 173.4 L520.5 173.4 L520.6 173.4 L520.8 173.5 L520.9 173.5 L521.0 173.5 L521.1 173.5 L521.3 173.5 L521.4 173.5 L521.5 173.5 L521.6 173.6 L521.8 173.6 L521.9 173.6 L522.0 173.6 L522.1 173.6 L522.3 173.6 L522.4 173.7 L522.5 173.7 L522.6 173.7 L522.8 173.7 L522.9 173.7 L523.0 173.7 L523.1 173.7 L523.3 173.8 L523.4 173.8 L523.5 173.8 L523.6 173.8 L523.8 173.8 L523.9 173.8 L524.0 173.9 L524.2 174.0 L524.3 174.0 L524.4 174.1 L524.5 174.2 L524.7 174.2 L524.8 174.3 L524.9 174.4 L525.0 174.4 L525.2 174.5 L525.3 174.6 L525.4 174.6 L525.5 174.7 L525.7 174.8 L525.8 174.8 L525.9 174.9 L526.0 175.0 L526.2 175.0 L526.3 175.1 L526.4 175.2 L526.5 175.2 L526.7 175.3 L526.8 175.4 L526.9 175.4 L527.0 175.5 L527.2 175.6 L527.3 175.6 L527.4 175.7 L527.5 175.8 L527.7 175.8 L527.8 175.9 L527.9 176.0 L528.0 176.1 L528.2 176.1 L528.3 176.2 L528.4 176.3 L528.5 176.3 L528.7 176.4 L528.8 176.5 L528.9 176.5 L529.0 176.8 L529.2 177.1 L529.3 177.3 L529.4 177.6 L529.5 177.9 L529.7 178.1 L529.8 178.4 L529.9 178.7 L530.1 178.9 L530.2 179.2 L530.3 179.5 L530.4 179.7 L530.6 180.0 L530.7 180.3 L530.8 180.5 L530.9 180.8 L531.1 181.1 L531.2 181.3 L531.3 181.6 L531.4 181.9 L531.6 183.4 L531.7 184.9 L531.8 186.5 L531.9 188.0 L532.1 189.5 L532.2 191.1 L532.3 192.6 L532.4 306.5" fill="none" stroke="#22b866" stroke-width="0.75" stroke-linejoin="round"/>
<path d="M320.5 306.5 L320.6 306.5 L320.8 306.5 L320.9 306.5 L321.0 306.5 L321.1 306.5 L321.3 306.5 L321.4 306.5 L321.5 306.5 L321.6 306.5 L321.8 306.5 L321.9 306.5 L322.0 306.5 L322.1 306.5 L322.3 306.5 L322.4 306.5 L322.5 306.5 L322.6 306.5 L322.8 306.5 L322.9 306.5 L323.0 306.5 L323.1 306.5 L323.3 306.5 L323.4 306.5 L323.5 306.5 L323.6 306.5 L323.8 306.5 L323.9 306.5 L324.0 306.5 L324.1 306.5 L324.3 306.5 L324.4 306.5 L324.5 306.5 L324.6 306.5 L324.8 306.5 L324.9 306.5 L325.0 306.5 L325.1 306.5 L325.3 306.5 L325.4 306.5 L325.5 306.5 L325.6 306.5 L325.8 306.5 L325.9 306.5 L326.0 306.5 L326.1 306.5 L326.3 306.5 L326.4 306.5 L326.5 306.5 L326.7 306.5 L326.8 306.5 L326.9 306.5 L327.0 306.5 L327.2 306.5 L327.3 306.5 L327.4 306.5 L327.5 306.5 L327.7 306.5 L327.8 306.5 L327.9 306.5 L328.0 306.5 L328.2 306.5 L328.3 306.5 L328.4 306.5 L328.5 306.5 L328.7 306.5 L328.8 306.5 L328.9 306.5 L329.0 306.5 L329.2 306.5 L329.3 306.5 L329.4 306.5 L329.5 306.5 L329.7 306.5 L329.8 306.5 L329.9 306.5 L330.0 306.5 L330.2 306.5 L330.3 306.5 L330.4 306.5 L330.5 306.5 L330.7 306.5 L330.8 306.5 L330.9 306.5 L331.0 306.5 L331.2 306.5 L331.3 306.5 L331.4 306.5 L331.5 306.5 L331.7 306.5 L331.8 306.5 L331.9 306.5 L332.1 306.5 L332.2 306.5 L332.3 306.5 L332.4 306.5 L332.6 305.2 L332.7 303.8 L332.8 302.5 L332.9 301.1 L333.1 299.8 L333.2 298.5 L333.3 297.1 L333.4 295.8 L333.6 294.4 L333.7 293.1 L333.8 290.5 L333.9 287.9 L334.1 285.4 L334.2 282.8 L334.3 280.2 L334.4 277.6 L334.6 275.1 L334.7 272.5 L334.8 269.9 L334.9 267.3 L335.1 264.8 L335.2 262.2 L335.3 259.6 L335.4 259.8 L335.6 260.0 L335.7 260.3 L335.8 260.5 L335.9 260.7 L336.1 260.9 L336.2 261.2 L336.3 261.4 L336.4 261.6 L336.6 261.8 L336.7 262.1 L336.8 262.3 L336.9 263.3 L337.1 264.2 L337.2 265.2 L337.3 266.2 L337.4 267.2 L337.6 268.2 L337.7 269.2 L337.8 270.1 L338.0 271.1 L338.1 272.1 L338.2 273.1 L338.3 274.1 L338.5 275.1 L338.6 276.0 L338.7 277.0 L338.8 277.9 L339.0 278.7 L339.1 279.6 L339.2 280.4 L339.3 281.3 L339.5 282.1 L339.6 283.0 L339.7 283.8 L339.8 284.7 L340.0 285.5 L340.1 286.4 L340.2 287.2 L340.3 288.1 L340.5 288.9 L340.6 289.8 L340.7 289.6 L340.8 289.5 L341.0 289.3 L341.1 289.2 L341.2 289.1 L341.3 288.9 L341.5 288.8 L341.6 288.7 L341.7 288.5 L341.8 288.4 L342.0 288.3 L342.1 288.1 L342.2 288.0 L342.3 287.9 L342.5 288.4 L342.6 287.3 L342.7 286.2 L342.8 285.1 L343.0 284.0 L343.1 282.9 L343.2 281.7 L343.4 280.6 L343.5 279.5 L343.6 278.4 L343.7 278.7 L343.9 279.1 L344.0 279.6 L344.1 280.0 L344.2 280.4 L344.4 280.9 L344.5 281.3 L344.6 281.7 L344.7 282.2 L344.9 282.6 L345.0 283.0 L345.1 283.5 L345.2 283.9 L345.4 284.3 L345.5 284.8 L345.6 285.2 L345.7 285.6 L345.9 286.0 L346.0 286.5 L346.1 286.9 L346.2 287.3 L346.4 287.8 L346.5 288.2 L346.6 287.9 L346.7 287.0 L346.9 286.1 L347.0 285.1 L347.1 284.2 L347.2 283.3 L347.4 282.3 L347.5 281.4 L347.6 280.5 L347.7 279.5 L347.9 278.9 L348.0 279.3 L348.1 279.7 L348.2 280.0 L348.4 280.4 L348.5 280.7 L348.6 281.1 L348.8 281.5 L348.9 281.8 L349.0 282.2 L349.1 282.5 L349.3 282.9 L349.4 283.3 L349.5 283.6 L349.6 284.0 L349.8 284.4 L349.9 284.7 L350.0 285.1 L350.1 285.4 L350.3 285.8 L350.4 286.2 L350.5 286.5 L350.6 286.9 L350.8 287.3 L350.9 287.6 L351.0 288.0 L351.1 288.4 L351.3 287.4 L351.4 286.2 L351.5 285.0 L351.6 283.9 L351.8 282.7 L351.9 281.5 L352.0 280.3 L352.1 279.1 L352.3 277.9 L352.4 277.0 L352.5 277.5 L352.6 277.9 L352.8 278.4 L352.9 278.8 L353.0 279.3 L353.1 279.7 L353.3 280.2 L353.4 280.7 L353.5 281.1 L353.6 281.6 L353.8 282.0 L353.9 282.5 L354.0 283.0 L354.1 283.4 L354.3 283.9 L354.4 284.3 L354.5 284.8 L354.7 285.3 L354.8 285.7 L354.9 286.2 L355.0 286.7 L355.2 287.1 L355.3 287.6 L355.4 288.1 L355.5 288.1 L355.7 286.9 L355.8 285.6 L355.9 284.4 L356.0 283.1 L356.2 281.9 L356.3 280.6 L356.4 279.4 L356.5 278.1 L356.7 276.9 L356.8 275.7 L356.9 276.2 L357.0 276.7 L357.2 277.2 L357.3 277.7 L357.4 278.1 L357.5 278.6 L357.7 279.1 L357.8 279.6 L357.9 280.1 L358.0 280.6 L358.2 281.0 L358.3 281.5 L358.4 282.0 L358.5 282.5 L358.7 283.0 L358.8 283.5 L358.9 284.0 L359.0 284.4 L359.2 284.9 L359.3 285.4 L359.4 285.9 L359.5 286.4 L359.7 286.9 L359.8 287.4 L359.9 287.9 L360.1 288.4 L360.2 287.4 L360.3 286.3 L360.4 285.2 L360.6 284.1 L360.7 283.0 L360.8 281.9 L360.9 280.8 L361.1 279.7 L361.2 278.6 L361.3 277.5 L361.4 276.9 L361.6 277.3 L361.7 277.7 L361.8 278.1 L361.9 278.6 L362.1 279.0 L362.2 279.4 L362.3 279.8 L362.4 280.3 L362.6 280.7 L362.7 281.1 L362.8 281.5 L362.9 282.0 L363.1 282.4 L363.2 282.8 L363.3 283.2 L363.4 283.7 L363.6 284.1 L363.7 284.5 L363.8 285.0 L363.9 285.4 L364.1 285.8 L364.2 286.3 L364.3 286.7 L364.4 287.1 L364.6 287.6 L364.7 288.0 L364.8 288.4 L364.9 287.2 L365.1 285.9 L365.2 284.7 L365.3 283.5 L365.4 282.2 L365.6 281.0 L365.7 279.8 L365.8 278.6 L366.0 277.3 L366.1 276.4 L366.2 276.8 L366.3 277.3 L366.5 277.8 L366.6 278.3 L366.7 278.7 L366.8 279.2 L367.0 279.7 L367.1 280.2 L367.2 280.6 L367.3 281.1 L367.5 281.6 L367.6 282.1 L367.7 282.5 L367.8 283.0 L368.0 283.5 L368.1 284.0 L368.2 284.5 L368.3 284.9 L368.5 285.4 L368.6 285.9 L368.7 286.4 L368.8 286.9 L369.0 287.3 L369.1 287.8 L369.2 288.3 L369.3 287.6 L369.5 286.5 L369.6 285.5 L369.7 284.4 L369.8 283.4 L370.0 282.3 L370.1 281.3 L370.2 280.2 L370.3 279.2 L370.5 278.1 L370.6 278.5 L370.7 278.9 L370.8 279.3 L371.0 279.7 L371.1 280.1 L371.2 280.5 L371.4 280.9 L371.5 281.3 L371.6 281.7 L371.7 282.2 L371.9 282.6 L372.0 283.0 L372.1 283.4 L372.2 283.8 L372.4 284.2 L372.5 284.6 L372.6 285.0 L372.7 285.4 L372.9 285.8 L373.0 286.3 L373.1 286.7 L373.2 287.1 L373.4 287.5 L373.5 287.9 L373.6 288.3 L373.7 287.3 L373.9 286.0 L374.0 284.6 L374.1 283.2 L374.2 281.8 L374.4 280.5 L374.5 279.1 L374.6 277.7 L374.7 276.3 L374.9 276.3 L375.0 276.8 L375.1 277.3 L375.2 277.9 L375.4 278.4 L375.5 278.9 L375.6 279.5 L375.7 280.0 L375.9 280.5 L376.0 281.1 L376.1 281.6 L376.2 282.1 L376.4 282.7 L376.5 283.2 L376.6 283.8 L376.7 284.3 L376.9 284.8 L377.0 285.4 L377.1 285.9 L377.3 286.4 L377.4 287.0 L377.5 287.5 L377.6 288.1 L377.8 287.9 L377.9 286.3 L378.0 284.8 L378.1 283.2 L378.3 281.7 L378.4 280.1 L378.5 278.5 L378.6 277.0 L378.8 275.4 L378.9 273.9 L379.0 274.3 L379.1 274.9 L379.3 275.5 L379.4 276.1 L379.5 276.7 L379.6 277.3 L379.8 277.9 L379.9 278.5 L380.0 279.1 L380.1 279.7 L380.3 280.4 L380.4 281.0 L380.5 281.6 L380.6 282.2 L380.8 282.8 L380.9 283.4 L381.0 284.0 L381.1 284.6 L381.3 285.2 L381.4 285.8 L381.5 286.4 L381.6 287.0 L381.8 287.6 L381.9 288.3 L382.0 287.3 L382.1 285.8 L382.3 284.4 L382.4 282.9 L382.5 281.4 L382.6 280.0 L382.8 278.5 L382.9 277.0 L383.0 275.5 L383.2 274.0 L383.3 274.5 L383.4 275.1 L383.5 275.6 L383.7 276.2 L383.8 276.8 L383.9 277.3 L384.0 277.9 L384.2 278.5 L384.3 279.1 L384.4 279.6 L384.5 280.2 L384.7 280.8 L384.8 281.3 L384.9 281.9 L385.0 282.5 L385.2 283.1 L385.3 283.6 L385.4 284.2 L385.5 284.8 L385.7 285.4 L385.8 285.9 L385.9 286.5 L386.0 287.1 L386.2 287.7 L386.3 288.3 L386.4 287.4 L386.5 286.0 L386.7 284.6 L386.8 283.2 L386.9 281.8 L387.0 280.4 L387.2 279.0 L387.3 277.6 L387.4 276.2 L387.5 274.8 L387.7 274.6 L387.8 275.2 L387.9 275.7 L388.0 276.3 L388.2 276.8 L388.3 277.3 L388.4 277.9 L388.6 278.4 L388.7 279.0 L388.8 279.5 L388.9 280.0 L389.1 280.6 L389.2 281.1 L389.3 281.7 L389.4 282.2 L389.6 282.8 L389.7 283.3 L389.8 283.8 L389.9 284.4 L390.1 284.9 L390.2 285.5 L390.3 286.0 L390.4 286.6 L390.6 287.1 L390.7 287.7 L390.8 288.2 L390.9 287.7 L391.1 286.6 L391.2 285.4 L391.3 284.3 L391.4 283.2 L391.6 282.1 L391.7 281.0 L391.8 279.9 L391.9 278.7 L392.1 277.6 L392.2 277.1 L392.3 277.5 L392.4 277.9 L392.6 278.3 L392.7 278.8 L392.8 279.2 L392.9 279.6 L393.1 280.1 L393.2 280.5 L393.3 280.9 L393.4 281.4 L393.6 281.8 L393.7 282.2 L393.8 282.7 L393.9 283.1 L394.1 283.5 L394.2 284.0 L394.3 284.4 L394.5 284.8 L394.6 285.3 L394.7 285.7 L394.8 286.2 L395.0 286.6 L395.1 287.0 L395.2 287.5 L395.3 287.9 L395.5 288.3 L395.6 287.1 L395.7 285.5 L395.8 283.9 L396.0 282.3 L396.1 280.7 L396.2 279.1 L396.3 277.5 L396.5 275.9 L396.6 274.3 L396.7 273.3 L396.8 273.9 L397.0 274.5 L397.1 275.1 L397.2 275.7 L397.3 276.4 L397.5 277.0 L397.6 277.6 L397.7 278.2 L397.8 278.8 L398.0 279.4 L398.1 280.1 L398.2 280.7 L398.3 281.3 L398.5 281.9 L398.6 282.5 L398.7 283.2 L398.8 283.8 L399.0 284.4 L399.1 285.0 L399.2 285.6 L399.3 286.3 L399.5 286.9 L399.6 287.5 L399.7 288.1 L399.9 287.5 L400.0 285.8 L400.1 284.1 L400.2 282.4 L400.4 280.7 L400.5 279.0 L400.6 277.3 L400.7 275.7 L400.9 274.0 L401.0 273.4 L401.1 274.1 L401.2 274.7 L401.4 275.4 L401.5 276.0 L401.6 276.7 L401.7 277.3 L401.9 278.0 L402.0 278.6 L402.1 279.3 L402.2 280.0 L402.4 280.6 L402.5 281.3 L402.6 281.9 L402.7 282.6 L402.9 283.2 L403.0 283.9 L403.1 284.6 L403.2 285.2 L403.4 285.9 L403.5 286.5 L403.6 287.2 L403.7 287.9 L403.9 288.2 L404.0 286.9 L404.1 285.6 L404.2 284.3 L404.4 283.0 L404.5 281.7 L404.6 280.4 L404.7 279.1 L404.9 277.8 L405.0 276.5 L405.1 276.5 L405.2 277.0 L405.4 277.5 L405.5 278.0 L405.6 278.5 L405.8 279.0 L405.9 279.5 L406.0 280.0 L406.1 280.5 L406.3 281.0 L406.4 281.5 L406.5 282.0 L406.6 282.6 L406.8 283.1 L406.9 283.6 L407.0 284.1 L407.1 284.6 L407.3 285.1 L407.4 285.6 L407.5 286.1 L407.6 286.6 L407.8 287.1 L407.9 287.6 L408.0 288.1 L408.1 287.8 L408.3 286.4 L408.4 285.0 L408.5 283.6 L408.6 282.2 L408.8 280.8 L408.9 279.4 L409.0 278.0 L409.1 276.6 L409.3 275.3 L409.4 273.8 L409.5 274.3 L409.6 274.8 L409.8 275.4 L409.9 275.9 L410.0 276.4 L410.1 277.0 L410.3 277.5 L410.4 278.1 L410.5 278.6 L410.6 279.1 L410.8 279.7 L410.9 280.2 L411.0 280.8 L411.2 281.3 L411.3 281.9 L411.4 282.4 L411.5 282.9 L411.7 283.5 L411.8 284.0 L411.9 284.6 L412.0 285.1 L412.2 285.7 L412.3 286.2 L412.4 286.8 L412.5 287.3 L412.7 287.9 L412.8 288.4 L412.9 287.2 L413.0 285.9 L413.2 284.6 L413.3 283.4 L413.4 282.1 L413.5 280.8 L413.7 279.5 L413.8 278.2 L413.9 277.0 L414.0 276.9 L414.2 277.3 L414.3 277.8 L414.4 278.3 L414.5 278.8 L414.7 279.3 L414.8 279.8 L414.9 280.3 L415.0 280.8 L415.2 281.3 L415.3 281.8 L415.4 282.3 L415.5 282.8 L415.7 283.3 L415.8 283.8 L415.9 284.3 L416.0 284.8 L416.2 285.3 L416.3 285.8 L416.4 286.3 L416.6 286.8 L416.7 287.3 L416.8 287.8 L416.9 288.3 L417.1 287.5 L417.2 286.2 L417.3 285.0 L417.4 283.7 L417.6 282.4 L417.7 281.1 L417.8 279.8 L417.9 278.5 L418.1 277.2 L418.2 275.9 L418.3 276.4 L418.4 276.9 L418.6 277.4 L418.7 277.9 L418.8 278.4 L418.9 278.9 L419.1 279.4 L419.2 279.9 L419.3 280.4 L419.4 280.9 L419.6 281.4 L419.7 281.9 L419.8 282.4 L419.9 282.9 L420.1 283.4 L420.2 283.9 L420.3 284.4 L420.4 284.9 L420.6 285.4 L420.7 285.9 L420.8 286.4 L420.9 286.9 L421.1 287.4 L421.2 287.9 L421.3 288.4 L421.4 287.1 L421.6 285.8 L421.7 284.5 L421.8 283.2 L421.9 281.9 L422.1 280.6 L422.2 279.3 L422.3 277.9 L422.5 276.6 L422.6 275.3 L422.7 274.8 L422.8 275.3 L423.0 275.8 L423.1 276.3 L423.2 276.8 L423.3 277.3 L423.5 277.8 L423.6 278.3 L423.7 278.8 L423.8 279.3 L424.0 279.8 L424.1 280.3 L424.2 280.8 L424.3 281.3 L424.5 281.8 L424.6 282.3 L424.7 282.8 L424.8 283.4 L425.0 283.9 L425.1 284.4 L425.2 284.9 L425.3 285.4 L425.5 286.0 L425.6 286.5 L425.7 287.0 L425.8 287.6 L426.0 288.1 L426.1 287.8 L426.2 286.3 L426.3 284.8 L426.5 283.3 L426.6 281.7 L426.7 280.2 L426.8 278.7 L427.0 277.1 L427.1 275.6 L427.2 274.9 L427.3 275.4 L427.5 276.0 L427.6 276.6 L427.7 277.2 L427.9 277.8 L428.0 278.4 L428.1 278.9 L428.2 279.5 L428.4 280.1 L428.5 280.7 L428.6 281.3 L428.7 281.9 L428.9 282.5 L429.0 283.1 L429.1 283.7 L429.2 284.3 L429.4 284.9 L429.5 285.5 L429.6 286.1 L429.7 286.7 L429.9 287.3 L430.0 287.9 L430.1 288.0 L430.2 286.2 L430.4 284.4 L430.5 282.7 L430.6 280.9 L430.7 279.1 L430.9 277.3 L431.0 275.6 L431.1 273.8 L431.2 272.0 L431.4 270.9 L431.5 271.5 L431.6 272.2 L431.7 272.9 L431.9 273.5 L432.0 274.2 L432.1 274.9 L432.2 275.6 L432.4 276.3 L432.5 276.9 L432.6 277.6 L432.7 278.3 L432.9 279.0 L433.0 279.7 L433.1 280.4 L433.2 281.1 L433.4 281.8 L433.5 282.5 L433.6 283.2 L433.8 283.9 L433.9 284.6 L434.0 285.3 L434.1 286.0 L434.3 286.7 L434.4 287.4 L434.5 288.2 L434.6 287.3 L434.8 285.5 L434.9 283.7 L435.0 281.9 L435.1 280.1 L435.3 278.3 L435.4 276.5 L435.5 274.7 L435.6 272.9 L435.8 271.1 L435.9 269.5 L436.0 270.2 L436.1 270.9 L436.3 271.5 L436.4 272.2 L436.5 272.9 L436.6 273.6 L436.8 274.3 L436.9 275.0 L437.0 275.7 L437.1 276.3 L437.3 277.0 L437.4 277.7 L437.5 278.4 L437.6 279.1 L437.8 279.8 L437.9 280.5 L438.0 281.2 L438.1 281.9 L438.3 282.6 L438.4 283.4 L438.5 284.1 L438.6 284.8 L438.8 285.5 L438.9 286.2 L439.0 286.9 L439.1 287.6 L439.3 288.4 L439.4 286.7 L439.5 284.9 L439.7 283.1 L439.8 281.3 L439.9 279.5 L440.0 277.7 L440.2 275.8 L440.3 274.0 L440.4 272.2 L440.5 271.9 L440.7 272.5 L440.8 273.2 L440.9 273.9 L441.0 274.6 L441.2 275.3 L441.3 276.0 L441.4 276.7 L441.5 277.4 L441.7 278.1 L441.8 278.8 L441.9 279.5 L442.0 280.2 L442.2 280.9 L442.3 281.6 L442.4 282.3 L442.5 283.1 L442.7 283.8 L442.8 284.5 L442.9 285.2 L443.0 285.9 L443.2 286.6 L443.3 287.4 L443.4 288.1 L443.5 287.4 L443.7 285.7 L443.8 283.9 L443.9 282.1 L444.0 280.4 L444.2 278.6 L444.3 276.8 L444.4 275.0 L444.5 273.3 L444.7 271.5 L444.8 271.4 L444.9 272.0 L445.1 272.7 L445.2 273.4 L445.3 274.0 L445.4 274.7 L445.6 275.4 L445.7 276.1 L445.8 276.8 L445.9 277.4 L446.1 278.1 L446.2 278.8 L446.3 279.5 L446.4 280.2 L446.6 280.9 L446.7 281.6 L446.8 282.3 L446.9 283.0 L447.1 283.7 L447.2 284.4 L447.3 285.1 L447.4 285.8 L447.6 286.5 L447.7 287.2 L447.8 287.9 L447.9 288.0 L448.1 286.4 L448.2 284.8 L448.3 283.2 L448.4 281.6 L448.6 280.0 L448.7 278.4 L448.8 276.8 L448.9 275.2 L449.1 273.6 L449.2 271.9 L449.3 272.1 L449.4 272.7 L449.6 273.3 L449.7 273.9 L449.8 274.5 L449.9 275.1 L450.1 275.7 L450.2 276.4 L450.3 277.0 L450.4 277.6 L450.6 278.2 L450.7 278.8 L450.8 279.5 L451.0 280.1 L451.1 280.7 L451.2 281.3 L451.3 282.0 L451.5 282.6 L451.6 283.2 L451.7 283.8 L451.8 284.5 L452.0 285.1 L452.1 285.7 L452.2 286.4 L452.3 287.0 L452.5 287.7 L452.6 288.3 L452.7 286.9 L452.8 285.0 L453.0 283.2 L453.1 281.3 L453.2 279.4 L453.3 277.5 L453.5 275.7 L453.6 273.8 L453.7 271.9 L453.8 271.6 L454.0 272.4 L454.1 273.1 L454.2 273.8 L454.3 274.5 L454.5 275.2 L454.6 276.0 L454.7 276.7 L454.8 277.4 L455.0 278.1 L455.1 278.9 L455.2 279.6 L455.3 280.3 L455.5 281.0 L455.6 281.8 L455.7 282.5 L455.8 283.2 L456.0 284.0 L456.1 284.7 L456.2 285.5 L456.4 286.2 L456.5 286.9 L456.6 287.7 L456.7 288.4 L456.9 286.1 L457.0 283.9 L457.1 281.6 L457.2 279.4 L457.4 277.1 L457.5 274.9 L457.6 272.6 L457.7 270.4 L457.9 268.1 L458.0 266.4 L458.1 267.2 L458.2 268.1 L458.4 269.0 L458.5 269.8 L458.6 270.7 L458.7 271.5 L458.9 272.4 L459.0 273.3 L459.1 274.2 L459.2 275.0 L459.4 275.9 L459.5 276.8 L459.6 277.7 L459.7 278.5 L459.9 279.4 L460.0 280.3 L460.1 281.2 L460.2 282.1 L460.4 282.9 L460.5 283.8 L460.6 284.7 L460.7 285.6 L460.9 286.5 L461.0 287.4 L461.1 288.3 L461.2 286.5 L461.4 284.4 L461.5 282.2 L461.6 280.1 L461.8 277.9 L461.9 275.8 L462.0 273.6 L462.1 271.4 L462.3 269.3 L462.4 267.1 L462.5 266.9 L462.6 267.7 L462.8 268.5 L462.9 269.3 L463.0 270.2 L463.1 271.0 L463.3 271.8 L463.4 272.7 L463.5 273.5 L463.6 274.3 L463.8 275.2 L463.9 276.0 L464.0 276.8 L464.1 277.7 L464.3 278.5 L464.4 279.4 L464.5 280.2 L464.6 281.1 L464.8 281.9 L464.9 282.7 L465.0 283.6 L465.1 284.4 L465.3 285.3 L465.4 286.2 L465.5 287.0 L465.6 287.9 L465.8 287.7 L465.9 285.9 L466.0 284.0 L466.1 282.2 L466.3 280.3 L466.4 278.5 L466.5 276.6 L466.6 274.8 L466.8 272.9 L466.9 271.0 L467.0 269.9 L467.1 270.6 L467.3 271.3 L467.4 272.0 L467.5 272.7 L467.7 273.5 L467.8 274.2 L467.9 274.9 L468.0 275.6 L468.2 276.3 L468.3 277.0 L468.4 277.7 L468.5 278.5 L468.7 279.2 L468.8 279.9 L468.9 280.6 L469.0 281.4 L469.2 282.1 L469.3 282.8 L469.4 283.5 L469.5 284.3 L469.7 285.0 L469.8 285.7 L469.9 286.5 L470.0 287.2 L470.2 287.9 L470.3 287.6 L470.4 285.3 L470.5 283.0 L470.7 280.7 L470.8 278.4 L470.9 276.0 L471.0 273.7 L471.2 271.4 L471.3 269.1 L471.4 266.7 L471.5 266.3 L471.7 267.2 L471.8 268.1 L471.9 268.9 L472.0 269.8 L472.2 270.7 L472.3 271.6 L472.4 272.5 L472.5 273.4 L472.7 274.2 L472.8 275.1 L472.9 276.0 L473.1 276.9 L473.2 277.8 L473.3 278.7 L473.4 279.7 L473.6 280.6 L473.7 281.5 L473.8 282.4 L473.9 283.3 L474.1 284.3 L474.2 285.2 L474.3 286.1 L474.4 287.1 L474.6 288.0 L474.7 287.0 L474.8 284.6 L474.9 282.1 L475.1 279.6 L475.2 277.1 L475.3 274.6 L475.4 272.1 L475.6 269.5 L475.7 267.0 L475.8 265.3 L475.9 266.3 L476.1 267.2 L476.2 268.2 L476.3 269.1 L476.4 270.1 L476.6 271.0 L476.7 272.0 L476.8 272.9 L476.9 273.9 L477.1 274.9 L477.2 275.8 L477.3 276.8 L477.4 277.8 L477.6 278.8 L477.7 279.7 L477.8 280.7 L477.9 281.7 L478.1 282.7 L478.2 283.7 L478.3 284.7 L478.4 285.7 L478.6 286.7 L478.7 287.7 L478.8 287.5 L479.0 284.6 L479.1 281.7 L479.2 278.8 L479.3 275.9 L479.5 273.0 L479.6 270.1 L479.7 267.2 L479.8 264.2 L480.0 261.3 L480.1 260.5 L480.2 261.6 L480.3 262.7 L480.5 263.8 L480.6 264.9 L480.7 266.0 L480.8 267.1 L481.0 268.2 L481.1 269.4 L481.2 270.5 L481.3 271.3 L481.5 272.3 L481.6 273.4 L481.7 274.6 L481.8 275.9 L482.0 277.3 L482.1 278.9 L482.2 280.6 L482.3 282.4 L482.5 284.3 L482.6 286.3 L482.7 288.5 L482.8 290.8 L483.0 293.2 L483.1 295.7 L483.2 295.5 L483.3 290.5 L483.5 285.3 L483.6 279.7 L483.7 273.8 L483.8 267.5 L484.0 260.9 L484.1 253.8 L484.2 246.4 L484.4 238.6 L484.5 238.2 L484.6 239.9 L484.7 241.8 L484.9 243.8 L485.0 246.0 L485.1 248.2 L485.2 250.4 L485.4 252.8 L485.5 255.2 L485.6 257.8 L485.7 260.4 L485.9 263.1 L486.0 266.0 L486.1 268.9 L486.2 271.9 L486.4 275.6 L486.5 279.2 L486.6 282.8 L486.7 286.4 L486.9 289.9 L487.0 293.4 L487.1 296.8 L487.2 300.3 L487.4 303.6 L487.5 305.1 L487.6 295.8 L487.7 286.5 L487.9 277.4 L488.0 268.3 L488.1 259.4 L488.2 250.6 L488.4 241.8 L488.5 233.2 L488.6 233.9 L488.7 237.8 L488.9 241.7 L489.0 245.5 L489.1 249.2 L489.2 252.9 L489.4 256.6 L489.5 260.2 L489.6 263.8 L489.7 267.4 L489.9 270.9 L490.0 274.4 L490.1 277.7 L490.3 281.0 L490.4 284.3 L490.5 287.5 L490.6 290.8 L490.8 294.0 L490.9 297.3 L491.0 300.5 L491.1 303.7 L491.3 305.2 L491.4 296.1 L491.5 287.1 L491.6 278.2 L491.8 269.2 L491.9 260.2 L492.0 251.3 L492.1 242.4 L492.3 240.8 L492.4 244.4 L492.5 248.0 L492.6 251.5 L492.8 255.0 L492.9 258.6 L493.0 262.1 L493.1 265.6 L493.3 269.1 L493.4 272.6 L493.5 276.1 L493.6 279.5 L493.8 283.0 L493.9 286.2 L494.0 289.4 L494.1 292.8 L494.3 296.2 L494.4 299.7 L494.5 303.3 L494.6 304.9 L494.8 293.8 L494.9 282.5 L495.0 270.8 L495.1 259.0 L495.3 246.8 L495.4 234.4 L495.5 221.7 L495.6 218.5 L495.8 222.2 L495.9 226.1 L496.0 230.0 L496.2 234.0 L496.3 238.2 L496.4 243.3 L496.5 248.3 L496.7 253.3 L496.8 258.3 L496.9 263.3 L497.0 268.2 L497.2 273.2 L497.3 278.1 L497.4 283.0 L497.5 287.9 L497.7 292.7 L497.8 297.6 L497.9 302.4 L498.0 304.7 L498.2 292.3 L498.3 279.9 L498.4 267.6 L498.5 255.3 L498.7 243.1 L498.8 230.9 L498.9 218.8 L499.0 216.7 L499.2 221.6 L499.3 226.6 L499.4 231.5 L499.5 236.3 L499.7 241.2 L499.8 246.0 L499.9 250.9 L500.0 173.8 L500.2 173.8 L500.3 173.7 L500.4 173.6 L500.5 173.6 L500.7 173.5 L500.8 173.4 L500.9 173.4 L501.0 173.3 L501.2 173.2 L501.3 173.2 L501.4 173.1 L501.6 173.0 L501.7 173.0 L501.8 172.9 L501.9 172.8 L502.1 172.8 L502.2 172.7 L502.3 172.6 L502.4 172.6 L502.6 172.5 L502.7 172.5 L502.8 172.5 L502.9 172.5 L503.1 172.5 L503.2 172.5 L503.3 172.5 L503.4 172.5 L503.6 172.5 L503.7 172.5 L503.8 172.5 L503.9 172.5 L504.1 172.5 L504.2 172.5 L504.3 172.5 L504.4 172.5 L504.6 172.5 L504.7 172.5 L504.8 172.5 L504.9 172.6 L505.1 172.6 L505.2 172.6 L505.3 172.6 L505.4 172.6 L505.6 172.6 L505.7 172.6 L505.8 172.6 L505.9 172.6 L506.1 172.6 L506.2 172.6 L506.3 172.6 L506.4 172.6 L506.6 172.6 L506.7 172.6 L506.8 172.6 L506.9 172.6 L507.1 172.6 L507.2 172.6 L507.3 172.6 L507.5 172.6 L507.6 172.6 L507.7 172.6 L507.8 172.6 L508.0 172.6 L508.1 172.6 L508.2 172.6 L508.3 172.6 L508.5 172.6 L508.6 172.6 L508.7 172.6 L508.8 172.6 L509.0 172.6 L509.1 172.6 L509.2 172.6 L509.3 172.6 L509.5 172.6 L509.6 172.7 L509.7 172.7 L509.8 172.7 L510.0 172.7 L510.1 172.7 L510.2 172.7 L510.3 172.7 L510.5 172.7 L510.6 172.7 L510.7 172.7 L510.8 172.7 L511.0 172.7 L511.1 172.7 L511.2 172.7 L511.3 172.7 L511.5 172.7 L511.6 172.7 L511.7 172.7 L511.8 172.7 L512.0 172.7 L512.1 172.7 L512.2 172.7 L512.3 172.7 L512.5 172.7 L512.6 172.7 L512.7 172.7 L512.9 172.7 L513.0 172.7 L513.1 172.7 L513.2 172.7 L513.4 172.7 L513.5 172.7 L513.6 172.7 L513.7 172.7 L513.9 172.7 L514.0 172.7 L514.1 172.7 L514.2 172.7 L514.4 172.8 L514.5 172.8 L514.6 172.8 L514.7 172.8 L514.9 172.8 L515.0 172.8 L515.1 172.8 L515.2 172.8 L515.4 172.8 L515.5 172.8 L515.6 172.8 L515.7 172.8 L515.9 172.9 L516.0 172.9 L516.1 172.9 L516.2 172.9 L516.4 172.9 L516.5 172.9 L516.6 173.0 L516.7 173.0 L516.9 173.0 L517.0 173.0 L517.1 173.0 L517.2 173.0 L517.4 173.0 L517.5 173.1 L517.6 173.1 L517.7 173.1 L517.9 173.1 L518.0 173.1 L518.1 173.1 L518.2 173.2 L518.4 173.2 L518.5 173.2 L518.6 173.2 L518.8 173.2 L518.9 173.2 L519.0 173.2 L519.1 173.3 L519.3 173.3 L519.4 173.3 L519.5 173.3 L519.6 173.3 L519.8 173.3 L519.9 173.3 L520.0 173.4 L520.1 173.4 L520.3 173.4 L520.4 173.4 L520.5 173.4 L520.6 173.4 L520.8 173.5 L520.9 173.5 L521.0 173.5 L521.1 173.5 L521.3 173.5 L521.4 173.5 L521.5 173.5 L521.6 173.6 L521.8 173.6 L521.9 173.6 L522.0 173.6 L522.1 173.6 L522.3 173.6 L522.4 173.7 L522.5 173.7 L522.6 173.7 L522.8 173.7 L522.9 173.7 L523.0 173.7 L523.1 173.7 L523.3 173.8 L523.4 173.8 L523.5 173.8 L523.6 173.8 L523.8 173.8 L523.9 173.8 L524.0 173.9 L524.2 174.0 L524.3 174.0 L524.4 174.1 L524.5 174.2 L524.7 174.2 L524.8 174.3 L524.9 174.4 L525.0 174.4 L525.2 174.5 L525.3 174.6 L525.4 174.6 L525.5 174.7 L525.7 174.8 L525.8 174.8 L525.9 174.9 L526.0 175.0 L526.2 175.0 L526.3 175.1 L526.4 175.2 L526.5 175.2 L526.7 175.3 L526.8 175.4 L526.9 175.4 L527.0 175.5 L527.2 175.6 L527.3 175.6 L527.4 175.7 L527.5 175.8 L527.7 175.8 L527.8 175.9 L527.9 176.0 L528.0 176.1 L528.2 176.1 L528.3 176.2 L528.4 176.3 L528.5 176.3 L528.7 176.4 L528.8 176.5 L528.9 176.5 L529.0 176.8 L529.2 177.1 L529.3 177.3 L529.4 177.6 L529.5 177.9 L529.7 178.1 L529.8 178.4 L529.9 178.7 L530.1 178.9 L530.2 179.2 L530.3 179.5 L530.4 179.7 L530.6 180.0 L530.7 180.3 L530.8 180.5 L530.9 180.8 L531.1 181.1 L531.2 181.3 L531.3 181.6 L531.4 181.9 L531.6 183.4 L531.7 184.9 L531.8 186.5 L531.9 188.0 L532.1 189.5 L532.2 191.1 L532.3 192.6 L532.4 306.5" fill="none" stroke="#f23030" stroke-width="0.85" stroke-linejoin="round"/>
<path d="M532.3 185.9 L532.4 306.5" fill="none" stroke="#f23030" stroke-width="0.9" />
<line x1="345.6" y1="306.5" x2="345.6" y2="304.3" stroke="#929292" stroke-width="0.6" />
<line x1="345.6" y1="172.5" x2="345.6" y2="174.7" stroke="#929292" stroke-width="0.6" />
<line x1="370.7" y1="306.5" x2="370.7" y2="304.3" stroke="#929292" stroke-width="0.6" />
<line x1="370.7" y1="172.5" x2="370.7" y2="174.7" stroke="#929292" stroke-width="0.6" />
<line x1="395.8" y1="306.5" x2="395.8" y2="304.3" stroke="#929292" stroke-width="0.6" />
<line x1="395.8" y1="172.5" x2="395.8" y2="174.7" stroke="#929292" stroke-width="0.6" />
<line x1="420.9" y1="306.5" x2="420.9" y2="304.3" stroke="#929292" stroke-width="0.6" />
<line x1="420.9" y1="172.5" x2="420.9" y2="174.7" stroke="#929292" stroke-width="0.6" />
<line x1="446.1" y1="306.5" x2="446.1" y2="304.3" stroke="#929292" stroke-width="0.6" />
<line x1="446.1" y1="172.5" x2="446.1" y2="174.7" stroke="#929292" stroke-width="0.6" />
<line x1="471.2" y1="306.5" x2="471.2" y2="304.3" stroke="#929292" stroke-width="0.6" />
<line x1="471.2" y1="172.5" x2="471.2" y2="174.7" stroke="#929292" stroke-width="0.6" />
<line x1="496.3" y1="306.5" x2="496.3" y2="304.3" stroke="#929292" stroke-width="0.6" />
<line x1="496.3" y1="172.5" x2="496.3" y2="174.7" stroke="#929292" stroke-width="0.6" />
<line x1="521.4" y1="306.5" x2="521.4" y2="304.3" stroke="#929292" stroke-width="0.6" />
<line x1="521.4" y1="172.5" x2="521.4" y2="174.7" stroke="#929292" stroke-width="0.6" />
<line x1="320.5" y1="279.7" x2="322.7" y2="279.7" stroke="#929292" stroke-width="0.6" />
<line x1="320.5" y1="252.9" x2="322.7" y2="252.9" stroke="#929292" stroke-width="0.6" />
<line x1="320.5" y1="226.1" x2="322.7" y2="226.1" stroke="#929292" stroke-width="0.6" />
<line x1="320.5" y1="199.3" x2="322.7" y2="199.3" stroke="#929292" stroke-width="0.6" />
<line x1="546.5" y1="279.7" x2="544.3" y2="279.7" stroke="#929292" stroke-width="0.6" />
<line x1="546.5" y1="252.9" x2="544.3" y2="252.9" stroke="#929292" stroke-width="0.6" />
<line x1="546.5" y1="226.1" x2="544.3" y2="226.1" stroke="#929292" stroke-width="0.6" />
<line x1="546.5" y1="199.3" x2="544.3" y2="199.3" stroke="#929292" stroke-width="0.6" />
<line x1="320.5" y1="172.5" x2="546.5" y2="172.5" stroke="#929292" stroke-width="1.0" />
<line x1="320.5" y1="306.5" x2="546.5" y2="306.5" stroke="#929292" stroke-width="1.0" />
<line x1="320.5" y1="172.5" x2="320.5" y2="306.5" stroke="#929292" stroke-width="1.0" />
<line x1="546.5" y1="172.5" x2="546.5" y2="306.5" stroke="#929292" stroke-width="1.0" />
<ellipse cx="417" cy="210.4" rx="34.8" ry="31.4" fill="#fff" stroke="#777" stroke-width="0.6" stroke-dasharray="1 1"/>
<ellipse cx="436.5" cy="273.7" rx="19" ry="17.5" fill="none" stroke="#777" stroke-width="0.6" stroke-dasharray="1 1"/>
<line x1="424.9" y1="241.3" x2="432.1" y2="256.8" stroke="#777" stroke-width="0.6" />
<path d="M390.5 230.7 L393.5 208.3 L397.4 236.1 L400.5 201.4 L405.1 213.7 L407.5 180.0 L413.6 241.6 L415.5 214.5 L419.0 236.9 L421.4 202.9 L428.3 235.4 L430.6 208.3 L435.3 236.1 L437.6 208.3 L440.7 233.8 L443.8 208.3 L447.3 224.6" fill="none" stroke="#3dcc8c" stroke-width="0.9" stroke-linejoin="round"/>
<path d="M390.5 231.5 L392.5 204.0 L398.2 232.3 L400.5 210.6 L405.1 235.4 L406.7 206.0 L411.3 235.4 L412.9 210.6 L416.0 223.0 L418.3 236.9 L419.8 202.1 L424.5 235.4 L426.5 207.2 L431.4 236.1 L433.7 198.3 L438.4 235.4 L441.2 202.6 L443.8 229.2" fill="none" stroke="#f4602a" stroke-width="0.9" stroke-linejoin="round"/>
<line x1="341.0" y1="246.6" x2="334.6" y2="260.3" stroke="#777" stroke-width="0.6" />
<line x1="364.6" y1="259.7" x2="349.1" y2="275.1" stroke="#777" stroke-width="0.6" />
<text font-size="8.5" fill="#262626" stroke="#262626" stroke-width="0.1" text-anchor="end" transform="translate(317.9 282.6) scale(0.960 1)">0.2</text>
<text font-size="8.5" fill="#262626" stroke="#262626" stroke-width="0.1" text-anchor="end" transform="translate(317.9 255.8) scale(0.960 1)">0.4</text>
<text font-size="8.5" fill="#262626" stroke="#262626" stroke-width="0.1" text-anchor="end" transform="translate(317.9 229.0) scale(0.960 1)">0.6</text>
<text font-size="8.5" fill="#262626" stroke="#262626" stroke-width="0.1" text-anchor="end" transform="translate(317.9 202.2) scale(0.960 1)">0.8</text>
<text font-size="8.5" fill="#262626" stroke="#262626" stroke-width="0.1" text-anchor="end" transform="translate(317.9 175.4) scale(0.847 1)">1</text>
<text font-size="8.8" fill="#262626" stroke="#262626" stroke-width="0.1" text-anchor="middle" transform="translate(320.5 315.4) scale(1.080 1)">0</text>
<text font-size="8.8" fill="#262626" stroke="#262626" stroke-width="0.1" text-anchor="middle" transform="translate(345.6 315.4) scale(1.080 1)">2</text>
<text font-size="8.8" fill="#262626" stroke="#262626" stroke-width="0.1" text-anchor="middle" transform="translate(370.7 315.4) scale(1.080 1)">4</text>
<text font-size="8.8" fill="#262626" stroke="#262626" stroke-width="0.1" text-anchor="middle" transform="translate(395.8 315.4) scale(1.080 1)">6</text>
<text font-size="8.8" fill="#262626" stroke="#262626" stroke-width="0.1" text-anchor="middle" transform="translate(420.9 315.4) scale(1.080 1)">8</text>
<text font-size="8.8" fill="#262626" stroke="#262626" stroke-width="0.1" text-anchor="middle" transform="translate(446.1 315.4) scale(1.080 1)">10</text>
<text font-size="8.8" fill="#262626" stroke="#262626" stroke-width="0.1" text-anchor="middle" transform="translate(471.2 315.4) scale(1.080 1)">12</text>
<text font-size="8.8" fill="#262626" stroke="#262626" stroke-width="0.1" text-anchor="middle" transform="translate(496.3 315.4) scale(1.080 1)">14</text>
<text font-size="8.8" fill="#262626" stroke="#262626" stroke-width="0.1" text-anchor="middle" transform="translate(521.4 315.4) scale(1.080 1)">16</text>
<text font-size="11.5" fill="#1c1c1c" stroke="#1c1c1c" stroke-width="0.15" transform="translate(297.7 247.4) rotate(-90) scale(1.009 1)">Slip</text>
<text font-size="12" fill="#1c1c1c" stroke="#1c1c1c" stroke-width="0.25" transform="translate(422.4 325.1) scale(1.027 1)">Time/s</text>
<text font-size="9" fill="#1c1c1c" stroke="#1c1c1c" stroke-width="0.15" text-anchor="middle" transform="translate(436.1 334.0)">(d)</text>
<text font-size="9" fill="#1c1c1c" stroke="#1c1c1c" stroke-width="0.15" transform="translate(344.8 184.8) scale(1.166 1)">partial</text>
<text font-size="9" fill="#1c1c1c" stroke="#1c1c1c" stroke-width="0.15" transform="translate(330.2 195.0) scale(1.136 1)">amplification</text>
<text font-size="9.5" fill="#1c1c1c" stroke="#1c1c1c" stroke-width="0.15" transform="translate(341.0 235.8) scale(0.987 1)">R_W</text>
<text font-size="9.5" fill="#1c1c1c" stroke="#1c1c1c" stroke-width="0.15" transform="translate(369.0 254.7) scale(0.979 1)">F_W</text>
</g>
<g id="pe">
<path d="M175.5 351.5 L175.7 351.5 L176.0 351.5 L176.2 351.5 L176.5 351.5 L176.7 351.5 L177.0 351.5 L177.2 351.5 L177.5 351.5 L177.7 351.5 L178.0 351.5 L178.2 351.5 L178.4 351.5 L178.7 351.5 L178.9 351.5 L179.2 351.5 L179.4 351.5 L179.7 351.5 L179.9 351.5 L180.2 351.5 L180.4 351.5 L180.7 351.5 L180.9 351.5 L181.1 351.5 L181.4 351.5 L181.6 351.5 L181.9 384.8 L182.1 379.0 L182.4 376.8 L182.6 374.6 L182.9 372.3 L183.1 370.1 L183.4 368.8 L183.6 367.5 L183.8 366.1 L184.1 364.8 L184.3 363.5 L184.6 362.5 L184.8 361.5 L185.1 360.5 L185.3 359.5 L185.6 363.9 L185.8 373.7 L186.1 392.4 L186.3 411.2 L186.6 430.0 L186.8 425.2 L187.0 420.4 L187.3 415.2 L187.5 409.7 L187.8 404.1 L188.0 398.6 L188.3 396.0 L188.5 396.4 L188.8 396.8 L189.0 397.1 L189.3 397.5 L189.5 397.9 L189.7 399.4 L190.0 402.2 L190.2 404.9 L190.5 407.6 L190.7 410.4 L191.0 413.1 L191.2 413.7 L191.5 412.2 L191.7 410.7 L192.0 409.2 L192.2 407.7 L192.4 406.2 L192.7 404.7 L192.9 405.3 L193.2 405.9 L193.4 406.5 L193.7 407.1 L193.9 407.7 L194.2 408.2 L194.4 408.8 L194.7 408.8 L194.9 408.2 L195.1 407.7 L195.4 407.1 L195.6 406.5 L195.9 405.9 L196.1 405.3 L196.4 401.5 L196.6 401.8 L196.9 404.2 L197.1 406.5 L197.4 408.8 L197.6 409.3 L197.8 407.7 L198.1 406.0 L198.3 404.4 L198.6 402.8 L198.8 404.4 L199.1 406.1 L199.3 407.9 L199.6 406.8 L199.8 405.7 L200.1 404.5 L200.3 403.4 L200.5 404.0 L200.8 405.0 L201.0 406.1 L201.3 407.1 L201.5 408.1 L201.8 408.6 L202.0 406.8 L202.3 405.1 L202.5 403.3 L202.8 404.3 L203.0 405.7 L203.2 407.1 L203.5 408.6 L203.7 409.4 L204.0 407.2 L204.2 405.1 L204.5 402.9 L204.7 402.4 L205.0 403.5 L205.2 404.6 L205.5 405.7 L205.7 406.8 L205.9 406.6 L206.2 405.7 L206.4 404.8 L206.7 403.9 L206.9 404.7 L207.2 406.1 L207.4 407.6 L207.7 409.1 L207.9 410.5 L208.2 409.6 L208.4 408.2 L208.7 406.7 L208.9 405.3 L209.1 404.8 L209.4 406.3 L209.6 407.7 L209.9 409.2 L210.1 408.8 L210.4 407.1 L210.6 405.3 L210.9 403.6 L211.1 404.7 L211.4 406.2 L211.6 407.6 L211.8 409.0 L212.1 408.3 L212.3 406.5 L212.6 404.8 L212.8 403.1 L213.1 401.3 L213.3 402.1 L213.6 404.6 L213.8 407.0 L214.1 409.5 L214.3 408.2 L214.5 406.4 L214.8 404.6 L215.0 403.9 L215.3 404.7 L215.5 405.5 L215.8 406.3 L216.0 407.1 L216.3 407.9 L216.5 407.0 L216.8 405.7 L217.0 404.3 L217.2 403.1 L217.5 404.6 L217.7 406.0 L218.0 407.4 L218.2 407.6 L218.5 406.0 L218.7 404.5 L219.0 402.9 L219.2 402.7 L219.5 404.6 L219.7 406.5 L219.9 408.4 L220.2 410.3 L220.4 409.5 L220.7 407.4 L220.9 405.2 L221.2 403.1 L221.4 403.5 L221.7 404.2 L221.9 405.0 L222.2 405.7 L222.4 406.4 L222.6 406.7 L222.9 405.6 L223.1 404.5 L223.4 404.2 L223.6 405.1 L223.9 406.1 L224.1 407.0 L224.4 407.9 L224.6 407.9 L224.9 406.2 L225.1 404.6 L225.3 403.0 L225.6 402.5 L225.8 404.7 L226.1 406.9 L226.3 409.2 L226.6 409.8 L226.8 408.5 L227.1 407.2 L227.3 405.8 L227.6 404.5 L227.8 404.2 L228.0 405.3 L228.3 406.5 L228.5 407.6 L228.8 407.7 L229.0 405.8 L229.3 404.0 L229.5 402.2 L229.8 403.4 L230.0 404.8 L230.3 406.2 L230.5 407.6 L230.8 409.0 L231.0 410.0 L231.2 407.3 L231.5 404.7 L231.7 402.0 L232.0 404.0 L232.2 406.2 L232.5 408.5 L232.7 410.7 L233.0 409.2 L233.2 407.4 L233.5 405.5 L233.7 403.7 L233.9 401.8 L234.2 402.6 L234.4 404.4 L234.7 406.2 L234.9 406.3 L235.2 404.9 L235.4 403.6 L235.7 402.2 L235.9 400.9 L236.2 402.5 L236.4 404.8 L236.6 407.2 L236.9 409.6 L237.1 410.0 L237.4 408.1 L237.6 406.3 L237.9 404.5 L238.1 403.0 L238.4 404.3 L238.6 405.5 L238.9 406.8 L239.1 408.0 L239.3 409.3 L239.6 407.9 L239.8 405.9 L240.1 403.9 L240.3 402.0 L240.6 404.6 L240.8 407.1 L241.1 409.7 L241.3 409.5 L241.6 407.7 L241.8 405.9 L242.0 404.1 L242.3 402.4 L242.5 401.4 L242.8 403.8 L243.0 406.2 L243.3 408.5 L243.5 409.9 L243.8 406.9 L244.0 403.9 L244.3 400.8 L244.5 402.6 L244.7 404.4 L245.0 406.2 L245.2 408.1 L245.5 407.6 L245.7 405.7 L246.0 403.8 L246.2 401.9 L246.5 402.9 L246.7 404.8 L247.0 406.7 L247.2 408.6 L247.4 410.6 L247.7 409.4 L247.9 408.0 L248.2 406.5 L248.4 405.1 L248.7 403.7 L248.9 404.9 L249.2 407.7 L249.4 410.5 L249.7 410.9 L249.9 408.9 L250.1 407.0 L250.4 405.0 L250.6 403.5 L250.9 404.6 L251.1 405.7 L251.4 406.8 L251.6 407.9 L251.9 409.1 L252.1 407.9 L252.4 406.5 L252.6 405.2 L252.9 403.8 L253.1 404.3 L253.3 406.1 L253.6 407.8 L253.8 407.6 L254.1 406.6 L254.3 405.7 L254.6 404.7 L254.8 403.7 L255.1 404.4 L255.3 406.1 L255.6 407.9 L255.8 407.8 L256.0 406.7 L256.3 405.6 L256.5 404.5 L256.8 404.0 L257.0 405.4 L257.3 406.9 L257.5 408.3 L257.8 409.8 L258.0 410.3 L258.3 408.2 L258.5 406.0 L258.7 403.9 L259.0 401.7 L259.2 403.0 L259.5 405.1 L259.7 407.2 L260.0 408.9 L260.2 406.8 L260.5 404.8 L260.7 402.8 L261.0 401.6 L261.2 403.7 L261.4 405.8 L261.7 408.0 L261.9 410.1 L262.2 409.4 L262.4 407.7 L262.7 406.0 L262.9 404.3 L263.2 402.6 L263.4 401.8 L263.7 403.3 L263.9 404.8 L264.1 406.3 L264.4 406.7 L264.6 405.5 L264.9 404.2 L265.1 402.9 L265.4 401.6 L265.6 402.4 L265.9 405.2 L266.1 408.1 L266.4 408.2 L266.6 406.6 L266.8 405.0 L267.1 403.4 L267.3 402.2 L267.6 403.8 L267.8 405.5 L268.1 407.2 L268.3 408.9 L268.6 410.5 L268.8 408.6 L269.1 406.7 L269.3 404.8 L269.5 403.7 L269.8 405.7 L270.0 407.7 L270.3 409.7 L270.5 409.7 L270.8 408.1 L271.0 406.5 L271.3 405.0 L271.5 403.4 L271.8 405.2 L272.0 407.3 L272.2 409.4 L272.5 409.6 L272.7 408.2 L273.0 406.7 L273.2 405.2 L273.5 403.7 L273.7 402.3 L274.0 404.2 L274.2 406.6 L274.5 409.1 L274.7 408.3 L274.9 406.8 L275.2 405.3 L275.4 403.8 L275.7 402.3 L275.9 403.7 L276.2 405.2 L276.4 406.8 L276.7 408.3 L276.9 407.3 L277.2 405.2 L277.4 403.1 L277.7 401.0 L277.9 402.4 L278.1 404.1 L278.4 405.8 L278.6 407.4 L278.9 409.1 L279.1 409.1 L279.4 407.1 L279.6 405.1 L279.9 403.6 L280.1 404.6 L280.4 405.6 L280.6 406.7 L280.8 407.7 L281.1 408.7 L281.3 407.3 L281.6 405.6 L281.8 403.8 L282.1 402.1 L282.3 403.9 L282.6 406.1 L282.8 408.2 L283.1 409.1 L283.3 406.7 L283.5 404.4 L283.8 402.0 L284.0 403.1 L284.3 404.2 L284.5 405.4 L284.8 406.5 L285.0 406.4 L285.3 405.4 L285.5 404.5 L285.8 403.5 L286.0 402.6 L286.2 401.6 L286.5 402.9 L286.7 404.7 L287.0 406.4 L287.2 406.5 L287.5 404.5 L287.7 402.6 L288.0 400.6 L288.2 401.8 L288.5 403.3 L288.7 404.9 L288.9 406.4 L289.2 407.2 L289.4 405.6 L289.7 403.9 L289.9 402.3 L290.2 400.6 L290.4 401.9 L290.7 403.5 L290.9 405.0 L291.2 406.5 L291.4 408.1 L291.6 408.3 L291.9 406.3 L292.1 404.2 L292.4 402.2 L292.6 401.3 L292.9 404.4 L293.1 407.5 L293.4 408.7 L293.6 406.5 L293.9 404.2 L294.1 401.9 L294.3 400.7 L294.6 402.0 L294.8 403.3 L295.1 404.6 L295.3 405.9 L295.6 406.9 L295.8 405.9 L296.1 404.9 L296.3 403.8 L296.6 402.8 L296.8 403.2 L297.1 404.9 L297.3 406.5 L297.5 408.2 L297.8 408.4 L298.0 407.2 L298.3 406.0 L298.5 404.8 L298.8 403.7 L299.0 404.3 L299.3 405.8 L299.5 407.3 L299.8 408.8 L300.0 409.1 L300.2 407.5 L300.5 405.8 L300.7 404.1 L301.0 404.6 L301.2 405.4 L301.5 406.2 L301.7 407.0 L302.0 407.8 L302.2 405.2 L302.5 402.4 L302.7 399.7 L302.9 400.6 L303.2 402.1 L303.4 403.6 L303.7 405.0 L303.9 406.5 L304.2 405.6 L304.4 403.7 L304.7 401.8 L304.9 402.2 L305.2 404.3 L305.4 406.4 L305.6 408.4 L305.9 409.9 L306.1 408.3 L306.4 406.6 L306.6 405.0 L306.9 403.4 L307.1 404.6 L307.4 405.9 L307.6 407.1 L307.9 408.4 L308.1 407.3 L308.3 405.5 L308.6 403.6 L308.8 401.7 L309.1 403.2 L309.3 404.8 L309.6 406.3 L309.8 407.9 L310.1 409.5 L310.3 409.2 L310.6 407.3 L310.8 405.3 L311.0 403.4 L311.3 401.5 L311.5 403.2 L311.8 406.0 L312.0 408.8 L312.3 408.8 L312.5 407.7 L312.8 406.6 L313.0 405.6 L313.3 404.5 L313.5 404.0 L313.7 405.1 L314.0 406.2 L314.2 407.3 L314.5 405.7 L314.7 403.9 L315.0 402.0 L315.2 400.8 L315.5 402.5 L315.7 404.3 L316.0 406.0 L316.2 407.4 L316.4 406.4 L316.7 405.5 L316.9 404.5 L317.2 403.5 L317.4 403.0 L317.7 404.4 L317.9 405.8 L318.2 407.2 L318.4 408.7 L318.7 409.3 L318.9 407.8 L319.2 406.3 L319.4 404.9 L319.6 404.9 L319.9 406.1 L320.1 407.4 L320.4 408.6 L320.6 409.8 L320.9 408.8 L321.1 407.4 L321.4 406.0 L321.6 404.6 L321.9 403.5 L322.1 404.6 L322.3 405.8 L322.6 406.9 L322.8 406.3 L323.1 405.4 L323.3 404.5 L323.6 403.6 L323.8 404.1 L324.1 405.2 L324.3 406.3 L324.6 407.4 L324.8 407.4 L325.0 406.4 L325.3 405.4 L325.5 404.4 L325.8 403.4 L326.0 402.9 L326.3 405.6 L326.5 408.4 L326.8 407.9 L327.0 406.0 L327.3 404.2 L327.5 402.3 L327.7 400.6 L328.0 402.6 L328.2 404.6 L328.5 406.6 L328.7 408.3 L329.0 407.2 L329.2 406.1 L329.5 405.0 L329.7 403.9 L330.0 402.8 L330.2 403.8 L330.4 405.0 L330.7 406.3 L330.9 407.2 L331.2 406.4 L331.4 405.6 L331.7 404.7 L331.9 403.9 L332.2 403.3 L332.4 405.6 L332.7 407.9 L332.9 410.1 L333.1 408.5 L333.4 406.9 L333.6 405.3 L333.9 403.7 L334.1 403.7 L334.4 403.7 L334.6 401.9 L334.9 406.5 L335.1 411.1 L335.4 413.3 L335.6 408.1 L335.8 402.9 L336.1 403.7 L336.3 410.5 L336.6 417.3 L336.8 413.8 L337.1 406.8 L337.3 399.9 L337.6 406.8 L337.8 413.7 L338.1 416.7 L338.3 408.1 L338.5 399.4 L338.8 398.9 L339.0 406.5 L339.3 414.0 L339.5 412.0 L339.8 406.9 L340.0 401.7 L340.3 405.5 L340.5 409.2 L340.8 410.9 L341.0 406.3 L341.2 401.6 L341.5 402.9 L341.7 410.0 L342.0 417.1 L342.2 412.7 L342.5 404.5 L342.7 396.2 L343.0 403.3 L343.2 410.4 L343.5 414.2 L343.7 408.3 L344.0 402.4 L344.2 401.3 L344.4 405.0 L344.7 408.7 L344.9 406.5 L345.2 402.2 L345.4 398.0 L345.7 403.4 L345.9 408.7 L346.2 411.1 L346.4 404.8 L346.7 398.5 L346.9 399.2 L347.1 406.9 L347.4 414.6 L347.6 411.1 L347.9 404.0 L348.1 396.9 L348.4 402.1 L348.6 407.3 L348.9 409.6 L349.1 403.3 L349.4 397.0 L349.6 397.0 L349.8 403.2 L350.1 409.4 L350.3 408.1 L350.6 404.3 L350.8 400.5 L351.1 409.1 L351.3 401.3 L351.6 393.5 L351.8 391.1 L352.1 394.2 L352.3 397.2 L352.5 400.3 L352.8 399.7 L353.0 399.2 L353.3 398.6 L353.5 398.1 L353.8 398.1 L354.0 398.1 L354.3 398.1 L354.5 398.1 L354.8 398.1 L355.0 398.1 L355.2 398.1 L355.5 398.1 L355.7 398.1 L356.0 398.1 L356.2 398.1 L356.5 398.1 L356.7 398.1 L357.0 398.1 L357.2 398.1 L357.5 398.1 L357.7 398.1 L357.9 398.1 L358.2 398.1 L358.4 398.1 L358.7 398.1 L358.9 398.1 L359.2 398.1 L359.4 398.1 L359.7 398.1 L359.9 398.1 L360.2 398.1 L360.4 398.1 L360.6 398.1 L360.9 398.1 L361.1 398.1 L361.4 398.1 L361.6 398.1 L361.9 398.1 L362.1 398.1 L362.4 398.1 L362.6 398.1 L362.9 398.1 L363.1 398.1 L363.4 398.1 L363.6 398.1 L363.8 398.1 L364.1 398.1 L364.3 398.1 L364.6 398.1 L364.8 398.1 L365.1 398.1 L365.3 398.1 L365.6 398.1 L365.8 398.1 L366.1 398.1 L366.3 398.1 L366.5 398.1 L366.8 398.1 L367.0 398.1 L367.3 398.1 L367.5 398.1 L367.8 398.1 L368.0 398.1 L368.3 398.1 L368.5 398.1 L368.8 398.1 L369.0 398.1 L369.2 398.1 L369.5 398.1 L369.7 398.1 L370.0 398.1 L370.2 398.1 L370.5 398.1 L370.7 398.1 L371.0 398.1 L371.2 398.1 L371.5 398.1 L371.7 398.1 L371.9 398.1 L372.2 398.1 L372.4 398.1 L372.7 398.1 L372.9 398.1 L373.2 398.1 L373.4 398.1 L373.7 398.1 L373.9 398.1 L374.2 398.1 L374.4 398.1 L374.6 398.1 L374.9 398.1 L375.1 398.1 L375.4 398.1 L375.6 398.1 L375.9 398.1 L376.1 398.1 L376.4 398.1 L376.6 398.1 L376.9 398.1 L377.1 398.1 L377.3 398.1 L377.6 398.1 L377.8 398.1 L378.1 398.1 L378.3 398.1 L378.6 398.1 L378.8 398.1 L379.1 398.1 L379.3 398.1 L379.6 398.1 L379.8 398.1 L380.0 398.1 L380.3 398.1 L380.5 398.1 L380.8 398.1 L381.0 398.1 L381.3 398.1 L381.5 398.1 L381.8 398.1 L382.0 398.1 L382.3 398.1 L382.5 413.4" fill="none" stroke="#ff2f2f" stroke-width="0.55" stroke-linejoin="round"/>
<path d="M382.5 398.1 L382.6 421.1" fill="none" stroke="#ff2f2f" stroke-width="0.6" />
<path d="M175.5 484.5 L177.2 482.5 L179.0 480.5 L180.7 478.5 L182.5 476.5 L184.2 474.5 L186.0 472.5 L187.7 470.5 L189.4 468.6 L191.2 466.6 L192.9 464.7 L194.7 462.8 L196.4 460.9 L198.2 459.1 L199.9 457.2 L201.7 455.4 L203.4 453.6 L205.1 451.8 L206.9 450.0 L208.6 448.2 L210.4 446.5 L212.1 444.8 L213.9 443.1 L215.6 441.4 L217.3 439.7 L219.1 438.0 L220.8 436.4 L222.6 434.8 L224.3 433.2 L226.1 431.6 L227.8 430.0 L229.6 428.5 L231.3 426.9 L233.0 425.4 L234.8 423.9 L236.5 422.5 L238.3 421.0 L240.0 419.6 L241.8 418.1 L243.5 416.7 L245.2 415.3 L247.0 414.0 L248.7 412.6 L250.5 411.3 L252.2 409.9 L254.0 408.6 L255.7 407.4 L257.5 406.1 L259.2 404.8 L260.9 403.6 L262.7 402.4 L264.4 401.2 L266.2 400.0 L267.9 398.9 L269.7 397.7 L271.4 396.6 L273.1 395.5 L274.9 394.4 L276.6 393.3 L278.4 392.3 L280.1 391.2 L281.9 390.2 L283.6 389.2 L285.4 388.2 L287.1 387.3 L288.8 386.3 L290.6 385.4 L292.3 384.5 L294.1 383.6 L295.8 382.7 L297.6 381.8 L299.3 381.0 L301.0 380.2 L302.8 379.3 L304.5 378.6 L306.3 377.8 L308.0 377.0 L309.8 376.3 L311.5 375.6 L313.2 374.9 L315.0 374.2 L316.7 373.5 L318.5 372.9 L320.2 372.2 L322.0 371.6 L323.7 371.0 L325.5 370.4 L327.2 369.9 L328.9 369.3 L330.7 368.8 L332.4 368.3 L334.2 367.8 L335.9 367.3 L337.7 366.9 L339.4 366.5 L341.1 366.0 L342.9 365.6 L344.6 365.2 L346.4 364.9 L348.1 364.5 L349.9 364.2 L351.6 363.9 L353.4 363.6 L355.1 363.3 L356.8 363.0 L358.6 362.8 L360.3 362.6 L362.1 362.4 L363.8 362.2 L365.6 362.0 L367.3 361.9 L369.0 361.7 L370.8 361.6 L372.5 361.5 L374.3 361.4 L376.0 361.3 L377.8 361.3 L379.5 361.3 L381.3 361.2 L383.0 361.2" fill="none" stroke="#2a3a9e" stroke-width="0.9" stroke-dasharray="2.6 1.4" />
<line x1="200.1" y1="484.5" x2="200.1" y2="482.3" stroke="#929292" stroke-width="0.6" />
<line x1="200.1" y1="351.5" x2="200.1" y2="353.7" stroke="#929292" stroke-width="0.6" />
<line x1="224.6" y1="484.5" x2="224.6" y2="482.3" stroke="#929292" stroke-width="0.6" />
<line x1="224.6" y1="351.5" x2="224.6" y2="353.7" stroke="#929292" stroke-width="0.6" />
<line x1="249.2" y1="484.5" x2="249.2" y2="482.3" stroke="#929292" stroke-width="0.6" />
<line x1="249.2" y1="351.5" x2="249.2" y2="353.7" stroke="#929292" stroke-width="0.6" />
<line x1="273.7" y1="484.5" x2="273.7" y2="482.3" stroke="#929292" stroke-width="0.6" />
<line x1="273.7" y1="351.5" x2="273.7" y2="353.7" stroke="#929292" stroke-width="0.6" />
<line x1="298.3" y1="484.5" x2="298.3" y2="482.3" stroke="#929292" stroke-width="0.6" />
<line x1="298.3" y1="351.5" x2="298.3" y2="353.7" stroke="#929292" stroke-width="0.6" />
<line x1="322.8" y1="484.5" x2="322.8" y2="482.3" stroke="#929292" stroke-width="0.6" />
<line x1="322.8" y1="351.5" x2="322.8" y2="353.7" stroke="#929292" stroke-width="0.6" />
<line x1="347.4" y1="484.5" x2="347.4" y2="482.3" stroke="#929292" stroke-width="0.6" />
<line x1="347.4" y1="351.5" x2="347.4" y2="353.7" stroke="#929292" stroke-width="0.6" />
<line x1="371.9" y1="484.5" x2="371.9" y2="482.3" stroke="#929292" stroke-width="0.6" />
<line x1="371.9" y1="351.5" x2="371.9" y2="353.7" stroke="#929292" stroke-width="0.6" />
<line x1="175.5" y1="395.8" x2="177.7" y2="395.8" stroke="#ff8a8a" stroke-width="0.6" />
<line x1="175.5" y1="440.2" x2="177.7" y2="440.2" stroke="#ff8a8a" stroke-width="0.6" />
<line x1="396.5" y1="454.8" x2="394.3" y2="454.8" stroke="#929292" stroke-width="0.6" />
<line x1="396.5" y1="425.1" x2="394.3" y2="425.1" stroke="#929292" stroke-width="0.6" />
<line x1="396.5" y1="395.4" x2="394.3" y2="395.4" stroke="#929292" stroke-width="0.6" />
<line x1="396.5" y1="365.7" x2="394.3" y2="365.7" stroke="#929292" stroke-width="0.6" />
<line x1="175.5" y1="351.5" x2="396.5" y2="351.5" stroke="#929292" stroke-width="1" />
<line x1="175.5" y1="484.5" x2="396.5" y2="484.5" stroke="#929292" stroke-width="1" />
<line x1="396.5" y1="351.5" x2="396.5" y2="484.5" stroke="#929292" stroke-width="1" />
<line x1="175.5" y1="351.5" x2="175.5" y2="484.5" stroke="#ff8a8a" stroke-width="1" />
<line x1="175.5" y1="351.5" x2="181.6" y2="351.5" stroke="#ff8a8a" stroke-width="0.9" />
<line x1="192.3" y1="360.3" x2="209.7" y2="360.3" stroke="#ff2f2f" stroke-width="0.55" />
<line x1="273.7" y1="360.3" x2="294.2" y2="360.3" stroke="#2a3a9e" stroke-width="0.9" stroke-dasharray="2.6 1.4"/>
<text font-size="9.2" fill="#1c1c1c" stroke="#1c1c1c" stroke-width="0.15" transform="translate(211.9 362.9) scale(1.104 1)">Deceleration</text>
<text font-size="9.2" fill="#1c1c1c" stroke="#1c1c1c" stroke-width="0.15" transform="translate(295.3 358.5) scale(1.090 1)">Braking</text>
<text font-size="9.2" fill="#1c1c1c" stroke="#1c1c1c" stroke-width="0.15" transform="translate(294.2 368.4) scale(1.135 1)">distance</text>
<text font-size="10.5" fill="#ff2f2f" stroke="#ff2f2f" stroke-width="0.3" text-anchor="end" transform="translate(172.8 354.5) scale(1.105 1)">0</text>
<text font-size="10.5" fill="#ff2f2f" stroke="#ff2f2f" stroke-width="0.3" text-anchor="end" transform="translate(172.8 398.8) scale(1.132 1)">-1</text>
<text font-size="10.5" fill="#ff2f2f" stroke="#ff2f2f" stroke-width="0.3" text-anchor="end" transform="translate(172.8 443.2) scale(1.132 1)">-2</text>
<text font-size="10.5" fill="#ff2f2f" stroke="#ff2f2f" stroke-width="0.3" text-anchor="end" transform="translate(172.8 486.9) scale(1.132 1)">-3</text>
<text font-size="10" fill="#262626" stroke="#262626" stroke-width="0.1" text-anchor="middle" transform="translate(175.5 493.0) scale(1.080 1)">0</text>
<text font-size="10" fill="#262626" stroke="#262626" stroke-width="0.1" text-anchor="middle" transform="translate(200.1 493.0) scale(1.080 1)">2</text>
<text font-size="10" fill="#262626" stroke="#262626" stroke-width="0.1" text-anchor="middle" transform="translate(224.6 493.0) scale(1.080 1)">4</text>
<text font-size="10" fill="#262626" stroke="#262626" stroke-width="0.1" text-anchor="middle" transform="translate(249.2 493.0) scale(1.080 1)">6</text>
<text font-size="10" fill="#262626" stroke="#262626" stroke-width="0.1" text-anchor="middle" transform="translate(273.7 493.0) scale(1.080 1)">8</text>
<text font-size="10" fill="#262626" stroke="#262626" stroke-width="0.1" text-anchor="middle" transform="translate(298.3 493.0) scale(1.080 1)">10</text>
<text font-size="10" fill="#262626" stroke="#262626" stroke-width="0.1" text-anchor="middle" transform="translate(322.8 493.0) scale(1.080 1)">12</text>
<text font-size="10" fill="#262626" stroke="#262626" stroke-width="0.1" text-anchor="middle" transform="translate(347.4 493.0) scale(1.080 1)">14</text>
<text font-size="10" fill="#262626" stroke="#262626" stroke-width="0.1" text-anchor="middle" transform="translate(371.9 493.0) scale(1.080 1)">16</text>
<text font-size="10" fill="#262626" stroke="#262626" stroke-width="0.1" text-anchor="middle" transform="translate(397.3 493.0) scale(1.080 1)">18</text>
<text font-size="8" fill="#262626" stroke="#262626" stroke-width="0.1" transform="translate(399.4 485.0) scale(0.975 1)">0</text>
<text font-size="8" fill="#262626" stroke="#262626" stroke-width="0.1" transform="translate(399.4 457.5) scale(0.975 1)">40</text>
<text font-size="8" fill="#262626" stroke="#262626" stroke-width="0.1" transform="translate(399.4 427.8) scale(0.975 1)">80</text>
<text font-size="8" fill="#262626" stroke="#262626" stroke-width="0.1" transform="translate(399.4 398.1) scale(0.975 1)">120</text>
<text font-size="8" fill="#262626" stroke="#262626" stroke-width="0.1" transform="translate(399.4 368.4) scale(0.975 1)">160</text>
<text font-size="11.5" fill="#ff2f2f" stroke="#ff2f2f" stroke-width="0.15" transform="translate(157.1 479.0) rotate(-90) scale(1.017 1)">Vehicle deceleration/(m/s²)</text>
<text font-size="11.5" fill="#1c1c1c" stroke="#1c1c1c" stroke-width="0.15" transform="translate(426.0 468.0) rotate(-90) scale(1.011 1)">Braking distance/m</text>
<text font-size="12" fill="#1c1c1c" stroke="#1c1c1c" stroke-width="0.25" transform="translate(272.5 503.7) scale(1.061 1)">Time/s</text>
<text font-size="9" fill="#1c1c1c" stroke="#1c1c1c" stroke-width="0.15" text-anchor="middle" transform="translate(287.3 512.4)">(e)</text>
</g>
</svg>
</body>
</html>
